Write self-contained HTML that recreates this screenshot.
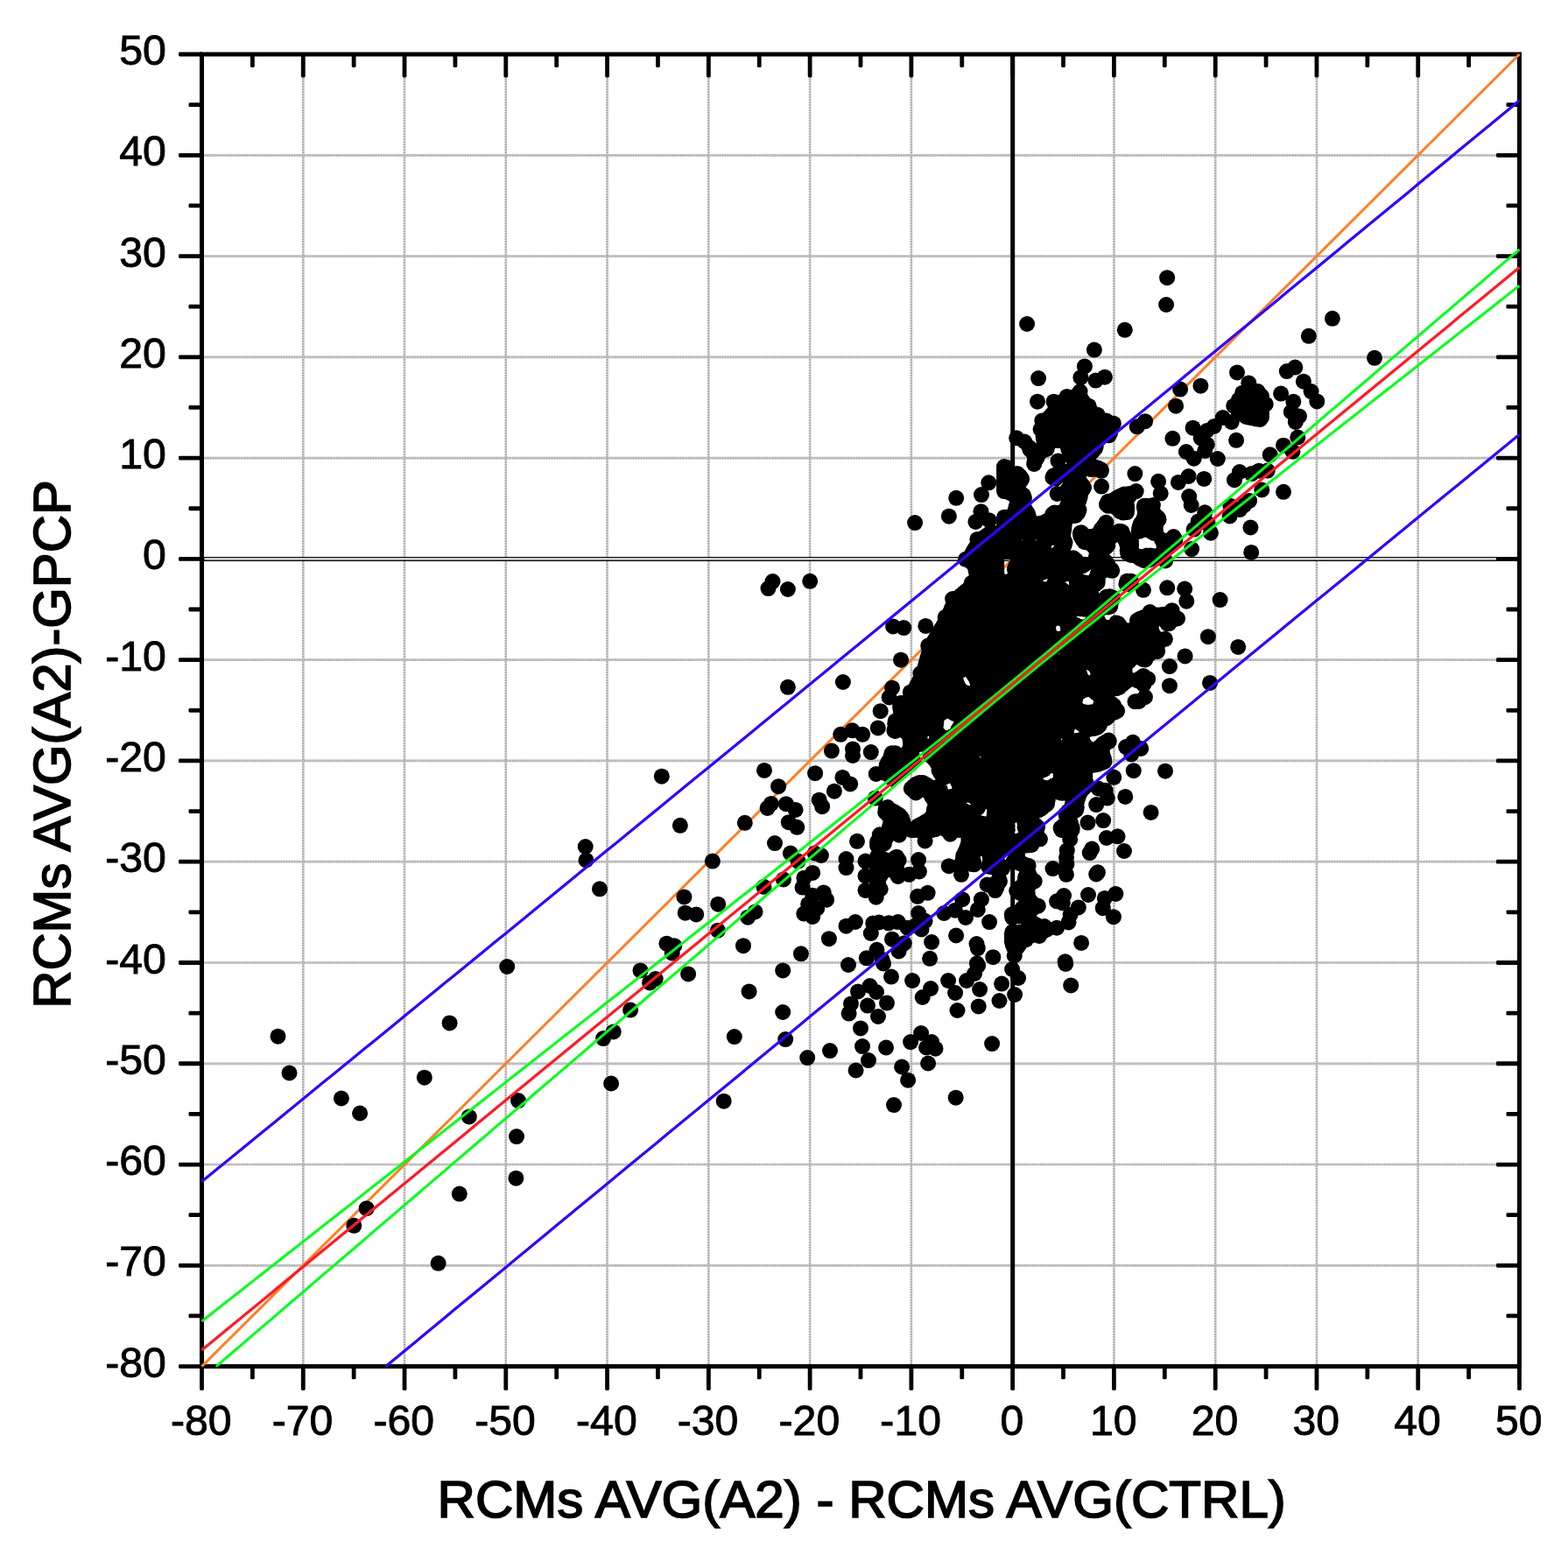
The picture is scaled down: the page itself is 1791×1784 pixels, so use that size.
<!DOCTYPE html>
<html lang="en"><head><meta charset="utf-8"><title>RCMs AVG(A2)-GPCP vs RCMs AVG(A2) - RCMs AVG(CTRL)</title>
<style>
html,body{margin:0;padding:0;background:#fff}
body{width:1791px;height:1784px;overflow:hidden}
svg{display:block}
text{font-family:"Liberation Sans",Arial,Helvetica,sans-serif;fill:#000}
.tk{font-size:48.2px;stroke:#000;stroke-width:0.9px}
.tt{font-size:60.1px;stroke:#000;stroke-width:1.7px}
.g{fill:none}
.ax{stroke:#000;stroke-width:5.0;fill:none}
.t{fill:#000}
.p{fill:#000}
</style></head><body>
<svg xmlns="http://www.w3.org/2000/svg" width="1791" height="1784" viewBox="0 0 1791 1784">
<rect width="1791" height="1784" fill="#fff"/>
<g class="g" stroke="#d6d6d6">
<line x1="346.3" y1="62" x2="346.3" y2="1560.6" stroke-width="2.5"/>
<line x1="462" y1="62" x2="462" y2="1560.6" stroke-width="2.5"/>
<line x1="577.8" y1="62" x2="577.8" y2="1560.6" stroke-width="2.5"/>
<line x1="693.6" y1="62" x2="693.6" y2="1560.6" stroke-width="2.5"/>
<line x1="809.3" y1="62" x2="809.3" y2="1560.6" stroke-width="2.5"/>
<line x1="925.1" y1="62" x2="925.1" y2="1560.6" stroke-width="2.5"/>
<line x1="1040.9" y1="62" x2="1040.9" y2="1560.6" stroke-width="2.5"/>
<line x1="1272.4" y1="62" x2="1272.4" y2="1560.6" stroke-width="2.5"/>
<line x1="1388.2" y1="62" x2="1388.2" y2="1560.6" stroke-width="2.5"/>
<line x1="1504" y1="62" x2="1504" y2="1560.6" stroke-width="2.5"/>
<line x1="1619.7" y1="62" x2="1619.7" y2="1560.6" stroke-width="2.5"/>
<line x1="230.5" y1="1445.3" x2="1735.5" y2="1445.3" stroke-width="2.7"/>
<line x1="230.5" y1="1330" x2="1735.5" y2="1330" stroke-width="2.7"/>
<line x1="230.5" y1="1214.8" x2="1735.5" y2="1214.8" stroke-width="2.7"/>
<line x1="230.5" y1="1099.5" x2="1735.5" y2="1099.5" stroke-width="2.7"/>
<line x1="230.5" y1="984.2" x2="1735.5" y2="984.2" stroke-width="2.7"/>
<line x1="230.5" y1="868.9" x2="1735.5" y2="868.9" stroke-width="2.7"/>
<line x1="230.5" y1="753.7" x2="1735.5" y2="753.7" stroke-width="2.7"/>
<line x1="230.5" y1="523.1" x2="1735.5" y2="523.1" stroke-width="2.7"/>
<line x1="230.5" y1="407.8" x2="1735.5" y2="407.8" stroke-width="2.7"/>
<line x1="230.5" y1="292.6" x2="1735.5" y2="292.6" stroke-width="2.7"/>
<line x1="230.5" y1="177.3" x2="1735.5" y2="177.3" stroke-width="2.7"/>
</g>
<g class="g" stroke="#b3b3b3" stroke-dasharray="2 1">
<line x1="346.3" y1="62" x2="346.3" y2="1560.6" stroke-width="2.5"/>
<line x1="462" y1="62" x2="462" y2="1560.6" stroke-width="2.5"/>
<line x1="577.8" y1="62" x2="577.8" y2="1560.6" stroke-width="2.5"/>
<line x1="693.6" y1="62" x2="693.6" y2="1560.6" stroke-width="2.5"/>
<line x1="809.3" y1="62" x2="809.3" y2="1560.6" stroke-width="2.5"/>
<line x1="925.1" y1="62" x2="925.1" y2="1560.6" stroke-width="2.5"/>
<line x1="1040.9" y1="62" x2="1040.9" y2="1560.6" stroke-width="2.5"/>
<line x1="1272.4" y1="62" x2="1272.4" y2="1560.6" stroke-width="2.5"/>
<line x1="1388.2" y1="62" x2="1388.2" y2="1560.6" stroke-width="2.5"/>
<line x1="1504" y1="62" x2="1504" y2="1560.6" stroke-width="2.5"/>
<line x1="1619.7" y1="62" x2="1619.7" y2="1560.6" stroke-width="2.5"/>
<line x1="230.5" y1="1445.3" x2="1735.5" y2="1445.3" stroke-width="2.7"/>
<line x1="230.5" y1="1330" x2="1735.5" y2="1330" stroke-width="2.7"/>
<line x1="230.5" y1="1214.8" x2="1735.5" y2="1214.8" stroke-width="2.7"/>
<line x1="230.5" y1="1099.5" x2="1735.5" y2="1099.5" stroke-width="2.7"/>
<line x1="230.5" y1="984.2" x2="1735.5" y2="984.2" stroke-width="2.7"/>
<line x1="230.5" y1="868.9" x2="1735.5" y2="868.9" stroke-width="2.7"/>
<line x1="230.5" y1="753.7" x2="1735.5" y2="753.7" stroke-width="2.7"/>
<line x1="230.5" y1="523.1" x2="1735.5" y2="523.1" stroke-width="2.7"/>
<line x1="230.5" y1="407.8" x2="1735.5" y2="407.8" stroke-width="2.7"/>
<line x1="230.5" y1="292.6" x2="1735.5" y2="292.6" stroke-width="2.7"/>
<line x1="230.5" y1="177.3" x2="1735.5" y2="177.3" stroke-width="2.7"/>
</g>
<line class="ax" x1="230.5" y1="638.4" x2="1735.5" y2="638.4"/>
<line x1="233.5" y1="638.4" x2="1709.5" y2="638.4" stroke="#cdcdcd" stroke-width="2.9"/>
<line class="ax" x1="1156.7" y1="62" x2="1156.7" y2="1560.6"/>
<rect class="ax" x="230.5" y="62" width="1505" height="1498.6"/>
<g class="t">
<rect x="228.1" y="1559.6" width="4.8" height="28.3" rx="1.4"/>
<rect x="204" y="1558.2" width="27.5" height="4.8" rx="1.4"/>
<rect x="285.98" y="1559.6" width="4.8" height="15.7" rx="1.4"/>
<rect x="215.5" y="1500.56" width="16" height="4.8" rx="1.4"/>
<rect x="285.98" y="61" width="4.8" height="16" rx="1.4"/>
<rect x="1720.5" y="1500.56" width="16" height="4.8" rx="1.4"/>
<rect x="343.87" y="1559.6" width="4.8" height="28.3" rx="1.4"/>
<rect x="204" y="1442.92" width="27.5" height="4.8" rx="1.4"/>
<rect x="343.87" y="61" width="4.8" height="27.5" rx="1.4"/>
<rect x="1709" y="1442.92" width="27.5" height="4.8" rx="1.4"/>
<rect x="401.75" y="1559.6" width="4.8" height="15.7" rx="1.4"/>
<rect x="215.5" y="1385.28" width="16" height="4.8" rx="1.4"/>
<rect x="401.75" y="61" width="4.8" height="16" rx="1.4"/>
<rect x="1720.5" y="1385.28" width="16" height="4.8" rx="1.4"/>
<rect x="459.64" y="1559.6" width="4.8" height="28.3" rx="1.4"/>
<rect x="204" y="1327.65" width="27.5" height="4.8" rx="1.4"/>
<rect x="459.64" y="61" width="4.8" height="27.5" rx="1.4"/>
<rect x="1709" y="1327.65" width="27.5" height="4.8" rx="1.4"/>
<rect x="517.52" y="1559.6" width="4.8" height="15.7" rx="1.4"/>
<rect x="215.5" y="1270.01" width="16" height="4.8" rx="1.4"/>
<rect x="517.52" y="61" width="4.8" height="16" rx="1.4"/>
<rect x="1720.5" y="1270.01" width="16" height="4.8" rx="1.4"/>
<rect x="575.41" y="1559.6" width="4.8" height="28.3" rx="1.4"/>
<rect x="204" y="1212.37" width="27.5" height="4.8" rx="1.4"/>
<rect x="575.41" y="61" width="4.8" height="27.5" rx="1.4"/>
<rect x="1709" y="1212.37" width="27.5" height="4.8" rx="1.4"/>
<rect x="633.29" y="1559.6" width="4.8" height="15.7" rx="1.4"/>
<rect x="215.5" y="1154.73" width="16" height="4.8" rx="1.4"/>
<rect x="633.29" y="61" width="4.8" height="16" rx="1.4"/>
<rect x="1720.5" y="1154.73" width="16" height="4.8" rx="1.4"/>
<rect x="691.18" y="1559.6" width="4.8" height="28.3" rx="1.4"/>
<rect x="204" y="1097.09" width="27.5" height="4.8" rx="1.4"/>
<rect x="691.18" y="61" width="4.8" height="27.5" rx="1.4"/>
<rect x="1709" y="1097.09" width="27.5" height="4.8" rx="1.4"/>
<rect x="749.06" y="1559.6" width="4.8" height="15.7" rx="1.4"/>
<rect x="215.5" y="1039.45" width="16" height="4.8" rx="1.4"/>
<rect x="749.06" y="61" width="4.8" height="16" rx="1.4"/>
<rect x="1720.5" y="1039.45" width="16" height="4.8" rx="1.4"/>
<rect x="806.95" y="1559.6" width="4.8" height="28.3" rx="1.4"/>
<rect x="204" y="981.82" width="27.5" height="4.8" rx="1.4"/>
<rect x="806.95" y="61" width="4.8" height="27.5" rx="1.4"/>
<rect x="1709" y="981.82" width="27.5" height="4.8" rx="1.4"/>
<rect x="864.83" y="1559.6" width="4.8" height="15.7" rx="1.4"/>
<rect x="215.5" y="924.18" width="16" height="4.8" rx="1.4"/>
<rect x="864.83" y="61" width="4.8" height="16" rx="1.4"/>
<rect x="1720.5" y="924.18" width="16" height="4.8" rx="1.4"/>
<rect x="922.72" y="1559.6" width="4.8" height="28.3" rx="1.4"/>
<rect x="204" y="866.54" width="27.5" height="4.8" rx="1.4"/>
<rect x="922.72" y="61" width="4.8" height="27.5" rx="1.4"/>
<rect x="1709" y="866.54" width="27.5" height="4.8" rx="1.4"/>
<rect x="980.6" y="1559.6" width="4.8" height="15.7" rx="1.4"/>
<rect x="215.5" y="808.9" width="16" height="4.8" rx="1.4"/>
<rect x="980.6" y="61" width="4.8" height="16" rx="1.4"/>
<rect x="1720.5" y="808.9" width="16" height="4.8" rx="1.4"/>
<rect x="1038.48" y="1559.6" width="4.8" height="28.3" rx="1.4"/>
<rect x="204" y="751.26" width="27.5" height="4.8" rx="1.4"/>
<rect x="1038.48" y="61" width="4.8" height="27.5" rx="1.4"/>
<rect x="1709" y="751.26" width="27.5" height="4.8" rx="1.4"/>
<rect x="1096.37" y="1559.6" width="4.8" height="15.7" rx="1.4"/>
<rect x="215.5" y="693.62" width="16" height="4.8" rx="1.4"/>
<rect x="1096.37" y="61" width="4.8" height="16" rx="1.4"/>
<rect x="1720.5" y="693.62" width="16" height="4.8" rx="1.4"/>
<rect x="1154.25" y="1559.6" width="4.8" height="28.3" rx="1.4"/>
<rect x="204" y="635.98" width="27.5" height="4.8" rx="1.4"/>
<rect x="1154.25" y="61" width="4.8" height="27.5" rx="1.4"/>
<rect x="1709" y="635.98" width="27.5" height="4.8" rx="1.4"/>
<rect x="1212.14" y="1559.6" width="4.8" height="15.7" rx="1.4"/>
<rect x="215.5" y="578.35" width="16" height="4.8" rx="1.4"/>
<rect x="1212.14" y="61" width="4.8" height="16" rx="1.4"/>
<rect x="1720.5" y="578.35" width="16" height="4.8" rx="1.4"/>
<rect x="1270.02" y="1559.6" width="4.8" height="28.3" rx="1.4"/>
<rect x="204" y="520.71" width="27.5" height="4.8" rx="1.4"/>
<rect x="1270.02" y="61" width="4.8" height="27.5" rx="1.4"/>
<rect x="1709" y="520.71" width="27.5" height="4.8" rx="1.4"/>
<rect x="1327.91" y="1559.6" width="4.8" height="15.7" rx="1.4"/>
<rect x="215.5" y="463.07" width="16" height="4.8" rx="1.4"/>
<rect x="1327.91" y="61" width="4.8" height="16" rx="1.4"/>
<rect x="1720.5" y="463.07" width="16" height="4.8" rx="1.4"/>
<rect x="1385.79" y="1559.6" width="4.8" height="28.3" rx="1.4"/>
<rect x="204" y="405.43" width="27.5" height="4.8" rx="1.4"/>
<rect x="1385.79" y="61" width="4.8" height="27.5" rx="1.4"/>
<rect x="1709" y="405.43" width="27.5" height="4.8" rx="1.4"/>
<rect x="1443.68" y="1559.6" width="4.8" height="15.7" rx="1.4"/>
<rect x="215.5" y="347.79" width="16" height="4.8" rx="1.4"/>
<rect x="1443.68" y="61" width="4.8" height="16" rx="1.4"/>
<rect x="1720.5" y="347.79" width="16" height="4.8" rx="1.4"/>
<rect x="1501.56" y="1559.6" width="4.8" height="28.3" rx="1.4"/>
<rect x="204" y="290.15" width="27.5" height="4.8" rx="1.4"/>
<rect x="1501.56" y="61" width="4.8" height="27.5" rx="1.4"/>
<rect x="1709" y="290.15" width="27.5" height="4.8" rx="1.4"/>
<rect x="1559.45" y="1559.6" width="4.8" height="15.7" rx="1.4"/>
<rect x="215.5" y="232.52" width="16" height="4.8" rx="1.4"/>
<rect x="1559.45" y="61" width="4.8" height="16" rx="1.4"/>
<rect x="1720.5" y="232.52" width="16" height="4.8" rx="1.4"/>
<rect x="1617.33" y="1559.6" width="4.8" height="28.3" rx="1.4"/>
<rect x="204" y="174.88" width="27.5" height="4.8" rx="1.4"/>
<rect x="1617.33" y="61" width="4.8" height="27.5" rx="1.4"/>
<rect x="1709" y="174.88" width="27.5" height="4.8" rx="1.4"/>
<rect x="1675.22" y="1559.6" width="4.8" height="15.7" rx="1.4"/>
<rect x="215.5" y="117.24" width="16" height="4.8" rx="1.4"/>
<rect x="1675.22" y="61" width="4.8" height="16" rx="1.4"/>
<rect x="1720.5" y="117.24" width="16" height="4.8" rx="1.4"/>
<rect x="1733.1" y="1559.6" width="4.8" height="28.3" rx="1.4"/>
<rect x="204" y="59.6" width="27.5" height="4.8" rx="1.4"/>
</g>
<line x1="230.5" y1="1560.6" x2="1735.5" y2="62" stroke="#ff7f27" stroke-width="3"/>
<g class="p">
<circle cx="317.5" cy="1183.7" r="9.0"/>
<circle cx="330.5" cy="1225.5" r="9.0"/>
<circle cx="389.9" cy="1254.5" r="9.0"/>
<circle cx="411.1" cy="1271.5" r="9.0"/>
<circle cx="513.6" cy="1168.4" r="9.0"/>
<circle cx="484.8" cy="1230.7" r="9.0"/>
<circle cx="535.8" cy="1275.5" r="9.0"/>
<circle cx="524.8" cy="1363.6" r="9.0"/>
<circle cx="418.7" cy="1380.2" r="9.0"/>
<circle cx="404.3" cy="1399.8" r="9.0"/>
<circle cx="500.6" cy="1442.8" r="9.0"/>
<circle cx="579.2" cy="1104" r="9.0"/>
<circle cx="592" cy="1257.1" r="9.0"/>
<circle cx="590" cy="1298.1" r="9.0"/>
<circle cx="589.4" cy="1345.7" r="9.0"/>
<circle cx="689.1" cy="1186.1" r="9.0"/>
<circle cx="700.7" cy="1178.4" r="9.0"/>
<circle cx="720.1" cy="1153.6" r="9.0"/>
<circle cx="698.1" cy="1237.5" r="9.0"/>
<circle cx="731.5" cy="1108.4" r="9.0"/>
<circle cx="742.1" cy="1122.4" r="9.0"/>
<circle cx="748.7" cy="1118" r="9.0"/>
<circle cx="786.1" cy="1112.4" r="9.0"/>
<circle cx="855.6" cy="1132.4" r="9.0"/>
<circle cx="894.2" cy="1108.4" r="9.0"/>
<circle cx="894.2" cy="1156" r="9.0"/>
<circle cx="838.8" cy="1184.1" r="9.0"/>
<circle cx="897.2" cy="1187.1" r="9.0"/>
<circle cx="922.2" cy="1208.1" r="9.0"/>
<circle cx="826.7" cy="1257.7" r="9.0"/>
<circle cx="969" cy="1102" r="9.0"/>
<circle cx="1009" cy="1100.4" r="9.0"/>
<circle cx="1018" cy="1115.6" r="9.0"/>
<circle cx="1042.1" cy="1120" r="9.0"/>
<circle cx="993.6" cy="1126" r="9.0"/>
<circle cx="980" cy="1132.4" r="9.0"/>
<circle cx="1001" cy="1133" r="9.0"/>
<circle cx="972" cy="1146.4" r="9.0"/>
<circle cx="991" cy="1148.6" r="9.0"/>
<circle cx="1013" cy="1145.6" r="9.0"/>
<circle cx="969.6" cy="1157.6" r="9.0"/>
<circle cx="1003" cy="1161" r="9.0"/>
<circle cx="983" cy="1174.4" r="9.0"/>
<circle cx="1063.1" cy="1129" r="9.0"/>
<circle cx="1053.7" cy="1139" r="9.0"/>
<circle cx="1083.1" cy="1120" r="9.0"/>
<circle cx="1091.1" cy="1134" r="9.0"/>
<circle cx="1104.1" cy="1120" r="9.0"/>
<circle cx="1113.1" cy="1112" r="9.0"/>
<circle cx="1117.1" cy="1103" r="9.0"/>
<circle cx="1119.1" cy="1130" r="9.0"/>
<circle cx="1144.1" cy="1123.6" r="9.0"/>
<circle cx="1156.1" cy="1107" r="9.0"/>
<circle cx="1163.1" cy="1117" r="9.0"/>
<circle cx="1159.1" cy="1136" r="9.0"/>
<circle cx="1141.5" cy="1143" r="9.0"/>
<circle cx="1117.7" cy="1149.4" r="9.0"/>
<circle cx="1093.5" cy="1154" r="9.0"/>
<circle cx="1223.2" cy="1125.4" r="9.0"/>
<circle cx="1217.2" cy="1101" r="9.0"/>
<circle cx="1052.1" cy="1180" r="9.0"/>
<circle cx="1040.1" cy="1190.1" r="9.0"/>
<circle cx="1064.1" cy="1190.1" r="9.0"/>
<circle cx="1058.1" cy="1196.5" r="9.0"/>
<circle cx="1068.5" cy="1197.7" r="9.0"/>
<circle cx="1133.1" cy="1192.1" r="9.0"/>
<circle cx="948" cy="1200.1" r="9.0"/>
<circle cx="985" cy="1195.1" r="9.0"/>
<circle cx="1012" cy="1196.5" r="9.0"/>
<circle cx="992" cy="1211.1" r="9.0"/>
<circle cx="977.6" cy="1222.5" r="9.0"/>
<circle cx="1030.1" cy="1218.5" r="9.0"/>
<circle cx="1060.1" cy="1214.5" r="9.0"/>
<circle cx="1037.1" cy="1233.7" r="9.0"/>
<circle cx="1021" cy="1262.1" r="9.0"/>
<circle cx="1091.7" cy="1253.7" r="9.0"/>
<circle cx="755.8" cy="886.7" r="9.0"/>
<circle cx="776.9" cy="942.8" r="9.0"/>
<circle cx="668.7" cy="967" r="9.0"/>
<circle cx="669.5" cy="982.5" r="9.0"/>
<circle cx="685" cy="1015.3" r="9.0"/>
<circle cx="813.9" cy="983.6" r="9.0"/>
<circle cx="781.4" cy="1024.4" r="9.0"/>
<circle cx="782.7" cy="1042.7" r="9.0"/>
<circle cx="795.2" cy="1044.4" r="9.0"/>
<circle cx="820.2" cy="1032.7" r="9.0"/>
<circle cx="819.9" cy="1062.7" r="9.0"/>
<circle cx="761.4" cy="1077.7" r="9.0"/>
<circle cx="770.2" cy="1080.2" r="9.0"/>
<circle cx="767.7" cy="1088.5" r="9.0"/>
<circle cx="849" cy="1080.2" r="9.0"/>
<circle cx="1466" cy="561.8" r="9.0"/>
<circle cx="1466" cy="508.7" r="9.0"/>
<circle cx="1476.5" cy="515.7" r="9.0"/>
<circle cx="1450.7" cy="519.3" r="9.0"/>
<circle cx="1447.7" cy="537.6" r="9.0"/>
<circle cx="882.5" cy="664.1" r="9.0"/>
<circle cx="877.5" cy="672.1" r="9.0"/>
<circle cx="899.9" cy="673" r="9.0"/>
<circle cx="925.2" cy="663.8" r="9.0"/>
<circle cx="1045.1" cy="597.1" r="9.0"/>
<circle cx="1092.2" cy="568.8" r="9.0"/>
<circle cx="1083.9" cy="589.7" r="9.0"/>
<circle cx="899.9" cy="784.8" r="9.0"/>
<circle cx="962.9" cy="779" r="9.0"/>
<circle cx="1020.1" cy="715.4" r="9.0"/>
<circle cx="1032.3" cy="717.1" r="9.0"/>
<circle cx="1057.3" cy="714.9" r="9.0"/>
<circle cx="1029" cy="753.7" r="9.0"/>
<circle cx="1019" cy="785.7" r="9.0"/>
<circle cx="1015.6" cy="796.5" r="9.0"/>
<circle cx="1039.8" cy="790.7" r="9.0"/>
<circle cx="1051.4" cy="769" r="9.0"/>
<circle cx="1060.3" cy="737.4" r="9.0"/>
<circle cx="1079.7" cy="704.9" r="9.0"/>
<circle cx="1088.1" cy="684.1" r="9.0"/>
<circle cx="1109.7" cy="665.8" r="9.0"/>
<circle cx="1114.7" cy="652.5" r="9.0"/>
<circle cx="1103" cy="638.8" r="9.0"/>
<circle cx="1116.4" cy="615.9" r="9.0"/>
<circle cx="1114.4" cy="595.9" r="9.0"/>
<circle cx="1120.5" cy="584.2" r="9.0"/>
<circle cx="1129.7" cy="594.2" r="9.0"/>
<circle cx="1121" cy="565.1" r="9.0"/>
<circle cx="1129.3" cy="551.3" r="9.0"/>
<circle cx="1339.4" cy="500.8" r="9.0"/>
<circle cx="1412.1" cy="502.8" r="9.0"/>
<circle cx="1354.9" cy="516" r="9.0"/>
<circle cx="1363.7" cy="523.7" r="9.0"/>
<circle cx="1376.2" cy="514.8" r="9.0"/>
<circle cx="1378.7" cy="507.7" r="9.0"/>
<circle cx="1390.8" cy="524" r="9.0"/>
<circle cx="1323.1" cy="549.8" r="9.0"/>
<circle cx="1325.7" cy="563.6" r="9.0"/>
<circle cx="1345.9" cy="550.9" r="9.0"/>
<circle cx="1357.6" cy="544" r="9.0"/>
<circle cx="1375.3" cy="546.9" r="9.0"/>
<circle cx="1410" cy="548.2" r="9.0"/>
<circle cx="1415.9" cy="539" r="9.0"/>
<circle cx="1429.6" cy="541.1" r="9.0"/>
<circle cx="1438" cy="537.7" r="9.0"/>
<circle cx="1441.3" cy="559.5" r="9.0"/>
<circle cx="1296.4" cy="541.1" r="9.0"/>
<circle cx="1297.7" cy="561.1" r="9.0"/>
<circle cx="1358.2" cy="567" r="9.0"/>
<circle cx="1360.7" cy="577" r="9.0"/>
<circle cx="1376.2" cy="585.3" r="9.0"/>
<circle cx="1368.7" cy="595.4" r="9.0"/>
<circle cx="1363.7" cy="604.6" r="9.0"/>
<circle cx="1382.9" cy="608.7" r="9.0"/>
<circle cx="1379.5" cy="597.9" r="9.0"/>
<circle cx="1405.4" cy="577.8" r="9.0"/>
<circle cx="1404.6" cy="589.5" r="9.0"/>
<circle cx="1416.3" cy="582" r="9.0"/>
<circle cx="1427.1" cy="572" r="9.0"/>
<circle cx="1421.3" cy="577" r="9.0"/>
<circle cx="1428.4" cy="602.5" r="9.0"/>
<circle cx="1429.2" cy="630.9" r="9.0"/>
<circle cx="1361.1" cy="627.1" r="9.0"/>
<circle cx="1313.5" cy="638.8" r="9.0"/>
<circle cx="1323.6" cy="634.6" r="9.0"/>
<circle cx="1331.1" cy="640.5" r="9.0"/>
<circle cx="1306.9" cy="577.8" r="9.0"/>
<circle cx="1316.9" cy="577" r="9.0"/>
<circle cx="1306" cy="673.8" r="9.0"/>
<circle cx="1333.2" cy="671.3" r="9.0"/>
<circle cx="1353.2" cy="672.5" r="9.0"/>
<circle cx="1355.3" cy="686.7" r="9.0"/>
<circle cx="1393.6" cy="685.1" r="9.0"/>
<circle cx="1379.9" cy="727.2" r="9.0"/>
<circle cx="1414.2" cy="738.9" r="9.0"/>
<circle cx="1353.6" cy="749.4" r="9.0"/>
<circle cx="1335.9" cy="761.1" r="9.0"/>
<circle cx="1335.9" cy="783.2" r="9.0"/>
<circle cx="1382" cy="779.9" r="9.0"/>
<circle cx="1313.5" cy="699.1" r="9.0"/>
<circle cx="1338.6" cy="697.2" r="9.0"/>
<circle cx="1345" cy="706.4" r="9.0"/>
<circle cx="1330.9" cy="729.8" r="9.0"/>
<circle cx="1322.1" cy="744" r="9.0"/>
<circle cx="1311.2" cy="775.3" r="9.0"/>
<circle cx="1307.9" cy="796.2" r="9.0"/>
<circle cx="960.2" cy="838.8" r="9.0"/>
<circle cx="973.5" cy="834.3" r="9.0"/>
<circle cx="985.2" cy="838.8" r="9.0"/>
<circle cx="949.9" cy="857.6" r="9.0"/>
<circle cx="974" cy="855.4" r="9.0"/>
<circle cx="974" cy="862.9" r="9.0"/>
<circle cx="994.8" cy="859.1" r="9.0"/>
<circle cx="873" cy="879.9" r="9.0"/>
<circle cx="889.1" cy="898.2" r="9.0"/>
<circle cx="931.1" cy="883.2" r="9.0"/>
<circle cx="962.4" cy="887.9" r="9.0"/>
<circle cx="971.2" cy="895.4" r="9.0"/>
<circle cx="952.9" cy="903.7" r="9.0"/>
<circle cx="935.7" cy="913.7" r="9.0"/>
<circle cx="939.1" cy="921.2" r="9.0"/>
<circle cx="880.8" cy="917.9" r="9.0"/>
<circle cx="876.6" cy="922.9" r="9.0"/>
<circle cx="897.9" cy="918.2" r="9.0"/>
<circle cx="908.6" cy="924.9" r="9.0"/>
<circle cx="850.8" cy="939.8" r="9.0"/>
<circle cx="900.8" cy="939.2" r="9.0"/>
<circle cx="910.3" cy="944.8" r="9.0"/>
<circle cx="885" cy="963.1" r="9.0"/>
<circle cx="979" cy="960.8" r="9.0"/>
<circle cx="902.9" cy="974.5" r="9.0"/>
<circle cx="911.6" cy="983.6" r="9.0"/>
<circle cx="930.7" cy="974.5" r="9.0"/>
<circle cx="937.9" cy="977" r="9.0"/>
<circle cx="966.5" cy="981.1" r="9.0"/>
<circle cx="966.5" cy="991.1" r="9.0"/>
<circle cx="872.5" cy="1012.8" r="9.0"/>
<circle cx="894.9" cy="1004.4" r="9.0"/>
<circle cx="928.2" cy="996.9" r="9.0"/>
<circle cx="918.3" cy="1002.8" r="9.0"/>
<circle cx="916.6" cy="1013.6" r="9.0"/>
<circle cx="940.7" cy="1019.4" r="9.0"/>
<circle cx="928.2" cy="1022.7" r="9.0"/>
<circle cx="944.1" cy="1027.7" r="9.0"/>
<circle cx="923.2" cy="1032.7" r="9.0"/>
<circle cx="933.2" cy="1037.7" r="9.0"/>
<circle cx="918.3" cy="1043.6" r="9.0"/>
<circle cx="928.2" cy="1046.9" r="9.0"/>
<circle cx="862.5" cy="1041.4" r="9.0"/>
<circle cx="854.2" cy="1047.7" r="9.0"/>
<circle cx="914.9" cy="1089.3" r="9.0"/>
<circle cx="946.9" cy="1072.2" r="9.0"/>
<circle cx="966.5" cy="1057.7" r="9.0"/>
<circle cx="976.9" cy="1053" r="9.0"/>
<circle cx="997.3" cy="1054.4" r="9.0"/>
<circle cx="994.8" cy="1066" r="9.0"/>
<circle cx="988.5" cy="983.6" r="9.0"/>
<circle cx="988.5" cy="1000.3" r="9.0"/>
<circle cx="988.5" cy="1016.9" r="9.0"/>
<circle cx="989.8" cy="1094.3" r="9.0"/>
<circle cx="1005.7" cy="812.2" r="9.0"/>
<circle cx="1002.8" cy="831.4" r="9.0"/>
<circle cx="1000.7" cy="884" r="9.0"/>
<circle cx="999.8" cy="911.6" r="9.0"/>
<circle cx="1004.8" cy="953.3" r="9.0"/>
<circle cx="1009.9" cy="963.4" r="9.0"/>
<circle cx="1009.9" cy="961" r="9.0"/>
<circle cx="1027" cy="953.7" r="9.0"/>
<circle cx="1056.6" cy="960.5" r="9.0"/>
<circle cx="1085.4" cy="952.7" r="9.0"/>
<circle cx="1007.8" cy="980.4" r="9.0"/>
<circle cx="1024.1" cy="978.7" r="9.0"/>
<circle cx="1049.1" cy="982.1" r="9.0"/>
<circle cx="1049.9" cy="995.4" r="9.0"/>
<circle cx="1025.7" cy="1000.9" r="9.0"/>
<circle cx="1038.3" cy="998.8" r="9.0"/>
<circle cx="1015.7" cy="991.3" r="9.0"/>
<circle cx="1006.5" cy="998.8" r="9.0"/>
<circle cx="1083.8" cy="989.2" r="9.0"/>
<circle cx="1098" cy="998.8" r="9.0"/>
<circle cx="1097.6" cy="987.1" r="9.0"/>
<circle cx="1005.7" cy="1015.5" r="9.0"/>
<circle cx="1000.7" cy="1024.7" r="9.0"/>
<circle cx="1059.6" cy="1019.8" r="9.0"/>
<circle cx="1048.1" cy="1023.8" r="9.0"/>
<circle cx="1049.1" cy="1043" r="9.0"/>
<circle cx="1099.2" cy="1027.2" r="9.0"/>
<circle cx="1120.9" cy="1027.2" r="9.0"/>
<circle cx="1116.8" cy="1038.9" r="9.0"/>
<circle cx="1078.3" cy="1043" r="9.0"/>
<circle cx="1090.9" cy="1039.7" r="9.0"/>
<circle cx="1103" cy="1048" r="9.0"/>
<circle cx="1130.1" cy="1053.1" r="9.0"/>
<circle cx="1004" cy="1053.5" r="9.0"/>
<circle cx="1014.9" cy="1054.3" r="9.0"/>
<circle cx="1025.7" cy="1053.1" r="9.0"/>
<circle cx="1036.6" cy="1059.7" r="9.0"/>
<circle cx="1056.6" cy="1051.8" r="9.0"/>
<circle cx="1052.5" cy="1061.4" r="9.0"/>
<circle cx="1045.8" cy="1057.2" r="9.0"/>
<circle cx="1092.1" cy="1068.5" r="9.0"/>
<circle cx="1064.1" cy="1076" r="9.0"/>
<circle cx="1019" cy="1072.7" r="9.0"/>
<circle cx="1032.8" cy="1077.3" r="9.0"/>
<circle cx="1026.6" cy="1086.5" r="9.0"/>
<circle cx="1001.5" cy="1084.8" r="9.0"/>
<circle cx="1007.4" cy="1095.7" r="9.0"/>
<circle cx="1115.5" cy="1078.1" r="9.0"/>
<circle cx="1116.8" cy="1083.1" r="9.0"/>
<circle cx="1134.3" cy="1093.2" r="9.0"/>
<circle cx="1062.1" cy="1094.8" r="9.0"/>
<circle cx="1115.9" cy="1100.3" r="9.0"/>
<circle cx="1127.6" cy="1010.5" r="9.0"/>
<circle cx="1136.8" cy="1017.1" r="9.0"/>
<circle cx="1141" cy="1003.8" r="9.0"/>
<circle cx="1286.1" cy="853.1" r="9.0"/>
<circle cx="1294" cy="847.8" r="9.0"/>
<circle cx="1292.3" cy="861.5" r="9.0"/>
<circle cx="1294.8" cy="880.2" r="9.0"/>
<circle cx="1272.3" cy="887.8" r="9.0"/>
<circle cx="1285.3" cy="909.9" r="9.0"/>
<circle cx="1254.7" cy="900.7" r="9.0"/>
<circle cx="1262.7" cy="902.8" r="9.0"/>
<circle cx="1264.8" cy="911.6" r="9.0"/>
<circle cx="1252.2" cy="919.1" r="9.0"/>
<circle cx="1242.5" cy="939.6" r="9.0"/>
<circle cx="1260.2" cy="937.1" r="9.0"/>
<circle cx="1296.5" cy="801.3" r="9.0"/>
<circle cx="1187.9" cy="958.3" r="9.0"/>
<circle cx="1178.3" cy="964.9" r="9.0"/>
<circle cx="1222.2" cy="958.7" r="9.0"/>
<circle cx="1218.8" cy="971.2" r="9.0"/>
<circle cx="1218" cy="979.6" r="9.0"/>
<circle cx="1263.9" cy="957" r="9.0"/>
<circle cx="1276.5" cy="955.3" r="9.0"/>
<circle cx="1247.2" cy="969.5" r="9.0"/>
<circle cx="1244.7" cy="974.1" r="9.0"/>
<circle cx="1284" cy="972" r="9.0"/>
<circle cx="1202.5" cy="992.1" r="9.0"/>
<circle cx="1218" cy="998.8" r="9.0"/>
<circle cx="1218.4" cy="987.1" r="9.0"/>
<circle cx="1253.9" cy="996.3" r="9.0"/>
<circle cx="1252.2" cy="998.4" r="9.0"/>
<circle cx="1174.6" cy="988.7" r="9.0"/>
<circle cx="1181.7" cy="1006.3" r="9.0"/>
<circle cx="1173.7" cy="1020.5" r="9.0"/>
<circle cx="1215.1" cy="1023" r="9.0"/>
<circle cx="1207.1" cy="1029.3" r="9.0"/>
<circle cx="1213.8" cy="1031.3" r="9.0"/>
<circle cx="1243" cy="1022" r="9.0"/>
<circle cx="1231.8" cy="1036.4" r="9.0"/>
<circle cx="1222.6" cy="1044.7" r="9.0"/>
<circle cx="1220.5" cy="1053.5" r="9.0"/>
<circle cx="1274.4" cy="1020.9" r="9.0"/>
<circle cx="1261.8" cy="1025.9" r="9.0"/>
<circle cx="1259.8" cy="1037.2" r="9.0"/>
<circle cx="1271.9" cy="1047.2" r="9.0"/>
<circle cx="1185.8" cy="1034.7" r="9.0"/>
<circle cx="1174.6" cy="1048" r="9.0"/>
<circle cx="1192.9" cy="1058.1" r="9.0"/>
<circle cx="1207.1" cy="1059.7" r="9.0"/>
<circle cx="1187.1" cy="1068.9" r="9.0"/>
<circle cx="1172.1" cy="1073.1" r="9.0"/>
<circle cx="1158.7" cy="1091.5" r="9.0"/>
<circle cx="1235.1" cy="1076.9" r="9.0"/>
<circle cx="1216.7" cy="1098.2" r="9.0"/>
<circle cx="1301" cy="801" r="9.0"/>
<circle cx="1303.2" cy="854.9" r="9.0"/>
<circle cx="1331" cy="880.7" r="9.0"/>
<circle cx="1314.6" cy="927.9" r="9.0"/>
<circle cx="1333.1" cy="317.2" r="9.0"/>
<circle cx="1332.1" cy="348" r="9.0"/>
<circle cx="1173.1" cy="370" r="9.0"/>
<circle cx="1284.8" cy="376.8" r="9.0"/>
<circle cx="1249.9" cy="399.6" r="9.0"/>
<circle cx="1186.1" cy="432.1" r="9.0"/>
<circle cx="1238.9" cy="418.4" r="9.0"/>
<circle cx="1234.4" cy="431.2" r="9.0"/>
<circle cx="1251.5" cy="434.6" r="9.0"/>
<circle cx="1261.9" cy="430.7" r="9.0"/>
<circle cx="1185" cy="458.7" r="9.0"/>
<circle cx="1413" cy="425.4" r="9.0"/>
<circle cx="1371.4" cy="440.7" r="9.0"/>
<circle cx="1348.1" cy="444.6" r="9.0"/>
<circle cx="1343.1" cy="463.7" r="9.0"/>
<circle cx="1426.3" cy="437.4" r="9.0"/>
<circle cx="1419.2" cy="448.7" r="9.0"/>
<circle cx="1436.7" cy="447.1" r="9.0"/>
<circle cx="1409.2" cy="463.7" r="9.0"/>
<circle cx="1421.7" cy="468.7" r="9.0"/>
<circle cx="1438.3" cy="475.4" r="9.0"/>
<circle cx="1396.7" cy="477" r="9.0"/>
<circle cx="1406.7" cy="482" r="9.0"/>
<circle cx="1386.7" cy="487" r="9.0"/>
<circle cx="1378.4" cy="492" r="9.0"/>
<circle cx="1371.7" cy="500.3" r="9.0"/>
<circle cx="1308.1" cy="481.2" r="9.0"/>
<circle cx="1298.8" cy="487.3" r="9.0"/>
<circle cx="1362.6" cy="488.7" r="9.0"/>
<circle cx="1203.6" cy="458.7" r="9.0"/>
<circle cx="1218.6" cy="452.9" r="9.0"/>
<circle cx="1233.6" cy="447.1" r="9.0"/>
<circle cx="1243.6" cy="463.7" r="9.0"/>
<circle cx="1253.5" cy="473.7" r="9.0"/>
<circle cx="1263.5" cy="480.4" r="9.0"/>
<circle cx="1271.9" cy="483.7" r="9.0"/>
<circle cx="1190.3" cy="480.4" r="9.0"/>
<circle cx="1188.6" cy="490.3" r="9.0"/>
<circle cx="1161.2" cy="500.3" r="9.0"/>
<circle cx="1170.3" cy="504.5" r="9.0"/>
<circle cx="1521.9" cy="363.8" r="9.0"/>
<circle cx="1494.8" cy="383.8" r="9.0"/>
<circle cx="1570" cy="408.8" r="9.0"/>
<circle cx="1479.3" cy="419.6" r="9.0"/>
<circle cx="1469.8" cy="424.1" r="9.0"/>
<circle cx="1488.9" cy="435.7" r="9.0"/>
<circle cx="1497.6" cy="447.1" r="9.0"/>
<circle cx="1504.3" cy="458.4" r="9.0"/>
<circle cx="1463.1" cy="449.6" r="9.0"/>
<circle cx="1477.3" cy="458.7" r="9.0"/>
<circle cx="1474.8" cy="470.4" r="9.0"/>
<circle cx="1484" cy="475.4" r="9.0"/>
<circle cx="1479.8" cy="482" r="9.0"/>
<circle cx="1445.7" cy="461.7" r="9.0"/>
<circle cx="1482.3" cy="499.5" r="9.0"/>
<circle cx="1432.2" cy="458.1" r="9.0"/>
<circle cx="1440.6" cy="461.5" r="9.0"/>
<circle cx="1292" cy="618.3" r="9.0"/>
<circle cx="1288.1" cy="617.4" r="9.0"/>
<circle cx="1285" cy="614.9" r="9.0"/>
<circle cx="1283.2" cy="611.4" r="9.0"/>
<circle cx="1281.6" cy="607.7" r="9.0"/>
<circle cx="1278.2" cy="606.7" r="9.0"/>
<circle cx="1275.3" cy="609.4" r="9.0"/>
<circle cx="1271.5" cy="610.7" r="9.0"/>
<circle cx="1267.6" cy="610.2" r="9.0"/>
<circle cx="1264.3" cy="608" r="9.0"/>
<circle cx="1262.3" cy="604.6" r="9.0"/>
<circle cx="1262" cy="600.6" r="9.0"/>
<circle cx="1263.3" cy="596.8" r="9.0"/>
<circle cx="1262.5" cy="598.3" r="9.0"/>
<circle cx="1260.1" cy="601.5" r="9.0"/>
<circle cx="1257.6" cy="604.6" r="9.0"/>
<circle cx="1255.6" cy="608.1" r="9.0"/>
<circle cx="1252.9" cy="611" r="9.0"/>
<circle cx="1249.2" cy="612.4" r="9.0"/>
<circle cx="1245.2" cy="613" r="9.0"/>
<circle cx="1241.2" cy="613.1" r="9.0"/>
<circle cx="1237.7" cy="611.4" r="9.0"/>
<circle cx="1235.2" cy="608.3" r="9.0"/>
<circle cx="1233.8" cy="608.8" r="9.0"/>
<circle cx="1234.4" cy="612.4" r="9.0"/>
<circle cx="1236.3" cy="615.9" r="9.0"/>
<circle cx="1238.6" cy="619" r="9.0"/>
<circle cx="1242.6" cy="619.7" r="9.0"/>
<circle cx="1246.3" cy="621.2" r="9.0"/>
<circle cx="1249.1" cy="623.9" r="9.0"/>
<circle cx="1251.6" cy="627" r="9.0"/>
<circle cx="1252.7" cy="630.9" r="9.0"/>
<circle cx="1252.2" cy="634.8" r="9.0"/>
<circle cx="1251.4" cy="638.7" r="9.0"/>
<circle cx="1250.4" cy="641.9" r="9.0"/>
<circle cx="1253.4" cy="644.5" r="9.0"/>
<circle cx="1254.9" cy="648.1" r="9.0"/>
<circle cx="1254.7" cy="652.1" r="9.0"/>
<circle cx="1253.7" cy="656" r="9.0"/>
<circle cx="1252.3" cy="659.6" r="9.0"/>
<circle cx="1250.5" cy="663.2" r="9.0"/>
<circle cx="1247.3" cy="665.5" r="9.0"/>
<circle cx="1243.4" cy="666.2" r="9.0"/>
<circle cx="1239.4" cy="665.6" r="9.0"/>
<circle cx="1235.5" cy="664.7" r="9.0"/>
<circle cx="1231.7" cy="663.4" r="9.0"/>
<circle cx="1228.9" cy="661.1" r="9.0"/>
<circle cx="1229.8" cy="665" r="9.0"/>
<circle cx="1230.3" cy="668.9" r="9.0"/>
<circle cx="1229.1" cy="672.7" r="9.0"/>
<circle cx="1226.4" cy="675.6" r="9.0"/>
<circle cx="1222.7" cy="677" r="9.0"/>
<circle cx="1218.7" cy="676.6" r="9.0"/>
<circle cx="1215.1" cy="674.9" r="9.0"/>
<circle cx="1211.8" cy="672.6" r="9.0"/>
<circle cx="1208.9" cy="669.9" r="9.0"/>
<circle cx="1207.5" cy="666.1" r="9.0"/>
<circle cx="1207.9" cy="662.2" r="9.0"/>
<circle cx="1210" cy="658.8" r="9.0"/>
<circle cx="1213.4" cy="656.7" r="9.0"/>
<circle cx="1217.1" cy="655.2" r="9.0"/>
<circle cx="1221" cy="654.5" r="9.0"/>
<circle cx="1224.8" cy="655.6" r="9.0"/>
<circle cx="1227.5" cy="657.9" r="9.0"/>
<circle cx="1227.5" cy="653.9" r="9.0"/>
<circle cx="1229.2" cy="650.3" r="9.0"/>
<circle cx="1232.4" cy="647.9" r="9.0"/>
<circle cx="1236.1" cy="646.5" r="9.0"/>
<circle cx="1238.9" cy="644.7" r="9.0"/>
<circle cx="1234.9" cy="644.4" r="9.0"/>
<circle cx="1231.3" cy="642.8" r="9.0"/>
<circle cx="1228.7" cy="639.7" r="9.0"/>
<circle cx="1225.9" cy="637.2" r="9.0"/>
<circle cx="1221.9" cy="637.6" r="9.0"/>
<circle cx="1218.1" cy="636.6" r="9.0"/>
<circle cx="1215.1" cy="634" r="9.0"/>
<circle cx="1213.6" cy="630.3" r="9.0"/>
<circle cx="1213.9" cy="626.4" r="9.0"/>
<circle cx="1215.7" cy="622.8" r="9.0"/>
<circle cx="1216.5" cy="619.3" r="9.0"/>
<circle cx="1214.8" cy="615.6" r="9.0"/>
<circle cx="1214.1" cy="611.7" r="9.0"/>
<circle cx="1214.7" cy="607.8" r="9.0"/>
<circle cx="1215.4" cy="603.9" r="9.0"/>
<circle cx="1215.7" cy="599.9" r="9.0"/>
<circle cx="1215.8" cy="596" r="9.0"/>
<circle cx="1217.6" cy="592.4" r="9.0"/>
<circle cx="1220.8" cy="590.1" r="9.0"/>
<circle cx="1224.7" cy="589.3" r="9.0"/>
<circle cx="1228.5" cy="588.8" r="9.0"/>
<circle cx="1231.2" cy="585.9" r="9.0"/>
<circle cx="1232.5" cy="582.4" r="9.0"/>
<circle cx="1230.9" cy="578.8" r="9.0"/>
<circle cx="1230.8" cy="574.8" r="9.0"/>
<circle cx="1232.5" cy="571.2" r="9.0"/>
<circle cx="1233.7" cy="567.7" r="9.0"/>
<circle cx="1233.9" cy="563.7" r="9.0"/>
<circle cx="1235.8" cy="560.3" r="9.0"/>
<circle cx="1238" cy="557" r="9.0"/>
<circle cx="1236.3" cy="554" r="9.0"/>
<circle cx="1233.7" cy="550.9" r="9.0"/>
<circle cx="1232.2" cy="547.2" r="9.0"/>
<circle cx="1231.4" cy="543.3" r="9.0"/>
<circle cx="1232.5" cy="539.5" r="9.0"/>
<circle cx="1235.1" cy="536.5" r="9.0"/>
<circle cx="1238.7" cy="535" r="9.0"/>
<circle cx="1242.7" cy="535.3" r="9.0"/>
<circle cx="1246.6" cy="536.1" r="9.0"/>
<circle cx="1250.5" cy="535.4" r="9.0"/>
<circle cx="1254.5" cy="535.7" r="9.0"/>
<circle cx="1257.9" cy="537.8" r="9.0"/>
<circle cx="1257.7" cy="536.3" r="9.0"/>
<circle cx="1254.2" cy="534.5" r="9.0"/>
<circle cx="1250.3" cy="533.5" r="9.0"/>
<circle cx="1246.6" cy="532.1" r="9.0"/>
<circle cx="1243.9" cy="529.2" r="9.0"/>
<circle cx="1242.7" cy="525.4" r="9.0"/>
<circle cx="1243.4" cy="521.5" r="9.0"/>
<circle cx="1245.6" cy="518.2" r="9.0"/>
<circle cx="1248.3" cy="515.2" r="9.0"/>
<circle cx="1250.9" cy="512.2" r="9.0"/>
<circle cx="1251.7" cy="510" r="9.0"/>
<circle cx="1247.7" cy="510" r="9.0"/>
<circle cx="1243.7" cy="510" r="9.0"/>
<circle cx="1239.7" cy="510" r="9.0"/>
<circle cx="1235.7" cy="510" r="9.0"/>
<circle cx="1231.7" cy="510" r="9.0"/>
<circle cx="1227.7" cy="510" r="9.0"/>
<circle cx="1223.7" cy="510" r="9.0"/>
<circle cx="1219.7" cy="510" r="9.0"/>
<circle cx="1220.2" cy="512.4" r="9.0"/>
<circle cx="1221.6" cy="516.1" r="9.0"/>
<circle cx="1221.4" cy="520" r="9.0"/>
<circle cx="1224.7" cy="522.2" r="9.0"/>
<circle cx="1226.6" cy="525.7" r="9.0"/>
<circle cx="1227" cy="529.7" r="9.0"/>
<circle cx="1226.3" cy="533.6" r="9.0"/>
<circle cx="1223.9" cy="536.8" r="9.0"/>
<circle cx="1220.4" cy="538.6" r="9.0"/>
<circle cx="1216.4" cy="538.8" r="9.0"/>
<circle cx="1212.6" cy="537.7" r="9.0"/>
<circle cx="1210.2" cy="539" r="9.0"/>
<circle cx="1207.3" cy="541.6" r="9.0"/>
<circle cx="1203.6" cy="543.2" r="9.0"/>
<circle cx="1202.4" cy="545.5" r="9.0"/>
<circle cx="1205.8" cy="546.6" r="9.0"/>
<circle cx="1208.2" cy="543.5" r="9.0"/>
<circle cx="1211.8" cy="541.7" r="9.0"/>
<circle cx="1215.8" cy="541.7" r="9.0"/>
<circle cx="1219.3" cy="543.4" r="9.0"/>
<circle cx="1221.8" cy="546.5" r="9.0"/>
<circle cx="1222.6" cy="550.4" r="9.0"/>
<circle cx="1222.5" cy="554.4" r="9.0"/>
<circle cx="1220.6" cy="557.9" r="9.0"/>
<circle cx="1218" cy="561" r="9.0"/>
<circle cx="1216.8" cy="563.1" r="9.0"/>
<circle cx="1219.9" cy="565.6" r="9.0"/>
<circle cx="1221.5" cy="569.2" r="9.0"/>
<circle cx="1221.4" cy="573.2" r="9.0"/>
<circle cx="1219.5" cy="576.7" r="9.0"/>
<circle cx="1217.9" cy="580.2" r="9.0"/>
<circle cx="1215.9" cy="583.5" r="9.0"/>
<circle cx="1212.5" cy="585.7" r="9.0"/>
<circle cx="1208.6" cy="586.1" r="9.0"/>
<circle cx="1204.6" cy="585.4" r="9.0"/>
<circle cx="1202.4" cy="587.1" r="9.0"/>
<circle cx="1201.1" cy="590.9" r="9.0"/>
<circle cx="1198.2" cy="593.6" r="9.0"/>
<circle cx="1194.7" cy="595.5" r="9.0"/>
<circle cx="1191.1" cy="597.2" r="9.0"/>
<circle cx="1187.2" cy="597.9" r="9.0"/>
<circle cx="1183.2" cy="598.4" r="9.0"/>
<circle cx="1179.4" cy="597.2" r="9.0"/>
<circle cx="1176.5" cy="594.5" r="9.0"/>
<circle cx="1175.1" cy="590.8" r="9.0"/>
<circle cx="1174.1" cy="586.9" r="9.0"/>
<circle cx="1171.9" cy="583.7" r="9.0"/>
<circle cx="1169.7" cy="580.4" r="9.0"/>
<circle cx="1169.2" cy="576.5" r="9.0"/>
<circle cx="1169.2" cy="572.5" r="9.0"/>
<circle cx="1169.9" cy="568.5" r="9.0"/>
<circle cx="1168.9" cy="565.5" r="9.0"/>
<circle cx="1165.7" cy="563.2" r="9.0"/>
<circle cx="1163.2" cy="560.1" r="9.0"/>
<circle cx="1162.3" cy="556.2" r="9.0"/>
<circle cx="1163.2" cy="552.4" r="9.0"/>
<circle cx="1165.7" cy="549.3" r="9.0"/>
<circle cx="1167.2" cy="546.9" r="9.0"/>
<circle cx="1164.8" cy="543.7" r="9.0"/>
<circle cx="1162.2" cy="541" r="9.0"/>
<circle cx="1158.3" cy="541.6" r="9.0"/>
<circle cx="1154.5" cy="540.3" r="9.0"/>
<circle cx="1151.6" cy="537.6" r="9.0"/>
<circle cx="1150.3" cy="533.9" r="9.0"/>
<circle cx="1147" cy="533.1" r="9.0"/>
<circle cx="1147" cy="537.1" r="9.0"/>
<circle cx="1147" cy="541.1" r="9.0"/>
<circle cx="1147" cy="545.1" r="9.0"/>
<circle cx="1147" cy="549.1" r="9.0"/>
<circle cx="1147" cy="553.1" r="9.0"/>
<circle cx="1147" cy="557.1" r="9.0"/>
<circle cx="1147" cy="561.1" r="9.0"/>
<circle cx="1150.7" cy="561.7" r="9.0"/>
<circle cx="1154.4" cy="563.1" r="9.0"/>
<circle cx="1157.9" cy="565.1" r="9.0"/>
<circle cx="1160.6" cy="568" r="9.0"/>
<circle cx="1161.8" cy="571.8" r="9.0"/>
<circle cx="1161.6" cy="575.8" r="9.0"/>
<circle cx="1160.5" cy="579.6" r="9.0"/>
<circle cx="1159.6" cy="583.4" r="9.0"/>
<circle cx="1157.9" cy="587" r="9.0"/>
<circle cx="1154.9" cy="589.7" r="9.0"/>
<circle cx="1151.1" cy="590.7" r="9.0"/>
<circle cx="1147.1" cy="590.7" r="9.0"/>
<circle cx="1147" cy="594.7" r="9.0"/>
<circle cx="1147" cy="598.7" r="9.0"/>
<circle cx="1147" cy="602.7" r="9.0"/>
<circle cx="1147" cy="606.7" r="9.0"/>
<circle cx="1147" cy="610.7" r="9.0"/>
<circle cx="1147" cy="614.7" r="9.0"/>
<circle cx="1147" cy="618.7" r="9.0"/>
<circle cx="1147" cy="622.7" r="9.0"/>
<circle cx="1147" cy="626.7" r="9.0"/>
<circle cx="1147.6" cy="630.1" r="9.0"/>
<circle cx="1151.6" cy="630.1" r="9.0"/>
<circle cx="1155.6" cy="630.2" r="9.0"/>
<circle cx="1159.2" cy="631.8" r="9.0"/>
<circle cx="1161.8" cy="634.8" r="9.0"/>
<circle cx="1162.8" cy="638.7" r="9.0"/>
<circle cx="1162" cy="642.5" r="9.0"/>
<circle cx="1160.4" cy="646.2" r="9.0"/>
<circle cx="1158.9" cy="650" r="9.0"/>
<circle cx="1159.8" cy="653.7" r="9.0"/>
<circle cx="1159.5" cy="657.7" r="9.0"/>
<circle cx="1157.4" cy="661.1" r="9.0"/>
<circle cx="1154.2" cy="663.4" r="9.0"/>
<circle cx="1150.4" cy="664.6" r="9.0"/>
<circle cx="1147" cy="665.1" r="9.0"/>
<circle cx="1147" cy="669.2" r="9.0"/>
<circle cx="1147" cy="673.2" r="9.0"/>
<circle cx="1147" cy="677.2" r="9.0"/>
<circle cx="1147" cy="681.2" r="9.0"/>
<circle cx="1147" cy="685.2" r="9.0"/>
<circle cx="1147" cy="689.2" r="9.0"/>
<circle cx="1147" cy="693.2" r="9.0"/>
<circle cx="1147" cy="697.2" r="9.0"/>
<circle cx="1147" cy="701.2" r="9.0"/>
<circle cx="1147" cy="705.2" r="9.0"/>
<circle cx="1147" cy="709.2" r="9.0"/>
<circle cx="1147" cy="713.2" r="9.0"/>
<circle cx="1147" cy="717.2" r="9.0"/>
<circle cx="1147" cy="721.2" r="9.0"/>
<circle cx="1147" cy="725.2" r="9.0"/>
<circle cx="1147" cy="729.2" r="9.0"/>
<circle cx="1147" cy="733.2" r="9.0"/>
<circle cx="1147" cy="737.2" r="9.0"/>
<circle cx="1147" cy="741.2" r="9.0"/>
<circle cx="1147" cy="745.2" r="9.0"/>
<circle cx="1147" cy="749.2" r="9.0"/>
<circle cx="1147" cy="753.2" r="9.0"/>
<circle cx="1147" cy="757.2" r="9.0"/>
<circle cx="1147" cy="761.3" r="9.0"/>
<circle cx="1147" cy="765.3" r="9.0"/>
<circle cx="1147" cy="769.3" r="9.0"/>
<circle cx="1147" cy="773.3" r="9.0"/>
<circle cx="1147" cy="777.3" r="9.0"/>
<circle cx="1147" cy="781.3" r="9.0"/>
<circle cx="1147" cy="785.3" r="9.0"/>
<circle cx="1147" cy="789.3" r="9.0"/>
<circle cx="1147" cy="793.3" r="9.0"/>
<circle cx="1147" cy="797.3" r="9.0"/>
<circle cx="1147" cy="801.3" r="9.0"/>
<circle cx="1144.7" cy="803" r="9.0"/>
<circle cx="1140.7" cy="803" r="9.0"/>
<circle cx="1136.7" cy="803" r="9.0"/>
<circle cx="1132.7" cy="803" r="9.0"/>
<circle cx="1128.7" cy="803" r="9.0"/>
<circle cx="1124.7" cy="803" r="9.0"/>
<circle cx="1120.7" cy="803" r="9.0"/>
<circle cx="1116.7" cy="803" r="9.0"/>
<circle cx="1112.7" cy="803" r="9.0"/>
<circle cx="1108.7" cy="803" r="9.0"/>
<circle cx="1104.7" cy="803" r="9.0"/>
<circle cx="1100.6" cy="803" r="9.0"/>
<circle cx="1096.6" cy="803" r="9.0"/>
<circle cx="1092.6" cy="803" r="9.0"/>
<circle cx="1088.6" cy="803" r="9.0"/>
<circle cx="1084.6" cy="803" r="9.0"/>
<circle cx="1080.6" cy="803" r="9.0"/>
<circle cx="1076.6" cy="803" r="9.0"/>
<circle cx="1072.6" cy="803" r="9.0"/>
<circle cx="1068.6" cy="803" r="9.0"/>
<circle cx="1064.6" cy="803" r="9.0"/>
<circle cx="1060.6" cy="803" r="9.0"/>
<circle cx="1056.6" cy="803" r="9.0"/>
<circle cx="1052.6" cy="803" r="9.0"/>
<circle cx="1048.6" cy="803" r="9.0"/>
<circle cx="1044.6" cy="803" r="9.0"/>
<circle cx="1040.6" cy="803" r="9.0"/>
<circle cx="1036.6" cy="803" r="9.0"/>
<circle cx="1032.6" cy="803" r="9.0"/>
<circle cx="1028.6" cy="803" r="9.0"/>
<circle cx="1028" cy="806.9" r="9.0"/>
<circle cx="1028.6" cy="810.6" r="9.0"/>
<circle cx="1029.6" cy="814.5" r="9.0"/>
<circle cx="1028.8" cy="818.3" r="9.0"/>
<circle cx="1026.3" cy="821.5" r="9.0"/>
<circle cx="1022.8" cy="823.4" r="9.0"/>
<circle cx="1022.2" cy="826.7" r="9.0"/>
<circle cx="1022.7" cy="830.6" r="9.0"/>
<circle cx="1021.4" cy="834.4" r="9.0"/>
<circle cx="1022.5" cy="835" r="9.0"/>
<circle cx="1026.1" cy="833.4" r="9.0"/>
<circle cx="1030.1" cy="833.4" r="9.0"/>
<circle cx="1033.7" cy="835.1" r="9.0"/>
<circle cx="1036.8" cy="837.6" r="9.0"/>
<circle cx="1039" cy="840.9" r="9.0"/>
<circle cx="1039.6" cy="844.8" r="9.0"/>
<circle cx="1039.8" cy="848.8" r="9.0"/>
<circle cx="1039.7" cy="852.8" r="9.0"/>
<circle cx="1038.6" cy="856.6" r="9.0"/>
<circle cx="1036.9" cy="860.2" r="9.0"/>
<circle cx="1033.8" cy="862.7" r="9.0"/>
<circle cx="1029.9" cy="863.5" r="9.0"/>
<circle cx="1026" cy="862.5" r="9.0"/>
<circle cx="1022.7" cy="860.3" r="9.0"/>
<circle cx="1018.8" cy="860.2" r="9.0"/>
<circle cx="1017.7" cy="863.6" r="9.0"/>
<circle cx="1016.6" cy="867.4" r="9.0"/>
<circle cx="1014.3" cy="870.6" r="9.0"/>
<circle cx="1012.7" cy="874.1" r="9.0"/>
<circle cx="1012.4" cy="878.1" r="9.0"/>
<circle cx="1010.4" cy="881.5" r="9.0"/>
<circle cx="1010.7" cy="882.9" r="9.0"/>
<circle cx="1014.5" cy="884.2" r="9.0"/>
<circle cx="1017.3" cy="887" r="9.0"/>
<circle cx="1019.1" cy="889.4" r="9.0"/>
<circle cx="1022.2" cy="886.9" r="9.0"/>
<circle cx="1025.3" cy="884.4" r="9.0"/>
<circle cx="1028.4" cy="881.9" r="9.0"/>
<circle cx="1031.6" cy="879.4" r="9.0"/>
<circle cx="1034.7" cy="876.9" r="9.0"/>
<circle cx="1037.8" cy="874.4" r="9.0"/>
<circle cx="1041" cy="871.9" r="9.0"/>
<circle cx="1043.4" cy="869.3" r="9.0"/>
<circle cx="1042.1" cy="865.6" r="9.0"/>
<circle cx="1041.5" cy="861.6" r="9.0"/>
<circle cx="1041.4" cy="857.6" r="9.0"/>
<circle cx="1042.8" cy="854" r="9.0"/>
<circle cx="1045.8" cy="851.3" r="9.0"/>
<circle cx="1049.6" cy="850.1" r="9.0"/>
<circle cx="1052.3" cy="848.9" r="9.0"/>
<circle cx="1050.7" cy="845.2" r="9.0"/>
<circle cx="1050.4" cy="841.2" r="9.0"/>
<circle cx="1051.3" cy="837.3" r="9.0"/>
<circle cx="1053.7" cy="834.2" r="9.0"/>
<circle cx="1057.2" cy="832.3" r="9.0"/>
<circle cx="1061.1" cy="831.2" r="9.0"/>
<circle cx="1065" cy="831.9" r="9.0"/>
<circle cx="1068.2" cy="834.2" r="9.0"/>
<circle cx="1070" cy="837.7" r="9.0"/>
<circle cx="1070.2" cy="841.7" r="9.0"/>
<circle cx="1069.7" cy="845.7" r="9.0"/>
<circle cx="1068.1" cy="849.3" r="9.0"/>
<circle cx="1065" cy="851.8" r="9.0"/>
<circle cx="1061.1" cy="852.6" r="9.0"/>
<circle cx="1062" cy="855.5" r="9.0"/>
<circle cx="1062.5" cy="859.4" r="9.0"/>
<circle cx="1063.2" cy="863.2" r="9.0"/>
<circle cx="1066.1" cy="865.9" r="9.0"/>
<circle cx="1068.8" cy="868.9" r="9.0"/>
<circle cx="1071" cy="872.2" r="9.0"/>
<circle cx="1072.4" cy="875.9" r="9.0"/>
<circle cx="1072.5" cy="879.9" r="9.0"/>
<circle cx="1074.6" cy="883.2" r="9.0"/>
<circle cx="1076.8" cy="886.6" r="9.0"/>
<circle cx="1079.2" cy="887.5" r="9.0"/>
<circle cx="1082.7" cy="885.7" r="9.0"/>
<circle cx="1086.6" cy="885.5" r="9.0"/>
<circle cx="1090.3" cy="887.1" r="9.0"/>
<circle cx="1092.8" cy="890.2" r="9.0"/>
<circle cx="1094.6" cy="893.7" r="9.0"/>
<circle cx="1096" cy="897.5" r="9.0"/>
<circle cx="1096.6" cy="901.4" r="9.0"/>
<circle cx="1095.4" cy="905.2" r="9.0"/>
<circle cx="1092.6" cy="908" r="9.0"/>
<circle cx="1088.9" cy="909.4" r="9.0"/>
<circle cx="1085" cy="910.3" r="9.0"/>
<circle cx="1081" cy="910.5" r="9.0"/>
<circle cx="1077.4" cy="909" r="9.0"/>
<circle cx="1074.8" cy="906" r="9.0"/>
<circle cx="1073.8" cy="902.1" r="9.0"/>
<circle cx="1072.5" cy="898.7" r="9.0"/>
<circle cx="1068.6" cy="899.4" r="9.0"/>
<circle cx="1064.6" cy="899.4" r="9.0"/>
<circle cx="1060.8" cy="898.3" r="9.0"/>
<circle cx="1057.6" cy="895.9" r="9.0"/>
<circle cx="1054.1" cy="894" r="9.0"/>
<circle cx="1050.1" cy="894" r="9.0"/>
<circle cx="1046.6" cy="895.5" r="9.0"/>
<circle cx="1043.4" cy="898" r="9.0"/>
<circle cx="1040.8" cy="900.7" r="9.0"/>
<circle cx="1043.6" cy="903" r="9.0"/>
<circle cx="1046.1" cy="905.5" r="9.0"/>
<circle cx="1049.2" cy="903" r="9.0"/>
<circle cx="1052.9" cy="901.4" r="9.0"/>
<circle cx="1056.8" cy="901.5" r="9.0"/>
<circle cx="1060.3" cy="903.4" r="9.0"/>
<circle cx="1062.6" cy="906.6" r="9.0"/>
<circle cx="1064.5" cy="910.2" r="9.0"/>
<circle cx="1066.7" cy="913.5" r="9.0"/>
<circle cx="1068.4" cy="917.1" r="9.0"/>
<circle cx="1068.4" cy="921.1" r="9.0"/>
<circle cx="1066.9" cy="924.7" r="9.0"/>
<circle cx="1066.2" cy="928.6" r="9.0"/>
<circle cx="1065.1" cy="932.4" r="9.0"/>
<circle cx="1062.5" cy="935.4" r="9.0"/>
<circle cx="1059" cy="937.5" r="9.0"/>
<circle cx="1055.6" cy="939.5" r="9.0"/>
<circle cx="1052.1" cy="941.5" r="9.0"/>
<circle cx="1048.5" cy="943.3" r="9.0"/>
<circle cx="1045.8" cy="946.2" r="9.0"/>
<circle cx="1042.2" cy="947.7" r="9.0"/>
<circle cx="1040.8" cy="948" r="9.0"/>
<circle cx="1044.8" cy="948" r="9.0"/>
<circle cx="1048.8" cy="948" r="9.0"/>
<circle cx="1052.9" cy="948" r="9.0"/>
<circle cx="1056.9" cy="948" r="9.0"/>
<circle cx="1060.9" cy="948" r="9.0"/>
<circle cx="1064.9" cy="948" r="9.0"/>
<circle cx="1068.5" cy="947.1" r="9.0"/>
<circle cx="1072" cy="945.2" r="9.0"/>
<circle cx="1076" cy="945.2" r="9.0"/>
<circle cx="1079.6" cy="946.9" r="9.0"/>
<circle cx="1083.2" cy="948" r="9.0"/>
<circle cx="1087.2" cy="948" r="9.0"/>
<circle cx="1091.2" cy="948" r="9.0"/>
<circle cx="1095.2" cy="947.9" r="9.0"/>
<circle cx="1099.2" cy="948" r="9.0"/>
<circle cx="1103.2" cy="948" r="9.0"/>
<circle cx="1107.2" cy="948" r="9.0"/>
<circle cx="1111.2" cy="948" r="9.0"/>
<circle cx="1115.2" cy="948" r="9.0"/>
<circle cx="1119.2" cy="948" r="9.0"/>
<circle cx="1123.2" cy="948" r="9.0"/>
<circle cx="1127.2" cy="948" r="9.0"/>
<circle cx="1131.2" cy="948" r="9.0"/>
<circle cx="1135.2" cy="948" r="9.0"/>
<circle cx="1139.2" cy="948" r="9.0"/>
<circle cx="1143.2" cy="948" r="9.0"/>
<circle cx="1147.2" cy="948" r="9.0"/>
<circle cx="1150.7" cy="947.5" r="9.0"/>
<circle cx="1150.5" cy="943.4" r="9.0"/>
<circle cx="1150.4" cy="939.4" r="9.0"/>
<circle cx="1151.3" cy="935.6" r="9.0"/>
<circle cx="1153.7" cy="932.5" r="9.0"/>
<circle cx="1157.3" cy="930.8" r="9.0"/>
<circle cx="1161.3" cy="930.5" r="9.0"/>
<circle cx="1165.2" cy="931.1" r="9.0"/>
<circle cx="1168.5" cy="933.3" r="9.0"/>
<circle cx="1170.4" cy="936.8" r="9.0"/>
<circle cx="1170.6" cy="940.8" r="9.0"/>
<circle cx="1170.5" cy="944.8" r="9.0"/>
<circle cx="1172" cy="948" r="9.0"/>
<circle cx="1176" cy="948" r="9.0"/>
<circle cx="1180" cy="948" r="9.0"/>
<circle cx="1184" cy="948" r="9.0"/>
<circle cx="1185.1" cy="944.6" r="9.0"/>
<circle cx="1182.6" cy="942" r="9.0"/>
<circle cx="1179.5" cy="939.6" r="9.0"/>
<circle cx="1177.8" cy="936" r="9.0"/>
<circle cx="1177.8" cy="932" r="9.0"/>
<circle cx="1179.6" cy="928.5" r="9.0"/>
<circle cx="1182.8" cy="926.1" r="9.0"/>
<circle cx="1186.7" cy="925.1" r="9.0"/>
<circle cx="1189.9" cy="923.1" r="9.0"/>
<circle cx="1193" cy="920.5" r="9.0"/>
<circle cx="1196.1" cy="918.1" r="9.0"/>
<circle cx="1196.6" cy="914.3" r="9.0"/>
<circle cx="1196.6" cy="910.3" r="9.0"/>
<circle cx="1198.4" cy="906.8" r="9.0"/>
<circle cx="1201.6" cy="904.4" r="9.0"/>
<circle cx="1205.5" cy="903.7" r="9.0"/>
<circle cx="1209.3" cy="904.8" r="9.0"/>
<circle cx="1213.1" cy="905.8" r="9.0"/>
<circle cx="1217" cy="905.4" r="9.0"/>
<circle cx="1220.9" cy="906.3" r="9.0"/>
<circle cx="1223.9" cy="908.9" r="9.0"/>
<circle cx="1225.5" cy="912.5" r="9.0"/>
<circle cx="1225.4" cy="916.5" r="9.0"/>
<circle cx="1224.5" cy="920.4" r="9.0"/>
<circle cx="1223" cy="924.1" r="9.0"/>
<circle cx="1220.1" cy="926.7" r="9.0"/>
<circle cx="1217.5" cy="929.4" r="9.0"/>
<circle cx="1218.3" cy="933" r="9.0"/>
<circle cx="1218.7" cy="937" r="9.0"/>
<circle cx="1217.2" cy="940.7" r="9.0"/>
<circle cx="1214.3" cy="943.4" r="9.0"/>
<circle cx="1211.6" cy="945.6" r="9.0"/>
<circle cx="1212.6" cy="948" r="9.0"/>
<circle cx="1216.6" cy="948" r="9.0"/>
<circle cx="1220.6" cy="948" r="9.0"/>
<circle cx="1224.6" cy="948" r="9.0"/>
<circle cx="1224.6" cy="945.1" r="9.0"/>
<circle cx="1223.2" cy="941.4" r="9.0"/>
<circle cx="1222.1" cy="937.6" r="9.0"/>
<circle cx="1221.4" cy="933.7" r="9.0"/>
<circle cx="1222.5" cy="929.9" r="9.0"/>
<circle cx="1225.2" cy="927" r="9.0"/>
<circle cx="1228.9" cy="925.5" r="9.0"/>
<circle cx="1229.8" cy="922.3" r="9.0"/>
<circle cx="1229.3" cy="918.3" r="9.0"/>
<circle cx="1230.2" cy="914.4" r="9.0"/>
<circle cx="1231.5" cy="910.7" r="9.0"/>
<circle cx="1232.9" cy="906.9" r="9.0"/>
<circle cx="1234.8" cy="903.4" r="9.0"/>
<circle cx="1237.5" cy="900.5" r="9.0"/>
<circle cx="1240.3" cy="897.6" r="9.0"/>
<circle cx="1240.6" cy="894.3" r="9.0"/>
<circle cx="1239.4" cy="890.5" r="9.0"/>
<circle cx="1239.4" cy="886.5" r="9.0"/>
<circle cx="1239.4" cy="882.5" r="9.0"/>
<circle cx="1240.2" cy="878.6" r="9.0"/>
<circle cx="1242.7" cy="875.5" r="9.0"/>
<circle cx="1246.3" cy="873.8" r="9.0"/>
<circle cx="1250.3" cy="873.6" r="9.0"/>
<circle cx="1254.1" cy="872.8" r="9.0"/>
<circle cx="1257.9" cy="871.5" r="9.0"/>
<circle cx="1261.5" cy="869.9" r="9.0"/>
<circle cx="1261" cy="866.5" r="9.0"/>
<circle cx="1259.7" cy="862.8" r="9.0"/>
<circle cx="1258.9" cy="858.8" r="9.0"/>
<circle cx="1258.7" cy="854.9" r="9.0"/>
<circle cx="1260.3" cy="851.2" r="9.0"/>
<circle cx="1263.4" cy="848.7" r="9.0"/>
<circle cx="1266.8" cy="846.6" r="9.0"/>
<circle cx="1266.2" cy="845.6" r="9.0"/>
<circle cx="1262.8" cy="847.7" r="9.0"/>
<circle cx="1259.5" cy="849.8" r="9.0"/>
<circle cx="1256.7" cy="852.7" r="9.0"/>
<circle cx="1253.9" cy="855.5" r="9.0"/>
<circle cx="1250.1" cy="856.8" r="9.0"/>
<circle cx="1246.2" cy="856.2" r="9.0"/>
<circle cx="1242.7" cy="854.2" r="9.0"/>
<circle cx="1239.5" cy="851.8" r="9.0"/>
<circle cx="1237.4" cy="848.5" r="9.0"/>
<circle cx="1236.2" cy="844.7" r="9.0"/>
<circle cx="1233.1" cy="845.2" r="9.0"/>
<circle cx="1229.2" cy="846.1" r="9.0"/>
<circle cx="1225.3" cy="846.3" r="9.0"/>
<circle cx="1222.3" cy="846.5" r="9.0"/>
<circle cx="1220.4" cy="850" r="9.0"/>
<circle cx="1217.8" cy="853" r="9.0"/>
<circle cx="1214.1" cy="854.6" r="9.0"/>
<circle cx="1210.2" cy="854.4" r="9.0"/>
<circle cx="1206.7" cy="852.4" r="9.0"/>
<circle cx="1204.4" cy="849.2" r="9.0"/>
<circle cx="1202.6" cy="845.7" r="9.0"/>
<circle cx="1202.3" cy="841.7" r="9.0"/>
<circle cx="1203.8" cy="838" r="9.0"/>
<circle cx="1206.8" cy="835.4" r="9.0"/>
<circle cx="1210.6" cy="834.4" r="9.0"/>
<circle cx="1214.5" cy="835.2" r="9.0"/>
<circle cx="1217.8" cy="836" r="9.0"/>
<circle cx="1218.7" cy="832.1" r="9.0"/>
<circle cx="1219.8" cy="828.3" r="9.0"/>
<circle cx="1222.3" cy="825.2" r="9.0"/>
<circle cx="1225.9" cy="823.5" r="9.0"/>
<circle cx="1229.8" cy="823.7" r="9.0"/>
<circle cx="1233.4" cy="825.4" r="9.0"/>
<circle cx="1236.7" cy="827.6" r="9.0"/>
<circle cx="1239.8" cy="830.2" r="9.0"/>
<circle cx="1241.9" cy="833.1" r="9.0"/>
<circle cx="1245.8" cy="832.5" r="9.0"/>
<circle cx="1249.8" cy="831.9" r="9.0"/>
<circle cx="1253.6" cy="830.7" r="9.0"/>
<circle cx="1256" cy="828.1" r="9.0"/>
<circle cx="1257.3" cy="824.4" r="9.0"/>
<circle cx="1260.1" cy="821.5" r="9.0"/>
<circle cx="1263.9" cy="820.2" r="9.0"/>
<circle cx="1266.2" cy="817.6" r="9.0"/>
<circle cx="1269.2" cy="815" r="9.0"/>
<circle cx="1272.9" cy="813.6" r="9.0"/>
<circle cx="1276.2" cy="811.8" r="9.0"/>
<circle cx="1273.5" cy="809" r="9.0"/>
<circle cx="1271.9" cy="805.4" r="9.0"/>
<circle cx="1268.7" cy="803.1" r="9.0"/>
<circle cx="1265.4" cy="800.9" r="9.0"/>
<circle cx="1263.2" cy="797.5" r="9.0"/>
<circle cx="1262.8" cy="793.6" r="9.0"/>
<circle cx="1264.2" cy="789.9" r="9.0"/>
<circle cx="1267.1" cy="787.1" r="9.0"/>
<circle cx="1270.9" cy="786" r="9.0"/>
<circle cx="1274.9" cy="786.3" r="9.0"/>
<circle cx="1278.5" cy="785" r="9.0"/>
<circle cx="1281.4" cy="782.2" r="9.0"/>
<circle cx="1284.4" cy="779.6" r="9.0"/>
<circle cx="1287.7" cy="777.3" r="9.0"/>
<circle cx="1289" cy="775.4" r="9.0"/>
<circle cx="1286.1" cy="772.8" r="9.0"/>
<circle cx="1284.6" cy="769.1" r="9.0"/>
<circle cx="1284.5" cy="765.1" r="9.0"/>
<circle cx="1284.7" cy="761.1" r="9.0"/>
<circle cx="1286.5" cy="757.6" r="9.0"/>
<circle cx="1289.7" cy="755.2" r="9.0"/>
<circle cx="1292" cy="752.6" r="9.0"/>
<circle cx="1292" cy="748.6" r="9.0"/>
<circle cx="1292" cy="744.6" r="9.0"/>
<circle cx="1292" cy="740.6" r="9.0"/>
<circle cx="1292" cy="736.6" r="9.0"/>
<circle cx="1292" cy="732.6" r="9.0"/>
<circle cx="1292" cy="728.6" r="9.0"/>
<circle cx="1292" cy="724.6" r="9.0"/>
<circle cx="1292" cy="720.6" r="9.0"/>
<circle cx="1289.7" cy="720.2" r="9.0"/>
<circle cx="1285.7" cy="720.3" r="9.0"/>
<circle cx="1282.1" cy="718.7" r="9.0"/>
<circle cx="1279.5" cy="715.7" r="9.0"/>
<circle cx="1277.4" cy="712.3" r="9.0"/>
<circle cx="1275" cy="711.4" r="9.0"/>
<circle cx="1272.9" cy="714.7" r="9.0"/>
<circle cx="1269.4" cy="716.8" r="9.0"/>
<circle cx="1265.5" cy="717" r="9.0"/>
<circle cx="1261.6" cy="716.2" r="9.0"/>
<circle cx="1257.9" cy="714.6" r="9.0"/>
<circle cx="1255.4" cy="711.6" r="9.0"/>
<circle cx="1253.5" cy="708" r="9.0"/>
<circle cx="1252.2" cy="704.3" r="9.0"/>
<circle cx="1252.5" cy="700.3" r="9.0"/>
<circle cx="1254.6" cy="696.9" r="9.0"/>
<circle cx="1257.9" cy="694.8" r="9.0"/>
<circle cx="1261.7" cy="693.5" r="9.0"/>
<circle cx="1265.7" cy="693.4" r="9.0"/>
<circle cx="1268.3" cy="692.3" r="9.0"/>
<circle cx="1268.8" cy="688.4" r="9.0"/>
<circle cx="1270.4" cy="684.8" r="9.0"/>
<circle cx="1270.9" cy="682.4" r="9.0"/>
<circle cx="1267.1" cy="681.2" r="9.0"/>
<circle cx="1263.7" cy="681.8" r="9.0"/>
<circle cx="1261.3" cy="685" r="9.0"/>
<circle cx="1257.8" cy="686.8" r="9.0"/>
<circle cx="1253.8" cy="686.9" r="9.0"/>
<circle cx="1250.2" cy="685.2" r="9.0"/>
<circle cx="1247.7" cy="682.1" r="9.0"/>
<circle cx="1246.5" cy="678.3" r="9.0"/>
<circle cx="1246.1" cy="674.3" r="9.0"/>
<circle cx="1247.5" cy="670.6" r="9.0"/>
<circle cx="1250.4" cy="667.9" r="9.0"/>
<circle cx="1253.6" cy="665.5" r="9.0"/>
<circle cx="1253.8" cy="662.2" r="9.0"/>
<circle cx="1253.8" cy="658.2" r="9.0"/>
<circle cx="1255.5" cy="654.6" r="9.0"/>
<circle cx="1258.7" cy="652.2" r="9.0"/>
<circle cx="1262.5" cy="651" r="9.0"/>
<circle cx="1266.5" cy="650.5" r="9.0"/>
<circle cx="1270.2" cy="651.8" r="9.0"/>
<circle cx="1269.7" cy="650.8" r="9.0"/>
<circle cx="1266.8" cy="648" r="9.0"/>
<circle cx="1265.1" cy="644.3" r="9.0"/>
<circle cx="1262.9" cy="641.3" r="9.0"/>
<circle cx="1259.8" cy="638.9" r="9.0"/>
<circle cx="1258" cy="635.4" r="9.0"/>
<circle cx="1258" cy="631.4" r="9.0"/>
<circle cx="1259.7" cy="627.9" r="9.0"/>
<circle cx="1262.9" cy="625.4" r="9.0"/>
<circle cx="1265.3" cy="623" r="9.0"/>
<circle cx="1265.4" cy="619" r="9.0"/>
<circle cx="1266.9" cy="615.4" r="9.0"/>
<circle cx="1269.9" cy="612.7" r="9.0"/>
<circle cx="1273.4" cy="610.8" r="9.0"/>
<circle cx="1277.3" cy="610.1" r="9.0"/>
<circle cx="1281.1" cy="611.1" r="9.0"/>
<circle cx="1284" cy="613.8" r="9.0"/>
<circle cx="1285.7" cy="617.4" r="9.0"/>
<circle cx="1287.1" cy="621.2" r="9.0"/>
<circle cx="1288.1" cy="625" r="9.0"/>
<circle cx="1287.7" cy="629" r="9.0"/>
<circle cx="1288.3" cy="632.5" r="9.0"/>
<circle cx="1291.8" cy="634" r="9.0"/>
<circle cx="1292" cy="630.3" r="9.0"/>
<circle cx="1292" cy="626.3" r="9.0"/>
<circle cx="1292" cy="622.3" r="9.0"/>
<circle cx="1228.1" cy="798.7" r="9.0"/>
<circle cx="1229" cy="794.8" r="9.0"/>
<circle cx="1231.5" cy="791.7" r="9.0"/>
<circle cx="1235" cy="789.7" r="9.0"/>
<circle cx="1238.5" cy="787.9" r="9.0"/>
<circle cx="1242.3" cy="786.7" r="9.0"/>
<circle cx="1246.3" cy="787.2" r="9.0"/>
<circle cx="1249.5" cy="789.5" r="9.0"/>
<circle cx="1252.5" cy="792" r="9.0"/>
<circle cx="1255.9" cy="794.1" r="9.0"/>
<circle cx="1258.1" cy="797.4" r="9.0"/>
<circle cx="1258.5" cy="801.3" r="9.0"/>
<circle cx="1257.4" cy="805.2" r="9.0"/>
<circle cx="1255.7" cy="808.8" r="9.0"/>
<circle cx="1252.8" cy="811.5" r="9.0"/>
<circle cx="1249.3" cy="813.3" r="9.0"/>
<circle cx="1245.3" cy="813.6" r="9.0"/>
<circle cx="1241.3" cy="813.8" r="9.0"/>
<circle cx="1237.3" cy="813" r="9.0"/>
<circle cx="1233.5" cy="812" r="9.0"/>
<circle cx="1230.2" cy="809.7" r="9.0"/>
<circle cx="1228" cy="806.5" r="9.0"/>
<circle cx="1227.3" cy="802.5" r="9.0"/>
<circle cx="1245.4" cy="756.8" r="9.0"/>
<circle cx="1248.8" cy="759.2" r="9.0"/>
<circle cx="1251.7" cy="762.1" r="9.0"/>
<circle cx="1254.1" cy="765.5" r="9.0"/>
<circle cx="1254.6" cy="769.7" r="9.0"/>
<circle cx="1253.7" cy="773.7" r="9.0"/>
<circle cx="1251.8" cy="777.5" r="9.0"/>
<circle cx="1248.5" cy="780" r="9.0"/>
<circle cx="1244.4" cy="780.6" r="9.0"/>
<circle cx="1240.4" cy="779.3" r="9.0"/>
<circle cx="1236.8" cy="777.1" r="9.0"/>
<circle cx="1234.5" cy="773.7" r="9.0"/>
<circle cx="1233.1" cy="769.7" r="9.0"/>
<circle cx="1231.6" cy="765.8" r="9.0"/>
<circle cx="1231.8" cy="761.6" r="9.0"/>
<circle cx="1233.8" cy="758" r="9.0"/>
<circle cx="1237.3" cy="755.8" r="9.0"/>
<circle cx="1241.5" cy="755.4" r="9.0"/>
<circle cx="1223.3" cy="698.4" r="9.0"/>
<circle cx="1226.3" cy="695.7" r="9.0"/>
<circle cx="1230.2" cy="694.6" r="9.0"/>
<circle cx="1234.2" cy="695.3" r="9.0"/>
<circle cx="1238.1" cy="695.7" r="9.0"/>
<circle cx="1242.2" cy="695.7" r="9.0"/>
<circle cx="1246" cy="697.2" r="9.0"/>
<circle cx="1248.6" cy="700.2" r="9.0"/>
<circle cx="1249.6" cy="704.1" r="9.0"/>
<circle cx="1248.8" cy="708" r="9.0"/>
<circle cx="1246.4" cy="711.3" r="9.0"/>
<circle cx="1243.5" cy="714.1" r="9.0"/>
<circle cx="1240" cy="716.1" r="9.0"/>
<circle cx="1236" cy="716.7" r="9.0"/>
<circle cx="1232.2" cy="715.4" r="9.0"/>
<circle cx="1228.5" cy="713.8" r="9.0"/>
<circle cx="1224.7" cy="712.5" r="9.0"/>
<circle cx="1221.9" cy="709.7" r="9.0"/>
<circle cx="1220.6" cy="705.8" r="9.0"/>
<circle cx="1221.2" cy="701.8" r="9.0"/>
<circle cx="1197.4" cy="715.1" r="9.0"/>
<circle cx="1198.4" cy="711.2" r="9.0"/>
<circle cx="1200.9" cy="708.2" r="9.0"/>
<circle cx="1204.5" cy="706.3" r="9.0"/>
<circle cx="1208.4" cy="705.2" r="9.0"/>
<circle cx="1212.3" cy="705.9" r="9.0"/>
<circle cx="1215.6" cy="708.2" r="9.0"/>
<circle cx="1218.4" cy="711.1" r="9.0"/>
<circle cx="1219.6" cy="715" r="9.0"/>
<circle cx="1220.2" cy="719" r="9.0"/>
<circle cx="1220.1" cy="723" r="9.0"/>
<circle cx="1218.3" cy="726.5" r="9.0"/>
<circle cx="1215" cy="728.9" r="9.0"/>
<circle cx="1211.1" cy="729.5" r="9.0"/>
<circle cx="1207" cy="729.5" r="9.0"/>
<circle cx="1203" cy="728.9" r="9.0"/>
<circle cx="1199.7" cy="726.7" r="9.0"/>
<circle cx="1197.8" cy="723.2" r="9.0"/>
<circle cx="1197.4" cy="719.2" r="9.0"/>
<circle cx="1204.5" cy="739.1" r="9.0"/>
<circle cx="1208.1" cy="736.9" r="9.0"/>
<circle cx="1212.2" cy="736.7" r="9.0"/>
<circle cx="1216" cy="738.4" r="9.0"/>
<circle cx="1218.6" cy="741.6" r="9.0"/>
<circle cx="1219.5" cy="745.7" r="9.0"/>
<circle cx="1219" cy="749.9" r="9.0"/>
<circle cx="1216.6" cy="753.3" r="9.0"/>
<circle cx="1212.9" cy="755.3" r="9.0"/>
<circle cx="1208.9" cy="756.5" r="9.0"/>
<circle cx="1204.8" cy="756" r="9.0"/>
<circle cx="1201.4" cy="753.6" r="9.0"/>
<circle cx="1199.5" cy="749.9" r="9.0"/>
<circle cx="1199.6" cy="745.7" r="9.0"/>
<circle cx="1201.5" cy="742" r="9.0"/>
<circle cx="1159.3" cy="620.8" r="9.0"/>
<circle cx="1157.4" cy="617.2" r="9.0"/>
<circle cx="1157.3" cy="613.3" r="9.0"/>
<circle cx="1158.9" cy="609.7" r="9.0"/>
<circle cx="1162" cy="607.2" r="9.0"/>
<circle cx="1165.9" cy="606.3" r="9.0"/>
<circle cx="1169.8" cy="607.3" r="9.0"/>
<circle cx="1173.1" cy="609.5" r="9.0"/>
<circle cx="1176.2" cy="609.9" r="9.0"/>
<circle cx="1179.6" cy="607.9" r="9.0"/>
<circle cx="1183.6" cy="607.5" r="9.0"/>
<circle cx="1187.6" cy="607.9" r="9.0"/>
<circle cx="1191" cy="610" r="9.0"/>
<circle cx="1193.2" cy="613.3" r="9.0"/>
<circle cx="1193.6" cy="617.3" r="9.0"/>
<circle cx="1195" cy="616.1" r="9.0"/>
<circle cx="1198.3" cy="613.9" r="9.0"/>
<circle cx="1202.3" cy="613.5" r="9.0"/>
<circle cx="1206.2" cy="614.3" r="9.0"/>
<circle cx="1209.9" cy="615.7" r="9.0"/>
<circle cx="1212.6" cy="618.7" r="9.0"/>
<circle cx="1213.7" cy="622.5" r="9.0"/>
<circle cx="1213" cy="626.4" r="9.0"/>
<circle cx="1210.7" cy="629.6" r="9.0"/>
<circle cx="1207.8" cy="632.4" r="9.0"/>
<circle cx="1204.3" cy="634.5" r="9.0"/>
<circle cx="1200.5" cy="635.4" r="9.0"/>
<circle cx="1196.6" cy="634.5" r="9.0"/>
<circle cx="1193.5" cy="631.9" r="9.0"/>
<circle cx="1191.9" cy="628.3" r="9.0"/>
<circle cx="1192" cy="624.3" r="9.0"/>
<circle cx="1192.8" cy="620.4" r="9.0"/>
<circle cx="1190.8" cy="622.8" r="9.0"/>
<circle cx="1187.6" cy="625.2" r="9.0"/>
<circle cx="1183.8" cy="626.6" r="9.0"/>
<circle cx="1179.9" cy="626.1" r="9.0"/>
<circle cx="1176.6" cy="623.9" r="9.0"/>
<circle cx="1173.4" cy="625.9" r="9.0"/>
<circle cx="1169.5" cy="626.6" r="9.0"/>
<circle cx="1165.6" cy="625.5" r="9.0"/>
<circle cx="1162.1" cy="623.6" r="9.0"/>
<circle cx="1203" cy="874.5" r="9.0"/>
<circle cx="1206.9" cy="875.4" r="9.0"/>
<circle cx="1209.9" cy="878" r="9.0"/>
<circle cx="1211.5" cy="881.7" r="9.0"/>
<circle cx="1211.7" cy="885.7" r="9.0"/>
<circle cx="1211.5" cy="889.8" r="9.0"/>
<circle cx="1209.9" cy="893.5" r="9.0"/>
<circle cx="1206.8" cy="896" r="9.0"/>
<circle cx="1203.1" cy="897.6" r="9.0"/>
<circle cx="1199.7" cy="899.9" r="9.0"/>
<circle cx="1195.8" cy="900.6" r="9.0"/>
<circle cx="1191.9" cy="899.6" r="9.0"/>
<circle cx="1188.2" cy="898" r="9.0"/>
<circle cx="1184.7" cy="895.9" r="9.0"/>
<circle cx="1182.2" cy="892.8" r="9.0"/>
<circle cx="1181.3" cy="888.9" r="9.0"/>
<circle cx="1182.3" cy="885" r="9.0"/>
<circle cx="1185" cy="881.9" r="9.0"/>
<circle cx="1188.7" cy="880.4" r="9.0"/>
<circle cx="1192.3" cy="879" r="9.0"/>
<circle cx="1195.2" cy="876.2" r="9.0"/>
<circle cx="1198.9" cy="874.6" r="9.0"/>
<circle cx="1200.4" cy="671.3" r="9.0"/>
<circle cx="1196.9" cy="673.2" r="9.0"/>
<circle cx="1192.9" cy="673.4" r="9.0"/>
<circle cx="1189.1" cy="672.2" r="9.0"/>
<circle cx="1185.3" cy="670.7" r="9.0"/>
<circle cx="1182.6" cy="667.8" r="9.0"/>
<circle cx="1181.3" cy="664" r="9.0"/>
<circle cx="1182" cy="660.1" r="9.0"/>
<circle cx="1184.3" cy="656.8" r="9.0"/>
<circle cx="1187.8" cy="654.9" r="9.0"/>
<circle cx="1191.5" cy="653.3" r="9.0"/>
<circle cx="1195.2" cy="651.7" r="9.0"/>
<circle cx="1199.1" cy="651.8" r="9.0"/>
<circle cx="1202.7" cy="653.6" r="9.0"/>
<circle cx="1205" cy="656.9" r="9.0"/>
<circle cx="1205.6" cy="660.9" r="9.0"/>
<circle cx="1204.9" cy="664.8" r="9.0"/>
<circle cx="1203.3" cy="668.5" r="9.0"/>
<circle cx="1098.7" cy="924.6" r="9.0"/>
<circle cx="1095.7" cy="921.8" r="9.0"/>
<circle cx="1094.4" cy="918.1" r="9.0"/>
<circle cx="1094.8" cy="914.1" r="9.0"/>
<circle cx="1097" cy="910.7" r="9.0"/>
<circle cx="1100.4" cy="908.7" r="9.0"/>
<circle cx="1104.2" cy="907.5" r="9.0"/>
<circle cx="1108.2" cy="908.1" r="9.0"/>
<circle cx="1111.9" cy="909.6" r="9.0"/>
<circle cx="1115.3" cy="911.8" r="9.0"/>
<circle cx="1117.4" cy="915.2" r="9.0"/>
<circle cx="1117.7" cy="919.2" r="9.0"/>
<circle cx="1116.8" cy="922.7" r="9.0"/>
<circle cx="1118.7" cy="919.2" r="9.0"/>
<circle cx="1121.4" cy="916.2" r="9.0"/>
<circle cx="1125.1" cy="914.7" r="9.0"/>
<circle cx="1129.1" cy="915" r="9.0"/>
<circle cx="1132.5" cy="917.1" r="9.0"/>
<circle cx="1135.1" cy="920.1" r="9.0"/>
<circle cx="1136.3" cy="923.9" r="9.0"/>
<circle cx="1136" cy="927.9" r="9.0"/>
<circle cx="1135.6" cy="932" r="9.0"/>
<circle cx="1134.9" cy="935.9" r="9.0"/>
<circle cx="1132.7" cy="939.2" r="9.0"/>
<circle cx="1129.2" cy="941.2" r="9.0"/>
<circle cx="1125.2" cy="941.4" r="9.0"/>
<circle cx="1121.3" cy="940.5" r="9.0"/>
<circle cx="1117.4" cy="939.7" r="9.0"/>
<circle cx="1113.8" cy="937.9" r="9.0"/>
<circle cx="1111.3" cy="934.8" r="9.0"/>
<circle cx="1110.6" cy="930.8" r="9.0"/>
<circle cx="1109.8" cy="928.5" r="9.0"/>
<circle cx="1105.8" cy="928.2" r="9.0"/>
<circle cx="1102.2" cy="926.5" r="9.0"/>
<circle cx="1126" cy="857.6" r="9.0"/>
<circle cx="1128.9" cy="860.3" r="9.0"/>
<circle cx="1130.4" cy="864" r="9.0"/>
<circle cx="1130" cy="868" r="9.0"/>
<circle cx="1127.9" cy="871.4" r="9.0"/>
<circle cx="1124.6" cy="873.5" r="9.0"/>
<circle cx="1120.7" cy="874.4" r="9.0"/>
<circle cx="1116.7" cy="874" r="9.0"/>
<circle cx="1113.4" cy="871.8" r="9.0"/>
<circle cx="1111.1" cy="868.5" r="9.0"/>
<circle cx="1109.5" cy="864.9" r="9.0"/>
<circle cx="1109.6" cy="860.9" r="9.0"/>
<circle cx="1111.5" cy="857.4" r="9.0"/>
<circle cx="1114.8" cy="855.1" r="9.0"/>
<circle cx="1118.7" cy="854.5" r="9.0"/>
<circle cx="1122.5" cy="855.7" r="9.0"/>
<circle cx="1093.3" cy="816.2" r="9.0"/>
<circle cx="1096.5" cy="818.5" r="9.0"/>
<circle cx="1098.4" cy="822.1" r="9.0"/>
<circle cx="1098.5" cy="826.1" r="9.0"/>
<circle cx="1096.9" cy="829.7" r="9.0"/>
<circle cx="1094.6" cy="833.1" r="9.0"/>
<circle cx="1093.2" cy="836.8" r="9.0"/>
<circle cx="1090.4" cy="839.7" r="9.0"/>
<circle cx="1086.8" cy="841.5" r="9.0"/>
<circle cx="1083.1" cy="843.1" r="9.0"/>
<circle cx="1079.1" cy="843.2" r="9.0"/>
<circle cx="1075.4" cy="841.5" r="9.0"/>
<circle cx="1072.4" cy="838.9" r="9.0"/>
<circle cx="1069.7" cy="835.9" r="9.0"/>
<circle cx="1068.4" cy="832.1" r="9.0"/>
<circle cx="1069" cy="828.1" r="9.0"/>
<circle cx="1069.3" cy="824.3" r="9.0"/>
<circle cx="1069.7" cy="820.4" r="9.0"/>
<circle cx="1071.7" cy="816.9" r="9.0"/>
<circle cx="1075" cy="814.6" r="9.0"/>
<circle cx="1078.5" cy="812.4" r="9.0"/>
<circle cx="1082.3" cy="811.4" r="9.0"/>
<circle cx="1086.3" cy="812.3" r="9.0"/>
<circle cx="1089.6" cy="814.6" r="9.0"/>
<circle cx="1228.8" cy="516.9" r="9.0"/>
<circle cx="1236.8" cy="516.9" r="9.0"/>
<circle cx="1244.8" cy="516.9" r="9.0"/>
<circle cx="1232.8" cy="523.9" r="9.0"/>
<circle cx="1240.8" cy="523.9" r="9.0"/>
<circle cx="1228.8" cy="530.8" r="9.0"/>
<circle cx="1236.8" cy="530.8" r="9.0"/>
<circle cx="1244.8" cy="530.8" r="9.0"/>
<circle cx="1224.8" cy="537.7" r="9.0"/>
<circle cx="1232.8" cy="537.7" r="9.0"/>
<circle cx="1148.8" cy="544.6" r="9.0"/>
<circle cx="1156.8" cy="544.6" r="9.0"/>
<circle cx="1164.8" cy="544.6" r="9.0"/>
<circle cx="1204.8" cy="544.6" r="9.0"/>
<circle cx="1220.8" cy="544.6" r="9.0"/>
<circle cx="1228.8" cy="544.6" r="9.0"/>
<circle cx="1152.8" cy="551.6" r="9.0"/>
<circle cx="1160.8" cy="551.6" r="9.0"/>
<circle cx="1224.8" cy="551.6" r="9.0"/>
<circle cx="1232.8" cy="551.6" r="9.0"/>
<circle cx="1148.8" cy="558.5" r="9.0"/>
<circle cx="1156.8" cy="558.5" r="9.0"/>
<circle cx="1220.8" cy="558.5" r="9.0"/>
<circle cx="1228.8" cy="558.5" r="9.0"/>
<circle cx="1236.8" cy="558.5" r="9.0"/>
<circle cx="1160.8" cy="565.4" r="9.0"/>
<circle cx="1224.8" cy="565.4" r="9.0"/>
<circle cx="1232.8" cy="565.4" r="9.0"/>
<circle cx="1164.8" cy="572.4" r="9.0"/>
<circle cx="1228.8" cy="572.4" r="9.0"/>
<circle cx="1160.8" cy="579.3" r="9.0"/>
<circle cx="1168.8" cy="579.3" r="9.0"/>
<circle cx="1224.8" cy="579.3" r="9.0"/>
<circle cx="1164.8" cy="586.2" r="9.0"/>
<circle cx="1172.8" cy="586.2" r="9.0"/>
<circle cx="1204.8" cy="586.2" r="9.0"/>
<circle cx="1212.8" cy="586.2" r="9.0"/>
<circle cx="1220.8" cy="586.2" r="9.0"/>
<circle cx="1228.8" cy="586.2" r="9.0"/>
<circle cx="1152.8" cy="593.1" r="9.0"/>
<circle cx="1160.8" cy="593.1" r="9.0"/>
<circle cx="1168.8" cy="593.1" r="9.0"/>
<circle cx="1200.8" cy="593.1" r="9.0"/>
<circle cx="1208.8" cy="593.1" r="9.0"/>
<circle cx="1216.8" cy="593.1" r="9.0"/>
<circle cx="1148.8" cy="600.1" r="9.0"/>
<circle cx="1156.8" cy="600.1" r="9.0"/>
<circle cx="1164.8" cy="600.1" r="9.0"/>
<circle cx="1172.8" cy="600.1" r="9.0"/>
<circle cx="1180.8" cy="600.1" r="9.0"/>
<circle cx="1188.8" cy="600.1" r="9.0"/>
<circle cx="1196.8" cy="600.1" r="9.0"/>
<circle cx="1204.8" cy="600.1" r="9.0"/>
<circle cx="1212.8" cy="600.1" r="9.0"/>
<circle cx="1152.8" cy="607" r="9.0"/>
<circle cx="1160.8" cy="607" r="9.0"/>
<circle cx="1176.8" cy="607" r="9.0"/>
<circle cx="1184.8" cy="607" r="9.0"/>
<circle cx="1192.8" cy="607" r="9.0"/>
<circle cx="1200.8" cy="607" r="9.0"/>
<circle cx="1208.8" cy="607" r="9.0"/>
<circle cx="1256.8" cy="607" r="9.0"/>
<circle cx="1280.8" cy="607" r="9.0"/>
<circle cx="1148.8" cy="613.9" r="9.0"/>
<circle cx="1156.8" cy="613.9" r="9.0"/>
<circle cx="1196.8" cy="613.9" r="9.0"/>
<circle cx="1204.8" cy="613.9" r="9.0"/>
<circle cx="1212.8" cy="613.9" r="9.0"/>
<circle cx="1236.8" cy="613.9" r="9.0"/>
<circle cx="1244.8" cy="613.9" r="9.0"/>
<circle cx="1252.8" cy="613.9" r="9.0"/>
<circle cx="1260.8" cy="613.9" r="9.0"/>
<circle cx="1152.8" cy="620.9" r="9.0"/>
<circle cx="1248.8" cy="620.9" r="9.0"/>
<circle cx="1256.8" cy="620.9" r="9.0"/>
<circle cx="1264.8" cy="620.9" r="9.0"/>
<circle cx="1288.8" cy="620.9" r="9.0"/>
<circle cx="1148.8" cy="627.8" r="9.0"/>
<circle cx="1156.8" cy="627.8" r="9.0"/>
<circle cx="1164.8" cy="627.8" r="9.0"/>
<circle cx="1172.8" cy="627.8" r="9.0"/>
<circle cx="1180.8" cy="627.8" r="9.0"/>
<circle cx="1188.8" cy="627.8" r="9.0"/>
<circle cx="1212.8" cy="627.8" r="9.0"/>
<circle cx="1252.8" cy="627.8" r="9.0"/>
<circle cx="1168.8" cy="634.7" r="9.0"/>
<circle cx="1176.8" cy="634.7" r="9.0"/>
<circle cx="1184.8" cy="634.7" r="9.0"/>
<circle cx="1192.8" cy="634.7" r="9.0"/>
<circle cx="1208.8" cy="634.7" r="9.0"/>
<circle cx="1256.8" cy="634.7" r="9.0"/>
<circle cx="1164.8" cy="641.6" r="9.0"/>
<circle cx="1172.8" cy="641.6" r="9.0"/>
<circle cx="1180.8" cy="641.6" r="9.0"/>
<circle cx="1188.8" cy="641.6" r="9.0"/>
<circle cx="1196.8" cy="641.6" r="9.0"/>
<circle cx="1204.8" cy="641.6" r="9.0"/>
<circle cx="1212.8" cy="641.6" r="9.0"/>
<circle cx="1220.8" cy="641.6" r="9.0"/>
<circle cx="1228.8" cy="641.6" r="9.0"/>
<circle cx="1252.8" cy="641.6" r="9.0"/>
<circle cx="1260.8" cy="641.6" r="9.0"/>
<circle cx="1160.8" cy="648.6" r="9.0"/>
<circle cx="1168.8" cy="648.6" r="9.0"/>
<circle cx="1176.8" cy="648.6" r="9.0"/>
<circle cx="1184.8" cy="648.6" r="9.0"/>
<circle cx="1192.8" cy="648.6" r="9.0"/>
<circle cx="1200.8" cy="648.6" r="9.0"/>
<circle cx="1208.8" cy="648.6" r="9.0"/>
<circle cx="1216.8" cy="648.6" r="9.0"/>
<circle cx="1224.8" cy="648.6" r="9.0"/>
<circle cx="1256.8" cy="648.6" r="9.0"/>
<circle cx="1264.8" cy="648.6" r="9.0"/>
<circle cx="1164.8" cy="655.5" r="9.0"/>
<circle cx="1172.8" cy="655.5" r="9.0"/>
<circle cx="1180.8" cy="655.5" r="9.0"/>
<circle cx="1204.8" cy="655.5" r="9.0"/>
<circle cx="1212.8" cy="655.5" r="9.0"/>
<circle cx="1160.8" cy="662.4" r="9.0"/>
<circle cx="1168.8" cy="662.4" r="9.0"/>
<circle cx="1176.8" cy="662.4" r="9.0"/>
<circle cx="1148.8" cy="669.4" r="9.0"/>
<circle cx="1156.8" cy="669.4" r="9.0"/>
<circle cx="1164.8" cy="669.4" r="9.0"/>
<circle cx="1172.8" cy="669.4" r="9.0"/>
<circle cx="1180.8" cy="669.4" r="9.0"/>
<circle cx="1204.8" cy="669.4" r="9.0"/>
<circle cx="1236.8" cy="669.4" r="9.0"/>
<circle cx="1244.8" cy="669.4" r="9.0"/>
<circle cx="1152.8" cy="676.3" r="9.0"/>
<circle cx="1160.8" cy="676.3" r="9.0"/>
<circle cx="1168.8" cy="676.3" r="9.0"/>
<circle cx="1176.8" cy="676.3" r="9.0"/>
<circle cx="1184.8" cy="676.3" r="9.0"/>
<circle cx="1192.8" cy="676.3" r="9.0"/>
<circle cx="1200.8" cy="676.3" r="9.0"/>
<circle cx="1208.8" cy="676.3" r="9.0"/>
<circle cx="1216.8" cy="676.3" r="9.0"/>
<circle cx="1232.8" cy="676.3" r="9.0"/>
<circle cx="1240.8" cy="676.3" r="9.0"/>
<circle cx="1148.8" cy="683.2" r="9.0"/>
<circle cx="1156.8" cy="683.2" r="9.0"/>
<circle cx="1164.8" cy="683.2" r="9.0"/>
<circle cx="1172.8" cy="683.2" r="9.0"/>
<circle cx="1180.8" cy="683.2" r="9.0"/>
<circle cx="1188.8" cy="683.2" r="9.0"/>
<circle cx="1196.8" cy="683.2" r="9.0"/>
<circle cx="1204.8" cy="683.2" r="9.0"/>
<circle cx="1212.8" cy="683.2" r="9.0"/>
<circle cx="1220.8" cy="683.2" r="9.0"/>
<circle cx="1228.8" cy="683.2" r="9.0"/>
<circle cx="1236.8" cy="683.2" r="9.0"/>
<circle cx="1244.8" cy="683.2" r="9.0"/>
<circle cx="1268.8" cy="683.2" r="9.0"/>
<circle cx="1152.8" cy="690.1" r="9.0"/>
<circle cx="1160.8" cy="690.1" r="9.0"/>
<circle cx="1168.8" cy="690.1" r="9.0"/>
<circle cx="1176.8" cy="690.1" r="9.0"/>
<circle cx="1184.8" cy="690.1" r="9.0"/>
<circle cx="1192.8" cy="690.1" r="9.0"/>
<circle cx="1200.8" cy="690.1" r="9.0"/>
<circle cx="1208.8" cy="690.1" r="9.0"/>
<circle cx="1216.8" cy="690.1" r="9.0"/>
<circle cx="1224.8" cy="690.1" r="9.0"/>
<circle cx="1232.8" cy="690.1" r="9.0"/>
<circle cx="1240.8" cy="690.1" r="9.0"/>
<circle cx="1248.8" cy="690.1" r="9.0"/>
<circle cx="1256.8" cy="690.1" r="9.0"/>
<circle cx="1264.8" cy="690.1" r="9.0"/>
<circle cx="1148.8" cy="697.1" r="9.0"/>
<circle cx="1156.8" cy="697.1" r="9.0"/>
<circle cx="1164.8" cy="697.1" r="9.0"/>
<circle cx="1172.8" cy="697.1" r="9.0"/>
<circle cx="1180.8" cy="697.1" r="9.0"/>
<circle cx="1188.8" cy="697.1" r="9.0"/>
<circle cx="1196.8" cy="697.1" r="9.0"/>
<circle cx="1204.8" cy="697.1" r="9.0"/>
<circle cx="1212.8" cy="697.1" r="9.0"/>
<circle cx="1220.8" cy="697.1" r="9.0"/>
<circle cx="1252.8" cy="697.1" r="9.0"/>
<circle cx="1152.8" cy="704" r="9.0"/>
<circle cx="1160.8" cy="704" r="9.0"/>
<circle cx="1168.8" cy="704" r="9.0"/>
<circle cx="1176.8" cy="704" r="9.0"/>
<circle cx="1184.8" cy="704" r="9.0"/>
<circle cx="1192.8" cy="704" r="9.0"/>
<circle cx="1200.8" cy="704" r="9.0"/>
<circle cx="1208.8" cy="704" r="9.0"/>
<circle cx="1216.8" cy="704" r="9.0"/>
<circle cx="1148.8" cy="710.9" r="9.0"/>
<circle cx="1156.8" cy="710.9" r="9.0"/>
<circle cx="1164.8" cy="710.9" r="9.0"/>
<circle cx="1172.8" cy="710.9" r="9.0"/>
<circle cx="1180.8" cy="710.9" r="9.0"/>
<circle cx="1188.8" cy="710.9" r="9.0"/>
<circle cx="1196.8" cy="710.9" r="9.0"/>
<circle cx="1220.8" cy="710.9" r="9.0"/>
<circle cx="1252.8" cy="710.9" r="9.0"/>
<circle cx="1152.8" cy="717.8" r="9.0"/>
<circle cx="1160.8" cy="717.8" r="9.0"/>
<circle cx="1168.8" cy="717.8" r="9.0"/>
<circle cx="1176.8" cy="717.8" r="9.0"/>
<circle cx="1184.8" cy="717.8" r="9.0"/>
<circle cx="1192.8" cy="717.8" r="9.0"/>
<circle cx="1224.8" cy="717.8" r="9.0"/>
<circle cx="1232.8" cy="717.8" r="9.0"/>
<circle cx="1240.8" cy="717.8" r="9.0"/>
<circle cx="1248.8" cy="717.8" r="9.0"/>
<circle cx="1256.8" cy="717.8" r="9.0"/>
<circle cx="1264.8" cy="717.8" r="9.0"/>
<circle cx="1272.8" cy="717.8" r="9.0"/>
<circle cx="1280.8" cy="717.8" r="9.0"/>
<circle cx="1148.8" cy="724.8" r="9.0"/>
<circle cx="1156.8" cy="724.8" r="9.0"/>
<circle cx="1164.8" cy="724.8" r="9.0"/>
<circle cx="1172.8" cy="724.8" r="9.0"/>
<circle cx="1180.8" cy="724.8" r="9.0"/>
<circle cx="1188.8" cy="724.8" r="9.0"/>
<circle cx="1196.8" cy="724.8" r="9.0"/>
<circle cx="1220.8" cy="724.8" r="9.0"/>
<circle cx="1228.8" cy="724.8" r="9.0"/>
<circle cx="1236.8" cy="724.8" r="9.0"/>
<circle cx="1244.8" cy="724.8" r="9.0"/>
<circle cx="1252.8" cy="724.8" r="9.0"/>
<circle cx="1260.8" cy="724.8" r="9.0"/>
<circle cx="1268.8" cy="724.8" r="9.0"/>
<circle cx="1276.8" cy="724.8" r="9.0"/>
<circle cx="1284.8" cy="724.8" r="9.0"/>
<circle cx="1152.8" cy="731.7" r="9.0"/>
<circle cx="1160.8" cy="731.7" r="9.0"/>
<circle cx="1168.8" cy="731.7" r="9.0"/>
<circle cx="1176.8" cy="731.7" r="9.0"/>
<circle cx="1184.8" cy="731.7" r="9.0"/>
<circle cx="1192.8" cy="731.7" r="9.0"/>
<circle cx="1200.8" cy="731.7" r="9.0"/>
<circle cx="1208.8" cy="731.7" r="9.0"/>
<circle cx="1216.8" cy="731.7" r="9.0"/>
<circle cx="1224.8" cy="731.7" r="9.0"/>
<circle cx="1232.8" cy="731.7" r="9.0"/>
<circle cx="1240.8" cy="731.7" r="9.0"/>
<circle cx="1248.8" cy="731.7" r="9.0"/>
<circle cx="1256.8" cy="731.7" r="9.0"/>
<circle cx="1264.8" cy="731.7" r="9.0"/>
<circle cx="1272.8" cy="731.7" r="9.0"/>
<circle cx="1280.8" cy="731.7" r="9.0"/>
<circle cx="1288.8" cy="731.7" r="9.0"/>
<circle cx="1148.8" cy="738.6" r="9.0"/>
<circle cx="1156.8" cy="738.6" r="9.0"/>
<circle cx="1164.8" cy="738.6" r="9.0"/>
<circle cx="1172.8" cy="738.6" r="9.0"/>
<circle cx="1180.8" cy="738.6" r="9.0"/>
<circle cx="1188.8" cy="738.6" r="9.0"/>
<circle cx="1196.8" cy="738.6" r="9.0"/>
<circle cx="1204.8" cy="738.6" r="9.0"/>
<circle cx="1220.8" cy="738.6" r="9.0"/>
<circle cx="1228.8" cy="738.6" r="9.0"/>
<circle cx="1236.8" cy="738.6" r="9.0"/>
<circle cx="1244.8" cy="738.6" r="9.0"/>
<circle cx="1252.8" cy="738.6" r="9.0"/>
<circle cx="1260.8" cy="738.6" r="9.0"/>
<circle cx="1268.8" cy="738.6" r="9.0"/>
<circle cx="1276.8" cy="738.6" r="9.0"/>
<circle cx="1284.8" cy="738.6" r="9.0"/>
<circle cx="1152.8" cy="745.6" r="9.0"/>
<circle cx="1160.8" cy="745.6" r="9.0"/>
<circle cx="1168.8" cy="745.6" r="9.0"/>
<circle cx="1176.8" cy="745.6" r="9.0"/>
<circle cx="1184.8" cy="745.6" r="9.0"/>
<circle cx="1192.8" cy="745.6" r="9.0"/>
<circle cx="1224.8" cy="745.6" r="9.0"/>
<circle cx="1232.8" cy="745.6" r="9.0"/>
<circle cx="1240.8" cy="745.6" r="9.0"/>
<circle cx="1248.8" cy="745.6" r="9.0"/>
<circle cx="1256.8" cy="745.6" r="9.0"/>
<circle cx="1264.8" cy="745.6" r="9.0"/>
<circle cx="1272.8" cy="745.6" r="9.0"/>
<circle cx="1280.8" cy="745.6" r="9.0"/>
<circle cx="1288.8" cy="745.6" r="9.0"/>
<circle cx="1148.8" cy="752.5" r="9.0"/>
<circle cx="1156.8" cy="752.5" r="9.0"/>
<circle cx="1164.8" cy="752.5" r="9.0"/>
<circle cx="1172.8" cy="752.5" r="9.0"/>
<circle cx="1180.8" cy="752.5" r="9.0"/>
<circle cx="1188.8" cy="752.5" r="9.0"/>
<circle cx="1196.8" cy="752.5" r="9.0"/>
<circle cx="1220.8" cy="752.5" r="9.0"/>
<circle cx="1228.8" cy="752.5" r="9.0"/>
<circle cx="1236.8" cy="752.5" r="9.0"/>
<circle cx="1244.8" cy="752.5" r="9.0"/>
<circle cx="1252.8" cy="752.5" r="9.0"/>
<circle cx="1260.8" cy="752.5" r="9.0"/>
<circle cx="1268.8" cy="752.5" r="9.0"/>
<circle cx="1276.8" cy="752.5" r="9.0"/>
<circle cx="1284.8" cy="752.5" r="9.0"/>
<circle cx="1152.8" cy="759.4" r="9.0"/>
<circle cx="1160.8" cy="759.4" r="9.0"/>
<circle cx="1168.8" cy="759.4" r="9.0"/>
<circle cx="1176.8" cy="759.4" r="9.0"/>
<circle cx="1184.8" cy="759.4" r="9.0"/>
<circle cx="1192.8" cy="759.4" r="9.0"/>
<circle cx="1200.8" cy="759.4" r="9.0"/>
<circle cx="1208.8" cy="759.4" r="9.0"/>
<circle cx="1216.8" cy="759.4" r="9.0"/>
<circle cx="1224.8" cy="759.4" r="9.0"/>
<circle cx="1256.8" cy="759.4" r="9.0"/>
<circle cx="1264.8" cy="759.4" r="9.0"/>
<circle cx="1272.8" cy="759.4" r="9.0"/>
<circle cx="1280.8" cy="759.4" r="9.0"/>
<circle cx="1148.8" cy="766.3" r="9.0"/>
<circle cx="1156.8" cy="766.3" r="9.0"/>
<circle cx="1164.8" cy="766.3" r="9.0"/>
<circle cx="1172.8" cy="766.3" r="9.0"/>
<circle cx="1180.8" cy="766.3" r="9.0"/>
<circle cx="1188.8" cy="766.3" r="9.0"/>
<circle cx="1196.8" cy="766.3" r="9.0"/>
<circle cx="1204.8" cy="766.3" r="9.0"/>
<circle cx="1212.8" cy="766.3" r="9.0"/>
<circle cx="1220.8" cy="766.3" r="9.0"/>
<circle cx="1228.8" cy="766.3" r="9.0"/>
<circle cx="1260.8" cy="766.3" r="9.0"/>
<circle cx="1268.8" cy="766.3" r="9.0"/>
<circle cx="1276.8" cy="766.3" r="9.0"/>
<circle cx="1152.8" cy="773.3" r="9.0"/>
<circle cx="1160.8" cy="773.3" r="9.0"/>
<circle cx="1168.8" cy="773.3" r="9.0"/>
<circle cx="1176.8" cy="773.3" r="9.0"/>
<circle cx="1184.8" cy="773.3" r="9.0"/>
<circle cx="1192.8" cy="773.3" r="9.0"/>
<circle cx="1200.8" cy="773.3" r="9.0"/>
<circle cx="1208.8" cy="773.3" r="9.0"/>
<circle cx="1216.8" cy="773.3" r="9.0"/>
<circle cx="1224.8" cy="773.3" r="9.0"/>
<circle cx="1232.8" cy="773.3" r="9.0"/>
<circle cx="1256.8" cy="773.3" r="9.0"/>
<circle cx="1264.8" cy="773.3" r="9.0"/>
<circle cx="1272.8" cy="773.3" r="9.0"/>
<circle cx="1280.8" cy="773.3" r="9.0"/>
<circle cx="1148.8" cy="780.2" r="9.0"/>
<circle cx="1156.8" cy="780.2" r="9.0"/>
<circle cx="1164.8" cy="780.2" r="9.0"/>
<circle cx="1172.8" cy="780.2" r="9.0"/>
<circle cx="1180.8" cy="780.2" r="9.0"/>
<circle cx="1188.8" cy="780.2" r="9.0"/>
<circle cx="1196.8" cy="780.2" r="9.0"/>
<circle cx="1204.8" cy="780.2" r="9.0"/>
<circle cx="1212.8" cy="780.2" r="9.0"/>
<circle cx="1220.8" cy="780.2" r="9.0"/>
<circle cx="1228.8" cy="780.2" r="9.0"/>
<circle cx="1236.8" cy="780.2" r="9.0"/>
<circle cx="1252.8" cy="780.2" r="9.0"/>
<circle cx="1260.8" cy="780.2" r="9.0"/>
<circle cx="1268.8" cy="780.2" r="9.0"/>
<circle cx="1276.8" cy="780.2" r="9.0"/>
<circle cx="1152.8" cy="787.1" r="9.0"/>
<circle cx="1160.8" cy="787.1" r="9.0"/>
<circle cx="1168.8" cy="787.1" r="9.0"/>
<circle cx="1176.8" cy="787.1" r="9.0"/>
<circle cx="1184.8" cy="787.1" r="9.0"/>
<circle cx="1192.8" cy="787.1" r="9.0"/>
<circle cx="1200.8" cy="787.1" r="9.0"/>
<circle cx="1208.8" cy="787.1" r="9.0"/>
<circle cx="1216.8" cy="787.1" r="9.0"/>
<circle cx="1224.8" cy="787.1" r="9.0"/>
<circle cx="1232.8" cy="787.1" r="9.0"/>
<circle cx="1248.8" cy="787.1" r="9.0"/>
<circle cx="1256.8" cy="787.1" r="9.0"/>
<circle cx="1264.8" cy="787.1" r="9.0"/>
<circle cx="1148.8" cy="794.1" r="9.0"/>
<circle cx="1156.8" cy="794.1" r="9.0"/>
<circle cx="1164.8" cy="794.1" r="9.0"/>
<circle cx="1172.8" cy="794.1" r="9.0"/>
<circle cx="1180.8" cy="794.1" r="9.0"/>
<circle cx="1188.8" cy="794.1" r="9.0"/>
<circle cx="1196.8" cy="794.1" r="9.0"/>
<circle cx="1204.8" cy="794.1" r="9.0"/>
<circle cx="1212.8" cy="794.1" r="9.0"/>
<circle cx="1220.8" cy="794.1" r="9.0"/>
<circle cx="1228.8" cy="794.1" r="9.0"/>
<circle cx="1260.8" cy="794.1" r="9.0"/>
<circle cx="1152.8" cy="801" r="9.0"/>
<circle cx="1160.8" cy="801" r="9.0"/>
<circle cx="1168.8" cy="801" r="9.0"/>
<circle cx="1176.8" cy="801" r="9.0"/>
<circle cx="1184.8" cy="801" r="9.0"/>
<circle cx="1192.8" cy="801" r="9.0"/>
<circle cx="1200.8" cy="801" r="9.0"/>
<circle cx="1208.8" cy="801" r="9.0"/>
<circle cx="1216.8" cy="801" r="9.0"/>
<circle cx="1224.8" cy="801" r="9.0"/>
<circle cx="1264.8" cy="801" r="9.0"/>
<circle cx="1028.8" cy="807.9" r="9.0"/>
<circle cx="1036.8" cy="807.9" r="9.0"/>
<circle cx="1044.8" cy="807.9" r="9.0"/>
<circle cx="1052.8" cy="807.9" r="9.0"/>
<circle cx="1060.8" cy="807.9" r="9.0"/>
<circle cx="1068.8" cy="807.9" r="9.0"/>
<circle cx="1076.8" cy="807.9" r="9.0"/>
<circle cx="1084.8" cy="807.9" r="9.0"/>
<circle cx="1092.8" cy="807.9" r="9.0"/>
<circle cx="1100.8" cy="807.9" r="9.0"/>
<circle cx="1108.8" cy="807.9" r="9.0"/>
<circle cx="1116.8" cy="807.9" r="9.0"/>
<circle cx="1124.8" cy="807.9" r="9.0"/>
<circle cx="1132.8" cy="807.9" r="9.0"/>
<circle cx="1140.8" cy="807.9" r="9.0"/>
<circle cx="1148.8" cy="807.9" r="9.0"/>
<circle cx="1156.8" cy="807.9" r="9.0"/>
<circle cx="1164.8" cy="807.9" r="9.0"/>
<circle cx="1172.8" cy="807.9" r="9.0"/>
<circle cx="1180.8" cy="807.9" r="9.0"/>
<circle cx="1188.8" cy="807.9" r="9.0"/>
<circle cx="1196.8" cy="807.9" r="9.0"/>
<circle cx="1204.8" cy="807.9" r="9.0"/>
<circle cx="1212.8" cy="807.9" r="9.0"/>
<circle cx="1220.8" cy="807.9" r="9.0"/>
<circle cx="1260.8" cy="807.9" r="9.0"/>
<circle cx="1268.8" cy="807.9" r="9.0"/>
<circle cx="1032.8" cy="814.8" r="9.0"/>
<circle cx="1040.8" cy="814.8" r="9.0"/>
<circle cx="1048.8" cy="814.8" r="9.0"/>
<circle cx="1056.8" cy="814.8" r="9.0"/>
<circle cx="1064.8" cy="814.8" r="9.0"/>
<circle cx="1072.8" cy="814.8" r="9.0"/>
<circle cx="1096.8" cy="814.8" r="9.0"/>
<circle cx="1104.8" cy="814.8" r="9.0"/>
<circle cx="1112.8" cy="814.8" r="9.0"/>
<circle cx="1120.8" cy="814.8" r="9.0"/>
<circle cx="1128.8" cy="814.8" r="9.0"/>
<circle cx="1136.8" cy="814.8" r="9.0"/>
<circle cx="1144.8" cy="814.8" r="9.0"/>
<circle cx="1152.8" cy="814.8" r="9.0"/>
<circle cx="1160.8" cy="814.8" r="9.0"/>
<circle cx="1168.8" cy="814.8" r="9.0"/>
<circle cx="1176.8" cy="814.8" r="9.0"/>
<circle cx="1184.8" cy="814.8" r="9.0"/>
<circle cx="1192.8" cy="814.8" r="9.0"/>
<circle cx="1200.8" cy="814.8" r="9.0"/>
<circle cx="1208.8" cy="814.8" r="9.0"/>
<circle cx="1216.8" cy="814.8" r="9.0"/>
<circle cx="1224.8" cy="814.8" r="9.0"/>
<circle cx="1232.8" cy="814.8" r="9.0"/>
<circle cx="1240.8" cy="814.8" r="9.0"/>
<circle cx="1248.8" cy="814.8" r="9.0"/>
<circle cx="1256.8" cy="814.8" r="9.0"/>
<circle cx="1264.8" cy="814.8" r="9.0"/>
<circle cx="1028.8" cy="821.8" r="9.0"/>
<circle cx="1036.8" cy="821.8" r="9.0"/>
<circle cx="1044.8" cy="821.8" r="9.0"/>
<circle cx="1052.8" cy="821.8" r="9.0"/>
<circle cx="1060.8" cy="821.8" r="9.0"/>
<circle cx="1068.8" cy="821.8" r="9.0"/>
<circle cx="1100.8" cy="821.8" r="9.0"/>
<circle cx="1108.8" cy="821.8" r="9.0"/>
<circle cx="1116.8" cy="821.8" r="9.0"/>
<circle cx="1124.8" cy="821.8" r="9.0"/>
<circle cx="1132.8" cy="821.8" r="9.0"/>
<circle cx="1140.8" cy="821.8" r="9.0"/>
<circle cx="1148.8" cy="821.8" r="9.0"/>
<circle cx="1156.8" cy="821.8" r="9.0"/>
<circle cx="1164.8" cy="821.8" r="9.0"/>
<circle cx="1172.8" cy="821.8" r="9.0"/>
<circle cx="1180.8" cy="821.8" r="9.0"/>
<circle cx="1188.8" cy="821.8" r="9.0"/>
<circle cx="1196.8" cy="821.8" r="9.0"/>
<circle cx="1204.8" cy="821.8" r="9.0"/>
<circle cx="1212.8" cy="821.8" r="9.0"/>
<circle cx="1220.8" cy="821.8" r="9.0"/>
<circle cx="1228.8" cy="821.8" r="9.0"/>
<circle cx="1236.8" cy="821.8" r="9.0"/>
<circle cx="1244.8" cy="821.8" r="9.0"/>
<circle cx="1252.8" cy="821.8" r="9.0"/>
<circle cx="1024.8" cy="828.7" r="9.0"/>
<circle cx="1032.8" cy="828.7" r="9.0"/>
<circle cx="1040.8" cy="828.7" r="9.0"/>
<circle cx="1048.8" cy="828.7" r="9.0"/>
<circle cx="1056.8" cy="828.7" r="9.0"/>
<circle cx="1064.8" cy="828.7" r="9.0"/>
<circle cx="1104.8" cy="828.7" r="9.0"/>
<circle cx="1112.8" cy="828.7" r="9.0"/>
<circle cx="1120.8" cy="828.7" r="9.0"/>
<circle cx="1128.8" cy="828.7" r="9.0"/>
<circle cx="1136.8" cy="828.7" r="9.0"/>
<circle cx="1144.8" cy="828.7" r="9.0"/>
<circle cx="1152.8" cy="828.7" r="9.0"/>
<circle cx="1160.8" cy="828.7" r="9.0"/>
<circle cx="1168.8" cy="828.7" r="9.0"/>
<circle cx="1176.8" cy="828.7" r="9.0"/>
<circle cx="1184.8" cy="828.7" r="9.0"/>
<circle cx="1192.8" cy="828.7" r="9.0"/>
<circle cx="1200.8" cy="828.7" r="9.0"/>
<circle cx="1208.8" cy="828.7" r="9.0"/>
<circle cx="1216.8" cy="828.7" r="9.0"/>
<circle cx="1240.8" cy="828.7" r="9.0"/>
<circle cx="1248.8" cy="828.7" r="9.0"/>
<circle cx="1036.8" cy="835.6" r="9.0"/>
<circle cx="1044.8" cy="835.6" r="9.0"/>
<circle cx="1100.8" cy="835.6" r="9.0"/>
<circle cx="1108.8" cy="835.6" r="9.0"/>
<circle cx="1116.8" cy="835.6" r="9.0"/>
<circle cx="1124.8" cy="835.6" r="9.0"/>
<circle cx="1132.8" cy="835.6" r="9.0"/>
<circle cx="1140.8" cy="835.6" r="9.0"/>
<circle cx="1148.8" cy="835.6" r="9.0"/>
<circle cx="1156.8" cy="835.6" r="9.0"/>
<circle cx="1164.8" cy="835.6" r="9.0"/>
<circle cx="1172.8" cy="835.6" r="9.0"/>
<circle cx="1180.8" cy="835.6" r="9.0"/>
<circle cx="1188.8" cy="835.6" r="9.0"/>
<circle cx="1196.8" cy="835.6" r="9.0"/>
<circle cx="1204.8" cy="835.6" r="9.0"/>
<circle cx="1040.8" cy="842.6" r="9.0"/>
<circle cx="1048.8" cy="842.6" r="9.0"/>
<circle cx="1072.8" cy="842.6" r="9.0"/>
<circle cx="1088.8" cy="842.6" r="9.0"/>
<circle cx="1096.8" cy="842.6" r="9.0"/>
<circle cx="1104.8" cy="842.6" r="9.0"/>
<circle cx="1112.8" cy="842.6" r="9.0"/>
<circle cx="1120.8" cy="842.6" r="9.0"/>
<circle cx="1128.8" cy="842.6" r="9.0"/>
<circle cx="1136.8" cy="842.6" r="9.0"/>
<circle cx="1144.8" cy="842.6" r="9.0"/>
<circle cx="1152.8" cy="842.6" r="9.0"/>
<circle cx="1160.8" cy="842.6" r="9.0"/>
<circle cx="1168.8" cy="842.6" r="9.0"/>
<circle cx="1176.8" cy="842.6" r="9.0"/>
<circle cx="1184.8" cy="842.6" r="9.0"/>
<circle cx="1192.8" cy="842.6" r="9.0"/>
<circle cx="1200.8" cy="842.6" r="9.0"/>
<circle cx="1044.8" cy="849.5" r="9.0"/>
<circle cx="1068.8" cy="849.5" r="9.0"/>
<circle cx="1076.8" cy="849.5" r="9.0"/>
<circle cx="1084.8" cy="849.5" r="9.0"/>
<circle cx="1092.8" cy="849.5" r="9.0"/>
<circle cx="1100.8" cy="849.5" r="9.0"/>
<circle cx="1108.8" cy="849.5" r="9.0"/>
<circle cx="1116.8" cy="849.5" r="9.0"/>
<circle cx="1124.8" cy="849.5" r="9.0"/>
<circle cx="1132.8" cy="849.5" r="9.0"/>
<circle cx="1140.8" cy="849.5" r="9.0"/>
<circle cx="1148.8" cy="849.5" r="9.0"/>
<circle cx="1156.8" cy="849.5" r="9.0"/>
<circle cx="1164.8" cy="849.5" r="9.0"/>
<circle cx="1172.8" cy="849.5" r="9.0"/>
<circle cx="1180.8" cy="849.5" r="9.0"/>
<circle cx="1188.8" cy="849.5" r="9.0"/>
<circle cx="1196.8" cy="849.5" r="9.0"/>
<circle cx="1220.8" cy="849.5" r="9.0"/>
<circle cx="1228.8" cy="849.5" r="9.0"/>
<circle cx="1236.8" cy="849.5" r="9.0"/>
<circle cx="1260.8" cy="849.5" r="9.0"/>
<circle cx="1040.8" cy="856.4" r="9.0"/>
<circle cx="1064.8" cy="856.4" r="9.0"/>
<circle cx="1072.8" cy="856.4" r="9.0"/>
<circle cx="1080.8" cy="856.4" r="9.0"/>
<circle cx="1088.8" cy="856.4" r="9.0"/>
<circle cx="1096.8" cy="856.4" r="9.0"/>
<circle cx="1104.8" cy="856.4" r="9.0"/>
<circle cx="1128.8" cy="856.4" r="9.0"/>
<circle cx="1136.8" cy="856.4" r="9.0"/>
<circle cx="1144.8" cy="856.4" r="9.0"/>
<circle cx="1152.8" cy="856.4" r="9.0"/>
<circle cx="1160.8" cy="856.4" r="9.0"/>
<circle cx="1168.8" cy="856.4" r="9.0"/>
<circle cx="1176.8" cy="856.4" r="9.0"/>
<circle cx="1184.8" cy="856.4" r="9.0"/>
<circle cx="1192.8" cy="856.4" r="9.0"/>
<circle cx="1200.8" cy="856.4" r="9.0"/>
<circle cx="1208.8" cy="856.4" r="9.0"/>
<circle cx="1216.8" cy="856.4" r="9.0"/>
<circle cx="1224.8" cy="856.4" r="9.0"/>
<circle cx="1232.8" cy="856.4" r="9.0"/>
<circle cx="1240.8" cy="856.4" r="9.0"/>
<circle cx="1256.8" cy="856.4" r="9.0"/>
<circle cx="1020.8" cy="863.3" r="9.0"/>
<circle cx="1036.8" cy="863.3" r="9.0"/>
<circle cx="1068.8" cy="863.3" r="9.0"/>
<circle cx="1076.8" cy="863.3" r="9.0"/>
<circle cx="1084.8" cy="863.3" r="9.0"/>
<circle cx="1092.8" cy="863.3" r="9.0"/>
<circle cx="1100.8" cy="863.3" r="9.0"/>
<circle cx="1108.8" cy="863.3" r="9.0"/>
<circle cx="1132.8" cy="863.3" r="9.0"/>
<circle cx="1140.8" cy="863.3" r="9.0"/>
<circle cx="1148.8" cy="863.3" r="9.0"/>
<circle cx="1156.8" cy="863.3" r="9.0"/>
<circle cx="1164.8" cy="863.3" r="9.0"/>
<circle cx="1172.8" cy="863.3" r="9.0"/>
<circle cx="1180.8" cy="863.3" r="9.0"/>
<circle cx="1188.8" cy="863.3" r="9.0"/>
<circle cx="1196.8" cy="863.3" r="9.0"/>
<circle cx="1204.8" cy="863.3" r="9.0"/>
<circle cx="1212.8" cy="863.3" r="9.0"/>
<circle cx="1220.8" cy="863.3" r="9.0"/>
<circle cx="1228.8" cy="863.3" r="9.0"/>
<circle cx="1236.8" cy="863.3" r="9.0"/>
<circle cx="1244.8" cy="863.3" r="9.0"/>
<circle cx="1252.8" cy="863.3" r="9.0"/>
<circle cx="1016.8" cy="870.3" r="9.0"/>
<circle cx="1024.8" cy="870.3" r="9.0"/>
<circle cx="1032.8" cy="870.3" r="9.0"/>
<circle cx="1040.8" cy="870.3" r="9.0"/>
<circle cx="1072.8" cy="870.3" r="9.0"/>
<circle cx="1080.8" cy="870.3" r="9.0"/>
<circle cx="1088.8" cy="870.3" r="9.0"/>
<circle cx="1096.8" cy="870.3" r="9.0"/>
<circle cx="1104.8" cy="870.3" r="9.0"/>
<circle cx="1136.8" cy="870.3" r="9.0"/>
<circle cx="1144.8" cy="870.3" r="9.0"/>
<circle cx="1152.8" cy="870.3" r="9.0"/>
<circle cx="1160.8" cy="870.3" r="9.0"/>
<circle cx="1168.8" cy="870.3" r="9.0"/>
<circle cx="1176.8" cy="870.3" r="9.0"/>
<circle cx="1184.8" cy="870.3" r="9.0"/>
<circle cx="1192.8" cy="870.3" r="9.0"/>
<circle cx="1200.8" cy="870.3" r="9.0"/>
<circle cx="1208.8" cy="870.3" r="9.0"/>
<circle cx="1216.8" cy="870.3" r="9.0"/>
<circle cx="1224.8" cy="870.3" r="9.0"/>
<circle cx="1232.8" cy="870.3" r="9.0"/>
<circle cx="1240.8" cy="870.3" r="9.0"/>
<circle cx="1248.8" cy="870.3" r="9.0"/>
<circle cx="1256.8" cy="870.3" r="9.0"/>
<circle cx="1012.8" cy="877.2" r="9.0"/>
<circle cx="1020.8" cy="877.2" r="9.0"/>
<circle cx="1028.8" cy="877.2" r="9.0"/>
<circle cx="1076.8" cy="877.2" r="9.0"/>
<circle cx="1084.8" cy="877.2" r="9.0"/>
<circle cx="1092.8" cy="877.2" r="9.0"/>
<circle cx="1100.8" cy="877.2" r="9.0"/>
<circle cx="1108.8" cy="877.2" r="9.0"/>
<circle cx="1116.8" cy="877.2" r="9.0"/>
<circle cx="1124.8" cy="877.2" r="9.0"/>
<circle cx="1132.8" cy="877.2" r="9.0"/>
<circle cx="1140.8" cy="877.2" r="9.0"/>
<circle cx="1148.8" cy="877.2" r="9.0"/>
<circle cx="1156.8" cy="877.2" r="9.0"/>
<circle cx="1164.8" cy="877.2" r="9.0"/>
<circle cx="1172.8" cy="877.2" r="9.0"/>
<circle cx="1180.8" cy="877.2" r="9.0"/>
<circle cx="1188.8" cy="877.2" r="9.0"/>
<circle cx="1212.8" cy="877.2" r="9.0"/>
<circle cx="1220.8" cy="877.2" r="9.0"/>
<circle cx="1228.8" cy="877.2" r="9.0"/>
<circle cx="1236.8" cy="877.2" r="9.0"/>
<circle cx="1016.8" cy="884.1" r="9.0"/>
<circle cx="1024.8" cy="884.1" r="9.0"/>
<circle cx="1080.8" cy="884.1" r="9.0"/>
<circle cx="1088.8" cy="884.1" r="9.0"/>
<circle cx="1096.8" cy="884.1" r="9.0"/>
<circle cx="1104.8" cy="884.1" r="9.0"/>
<circle cx="1112.8" cy="884.1" r="9.0"/>
<circle cx="1120.8" cy="884.1" r="9.0"/>
<circle cx="1128.8" cy="884.1" r="9.0"/>
<circle cx="1136.8" cy="884.1" r="9.0"/>
<circle cx="1144.8" cy="884.1" r="9.0"/>
<circle cx="1152.8" cy="884.1" r="9.0"/>
<circle cx="1160.8" cy="884.1" r="9.0"/>
<circle cx="1168.8" cy="884.1" r="9.0"/>
<circle cx="1176.8" cy="884.1" r="9.0"/>
<circle cx="1216.8" cy="884.1" r="9.0"/>
<circle cx="1224.8" cy="884.1" r="9.0"/>
<circle cx="1232.8" cy="884.1" r="9.0"/>
<circle cx="1100.8" cy="891" r="9.0"/>
<circle cx="1108.8" cy="891" r="9.0"/>
<circle cx="1116.8" cy="891" r="9.0"/>
<circle cx="1124.8" cy="891" r="9.0"/>
<circle cx="1132.8" cy="891" r="9.0"/>
<circle cx="1140.8" cy="891" r="9.0"/>
<circle cx="1148.8" cy="891" r="9.0"/>
<circle cx="1156.8" cy="891" r="9.0"/>
<circle cx="1164.8" cy="891" r="9.0"/>
<circle cx="1172.8" cy="891" r="9.0"/>
<circle cx="1180.8" cy="891" r="9.0"/>
<circle cx="1212.8" cy="891" r="9.0"/>
<circle cx="1220.8" cy="891" r="9.0"/>
<circle cx="1228.8" cy="891" r="9.0"/>
<circle cx="1236.8" cy="891" r="9.0"/>
<circle cx="1048.8" cy="898" r="9.0"/>
<circle cx="1056.8" cy="898" r="9.0"/>
<circle cx="1096.8" cy="898" r="9.0"/>
<circle cx="1104.8" cy="898" r="9.0"/>
<circle cx="1112.8" cy="898" r="9.0"/>
<circle cx="1120.8" cy="898" r="9.0"/>
<circle cx="1128.8" cy="898" r="9.0"/>
<circle cx="1136.8" cy="898" r="9.0"/>
<circle cx="1144.8" cy="898" r="9.0"/>
<circle cx="1152.8" cy="898" r="9.0"/>
<circle cx="1160.8" cy="898" r="9.0"/>
<circle cx="1168.8" cy="898" r="9.0"/>
<circle cx="1176.8" cy="898" r="9.0"/>
<circle cx="1184.8" cy="898" r="9.0"/>
<circle cx="1208.8" cy="898" r="9.0"/>
<circle cx="1216.8" cy="898" r="9.0"/>
<circle cx="1224.8" cy="898" r="9.0"/>
<circle cx="1232.8" cy="898" r="9.0"/>
<circle cx="1068.8" cy="904.9" r="9.0"/>
<circle cx="1100.8" cy="904.9" r="9.0"/>
<circle cx="1108.8" cy="904.9" r="9.0"/>
<circle cx="1116.8" cy="904.9" r="9.0"/>
<circle cx="1124.8" cy="904.9" r="9.0"/>
<circle cx="1132.8" cy="904.9" r="9.0"/>
<circle cx="1140.8" cy="904.9" r="9.0"/>
<circle cx="1148.8" cy="904.9" r="9.0"/>
<circle cx="1156.8" cy="904.9" r="9.0"/>
<circle cx="1164.8" cy="904.9" r="9.0"/>
<circle cx="1172.8" cy="904.9" r="9.0"/>
<circle cx="1180.8" cy="904.9" r="9.0"/>
<circle cx="1188.8" cy="904.9" r="9.0"/>
<circle cx="1196.8" cy="904.9" r="9.0"/>
<circle cx="1212.8" cy="904.9" r="9.0"/>
<circle cx="1220.8" cy="904.9" r="9.0"/>
<circle cx="1228.8" cy="904.9" r="9.0"/>
<circle cx="1072.8" cy="911.8" r="9.0"/>
<circle cx="1080.8" cy="911.8" r="9.0"/>
<circle cx="1088.8" cy="911.8" r="9.0"/>
<circle cx="1120.8" cy="911.8" r="9.0"/>
<circle cx="1128.8" cy="911.8" r="9.0"/>
<circle cx="1136.8" cy="911.8" r="9.0"/>
<circle cx="1144.8" cy="911.8" r="9.0"/>
<circle cx="1152.8" cy="911.8" r="9.0"/>
<circle cx="1160.8" cy="911.8" r="9.0"/>
<circle cx="1168.8" cy="911.8" r="9.0"/>
<circle cx="1176.8" cy="911.8" r="9.0"/>
<circle cx="1184.8" cy="911.8" r="9.0"/>
<circle cx="1192.8" cy="911.8" r="9.0"/>
<circle cx="1068.8" cy="918.8" r="9.0"/>
<circle cx="1076.8" cy="918.8" r="9.0"/>
<circle cx="1084.8" cy="918.8" r="9.0"/>
<circle cx="1092.8" cy="918.8" r="9.0"/>
<circle cx="1140.8" cy="918.8" r="9.0"/>
<circle cx="1148.8" cy="918.8" r="9.0"/>
<circle cx="1156.8" cy="918.8" r="9.0"/>
<circle cx="1164.8" cy="918.8" r="9.0"/>
<circle cx="1172.8" cy="918.8" r="9.0"/>
<circle cx="1180.8" cy="918.8" r="9.0"/>
<circle cx="1188.8" cy="918.8" r="9.0"/>
<circle cx="1228.8" cy="918.8" r="9.0"/>
<circle cx="1072.8" cy="925.7" r="9.0"/>
<circle cx="1080.8" cy="925.7" r="9.0"/>
<circle cx="1088.8" cy="925.7" r="9.0"/>
<circle cx="1096.8" cy="925.7" r="9.0"/>
<circle cx="1136.8" cy="925.7" r="9.0"/>
<circle cx="1144.8" cy="925.7" r="9.0"/>
<circle cx="1152.8" cy="925.7" r="9.0"/>
<circle cx="1160.8" cy="925.7" r="9.0"/>
<circle cx="1168.8" cy="925.7" r="9.0"/>
<circle cx="1176.8" cy="925.7" r="9.0"/>
<circle cx="1224.8" cy="925.7" r="9.0"/>
<circle cx="1068.8" cy="932.6" r="9.0"/>
<circle cx="1076.8" cy="932.6" r="9.0"/>
<circle cx="1084.8" cy="932.6" r="9.0"/>
<circle cx="1092.8" cy="932.6" r="9.0"/>
<circle cx="1100.8" cy="932.6" r="9.0"/>
<circle cx="1108.8" cy="932.6" r="9.0"/>
<circle cx="1140.8" cy="932.6" r="9.0"/>
<circle cx="1148.8" cy="932.6" r="9.0"/>
<circle cx="1172.8" cy="932.6" r="9.0"/>
<circle cx="1220.8" cy="932.6" r="9.0"/>
<circle cx="1056.8" cy="939.5" r="9.0"/>
<circle cx="1064.8" cy="939.5" r="9.0"/>
<circle cx="1072.8" cy="939.5" r="9.0"/>
<circle cx="1080.8" cy="939.5" r="9.0"/>
<circle cx="1088.8" cy="939.5" r="9.0"/>
<circle cx="1096.8" cy="939.5" r="9.0"/>
<circle cx="1104.8" cy="939.5" r="9.0"/>
<circle cx="1112.8" cy="939.5" r="9.0"/>
<circle cx="1136.8" cy="939.5" r="9.0"/>
<circle cx="1144.8" cy="939.5" r="9.0"/>
<circle cx="1176.8" cy="939.5" r="9.0"/>
<circle cx="1052.8" cy="946.5" r="9.0"/>
<circle cx="1060.8" cy="946.5" r="9.0"/>
<circle cx="1068.8" cy="946.5" r="9.0"/>
<circle cx="1084.8" cy="946.5" r="9.0"/>
<circle cx="1092.8" cy="946.5" r="9.0"/>
<circle cx="1100.8" cy="946.5" r="9.0"/>
<circle cx="1108.8" cy="946.5" r="9.0"/>
<circle cx="1116.8" cy="946.5" r="9.0"/>
<circle cx="1124.8" cy="946.5" r="9.0"/>
<circle cx="1132.8" cy="946.5" r="9.0"/>
<circle cx="1140.8" cy="946.5" r="9.0"/>
<circle cx="1148.8" cy="946.5" r="9.0"/>
<circle cx="1172.8" cy="946.5" r="9.0"/>
<circle cx="1180.8" cy="946.5" r="9.0"/>
<circle cx="1212.8" cy="946.5" r="9.0"/>
<circle cx="1220.8" cy="946.5" r="9.0"/>
<circle cx="1292" cy="563.7" r="9.0"/>
<circle cx="1288" cy="564.3" r="9.0"/>
<circle cx="1283.9" cy="564.6" r="9.0"/>
<circle cx="1280.2" cy="566.2" r="9.0"/>
<circle cx="1276.6" cy="568.1" r="9.0"/>
<circle cx="1273.3" cy="570.4" r="9.0"/>
<circle cx="1269.6" cy="572.1" r="9.0"/>
<circle cx="1265.6" cy="572.7" r="9.0"/>
<circle cx="1264" cy="576.2" r="9.0"/>
<circle cx="1266" cy="577.8" r="9.0"/>
<circle cx="1270" cy="577.4" r="9.0"/>
<circle cx="1273.8" cy="578.8" r="9.0"/>
<circle cx="1277" cy="581.3" r="9.0"/>
<circle cx="1279.8" cy="584.3" r="9.0"/>
<circle cx="1283" cy="585.6" r="9.0"/>
<circle cx="1287.1" cy="585.1" r="9.0"/>
<circle cx="1287.3" cy="581.3" r="9.0"/>
<circle cx="1287" cy="577.4" r="9.0"/>
<circle cx="1286.1" cy="573.5" r="9.0"/>
<circle cx="1287.2" cy="569.6" r="9.0"/>
<circle cx="1289.8" cy="566.6" r="9.0"/>
<circle cx="1276" cy="570.6" r="9.0"/>
<circle cx="1284" cy="570.6" r="9.0"/>
<circle cx="1272" cy="577.5" r="9.0"/>
<circle cx="1280" cy="577.5" r="9.0"/>
<circle cx="1284" cy="584.4" r="9.0"/>
<circle cx="1191.9" cy="510" r="9.0"/>
<circle cx="1189.6" cy="513.3" r="9.0"/>
<circle cx="1186.1" cy="515.3" r="9.0"/>
<circle cx="1182.1" cy="515.6" r="9.0"/>
<circle cx="1178.4" cy="514.1" r="9.0"/>
<circle cx="1175.7" cy="511.1" r="9.0"/>
<circle cx="1176.4" cy="513.3" r="9.0"/>
<circle cx="1179.2" cy="516.2" r="9.0"/>
<circle cx="1181.7" cy="519.4" r="9.0"/>
<circle cx="1182.6" cy="523.3" r="9.0"/>
<circle cx="1181.7" cy="527.2" r="9.0"/>
<circle cx="1181.2" cy="530" r="9.0"/>
<circle cx="1182.3" cy="526.1" r="9.0"/>
<circle cx="1184.6" cy="522.9" r="9.0"/>
<circle cx="1186.1" cy="519.1" r="9.0"/>
<circle cx="1188.5" cy="515.9" r="9.0"/>
<circle cx="1192.1" cy="514.1" r="9.0"/>
<circle cx="1195.7" cy="512.8" r="9.0"/>
<circle cx="1196" cy="510" r="9.0"/>
<circle cx="1187.2" cy="516.9" r="9.0"/>
<circle cx="1183.2" cy="523.9" r="9.0"/>
<circle cx="1028.3" cy="948" r="9.0"/>
<circle cx="1031.9" cy="946.1" r="9.0"/>
<circle cx="1034.8" cy="945.4" r="9.0"/>
<circle cx="1032.5" cy="942" r="9.0"/>
<circle cx="1031.2" cy="938.1" r="9.0"/>
<circle cx="1029.9" cy="934.2" r="9.0"/>
<circle cx="1027.4" cy="931.1" r="9.0"/>
<circle cx="1023.9" cy="928.9" r="9.0"/>
<circle cx="1020.5" cy="926.7" r="9.0"/>
<circle cx="1016.8" cy="924.9" r="9.0"/>
<circle cx="1013.8" cy="922.1" r="9.0"/>
<circle cx="1011.7" cy="923.6" r="9.0"/>
<circle cx="1011.2" cy="927.7" r="9.0"/>
<circle cx="1014.1" cy="930.4" r="9.0"/>
<circle cx="1016.7" cy="933.5" r="9.0"/>
<circle cx="1017.7" cy="937.4" r="9.0"/>
<circle cx="1016.9" cy="941.4" r="9.0"/>
<circle cx="1015.8" cy="945.4" r="9.0"/>
<circle cx="1016" cy="948" r="9.0"/>
<circle cx="1020.1" cy="948" r="9.0"/>
<circle cx="1024.2" cy="948" r="9.0"/>
<circle cx="1015.1" cy="928.2" r="9.0"/>
<circle cx="1019.1" cy="935.1" r="9.0"/>
<circle cx="1027.1" cy="935.1" r="9.0"/>
<circle cx="1023.1" cy="942" r="9.0"/>
<circle cx="1031.1" cy="942" r="9.0"/>
<circle cx="1292" cy="663.7" r="9.0"/>
<circle cx="1287.3" cy="663.7" r="9.0"/>
<circle cx="1286.3" cy="666.9" r="9.0"/>
<circle cx="1289.4" cy="667.1" r="9.0"/>
<circle cx="1117.3" cy="651" r="9.0"/>
<circle cx="1117" cy="654.9" r="9.0"/>
<circle cx="1115.6" cy="658.6" r="9.0"/>
<circle cx="1114.2" cy="662.4" r="9.0"/>
<circle cx="1112.8" cy="666.1" r="9.0"/>
<circle cx="1110.4" cy="669.2" r="9.0"/>
<circle cx="1107.3" cy="671.8" r="9.0"/>
<circle cx="1104.2" cy="674.4" r="9.0"/>
<circle cx="1101.2" cy="676.9" r="9.0"/>
<circle cx="1098.1" cy="679.5" r="9.0"/>
<circle cx="1095.1" cy="682.1" r="9.0"/>
<circle cx="1092" cy="684.7" r="9.0"/>
<circle cx="1089.8" cy="687.9" r="9.0"/>
<circle cx="1088.3" cy="691.6" r="9.0"/>
<circle cx="1086.8" cy="695.3" r="9.0"/>
<circle cx="1085.3" cy="699" r="9.0"/>
<circle cx="1083.8" cy="702.8" r="9.0"/>
<circle cx="1082.3" cy="706.5" r="9.0"/>
<circle cx="1080.2" cy="709.9" r="9.0"/>
<circle cx="1078.2" cy="713.3" r="9.0"/>
<circle cx="1076.1" cy="716.8" r="9.0"/>
<circle cx="1074.1" cy="720.2" r="9.0"/>
<circle cx="1072" cy="723.7" r="9.0"/>
<circle cx="1069.9" cy="727.1" r="9.0"/>
<circle cx="1067.9" cy="730.5" r="9.0"/>
<circle cx="1065.8" cy="734" r="9.0"/>
<circle cx="1063.8" cy="737.4" r="9.0"/>
<circle cx="1062.3" cy="741.1" r="9.0"/>
<circle cx="1061.3" cy="745" r="9.0"/>
<circle cx="1060.2" cy="748.8" r="9.0"/>
<circle cx="1059.1" cy="752.7" r="9.0"/>
<circle cx="1058" cy="756.5" r="9.0"/>
<circle cx="1057" cy="760.4" r="9.0"/>
<circle cx="1055.9" cy="764.3" r="9.0"/>
<circle cx="1054.8" cy="768.1" r="9.0"/>
<circle cx="1053.3" cy="771.8" r="9.0"/>
<circle cx="1051.4" cy="775.3" r="9.0"/>
<circle cx="1049.5" cy="778.9" r="9.0"/>
<circle cx="1047.6" cy="782.4" r="9.0"/>
<circle cx="1045.7" cy="785.9" r="9.0"/>
<circle cx="1043.8" cy="789.5" r="9.0"/>
<circle cx="1042.8" cy="793.2" r="9.0"/>
<circle cx="1042.8" cy="797.2" r="9.0"/>
<circle cx="1044" cy="800" r="9.0"/>
<circle cx="1048" cy="800" r="9.0"/>
<circle cx="1052" cy="800" r="9.0"/>
<circle cx="1056" cy="800" r="9.0"/>
<circle cx="1060" cy="800" r="9.0"/>
<circle cx="1064" cy="800" r="9.0"/>
<circle cx="1068" cy="800" r="9.0"/>
<circle cx="1072" cy="800" r="9.0"/>
<circle cx="1076.1" cy="800" r="9.0"/>
<circle cx="1080.1" cy="800" r="9.0"/>
<circle cx="1084.1" cy="800" r="9.0"/>
<circle cx="1088.1" cy="800" r="9.0"/>
<circle cx="1092.1" cy="800" r="9.0"/>
<circle cx="1096.1" cy="800" r="9.0"/>
<circle cx="1100.1" cy="800" r="9.0"/>
<circle cx="1104.1" cy="800" r="9.0"/>
<circle cx="1108.1" cy="800" r="9.0"/>
<circle cx="1112.1" cy="800" r="9.0"/>
<circle cx="1116.1" cy="800" r="9.0"/>
<circle cx="1120.1" cy="800" r="9.0"/>
<circle cx="1124.1" cy="800" r="9.0"/>
<circle cx="1128.1" cy="800" r="9.0"/>
<circle cx="1132.1" cy="800" r="9.0"/>
<circle cx="1136.1" cy="800" r="9.0"/>
<circle cx="1140.2" cy="800" r="9.0"/>
<circle cx="1144" cy="799.8" r="9.0"/>
<circle cx="1144" cy="795.8" r="9.0"/>
<circle cx="1144" cy="791.8" r="9.0"/>
<circle cx="1144" cy="787.8" r="9.0"/>
<circle cx="1144" cy="783.8" r="9.0"/>
<circle cx="1144" cy="779.8" r="9.0"/>
<circle cx="1144" cy="775.8" r="9.0"/>
<circle cx="1144" cy="771.8" r="9.0"/>
<circle cx="1144" cy="767.8" r="9.0"/>
<circle cx="1144" cy="763.8" r="9.0"/>
<circle cx="1144" cy="759.8" r="9.0"/>
<circle cx="1144" cy="755.7" r="9.0"/>
<circle cx="1144" cy="751.7" r="9.0"/>
<circle cx="1144" cy="747.7" r="9.0"/>
<circle cx="1144" cy="743.7" r="9.0"/>
<circle cx="1144" cy="739.7" r="9.0"/>
<circle cx="1144" cy="735.7" r="9.0"/>
<circle cx="1144" cy="731.7" r="9.0"/>
<circle cx="1144" cy="727.7" r="9.0"/>
<circle cx="1144" cy="723.7" r="9.0"/>
<circle cx="1144" cy="719.7" r="9.0"/>
<circle cx="1144" cy="715.7" r="9.0"/>
<circle cx="1144" cy="711.7" r="9.0"/>
<circle cx="1144" cy="707.7" r="9.0"/>
<circle cx="1144" cy="703.7" r="9.0"/>
<circle cx="1144" cy="699.7" r="9.0"/>
<circle cx="1144" cy="695.7" r="9.0"/>
<circle cx="1144" cy="691.6" r="9.0"/>
<circle cx="1144" cy="687.6" r="9.0"/>
<circle cx="1144" cy="683.6" r="9.0"/>
<circle cx="1144" cy="679.6" r="9.0"/>
<circle cx="1144" cy="675.6" r="9.0"/>
<circle cx="1144" cy="671.6" r="9.0"/>
<circle cx="1144" cy="667.6" r="9.0"/>
<circle cx="1143.6" cy="663.8" r="9.0"/>
<circle cx="1140.4" cy="661.5" r="9.0"/>
<circle cx="1138.6" cy="658" r="9.0"/>
<circle cx="1138.4" cy="654" r="9.0"/>
<circle cx="1138.3" cy="650.1" r="9.0"/>
<circle cx="1138.3" cy="646" r="9.0"/>
<circle cx="1138.3" cy="642" r="9.0"/>
<circle cx="1138.3" cy="638" r="9.0"/>
<circle cx="1139.6" cy="634.3" r="9.0"/>
<circle cx="1142.4" cy="631.4" r="9.0"/>
<circle cx="1144" cy="628.4" r="9.0"/>
<circle cx="1144" cy="624.4" r="9.0"/>
<circle cx="1144" cy="620.4" r="9.0"/>
<circle cx="1144" cy="616.4" r="9.0"/>
<circle cx="1144" cy="612.4" r="9.0"/>
<circle cx="1143.5" cy="608.9" r="9.0"/>
<circle cx="1139.5" cy="608.9" r="9.0"/>
<circle cx="1135.5" cy="608.9" r="9.0"/>
<circle cx="1131.5" cy="608.9" r="9.0"/>
<circle cx="1128.1" cy="610.8" r="9.0"/>
<circle cx="1124.9" cy="613.2" r="9.0"/>
<circle cx="1121.7" cy="615.6" r="9.0"/>
<circle cx="1118.6" cy="618" r="9.0"/>
<circle cx="1116.6" cy="621.5" r="9.0"/>
<circle cx="1114.5" cy="625" r="9.0"/>
<circle cx="1112.5" cy="628.4" r="9.0"/>
<circle cx="1110.5" cy="631.9" r="9.0"/>
<circle cx="1108.5" cy="635.4" r="9.0"/>
<circle cx="1106.9" cy="638.8" r="9.0"/>
<circle cx="1109.5" cy="641.8" r="9.0"/>
<circle cx="1112.1" cy="644.9" r="9.0"/>
<circle cx="1114.7" cy="647.9" r="9.0"/>
<circle cx="1101" cy="790.7" r="9.0"/>
<circle cx="1097.5" cy="788.7" r="9.0"/>
<circle cx="1095.2" cy="785.4" r="9.0"/>
<circle cx="1093.5" cy="781.8" r="9.0"/>
<circle cx="1091.9" cy="778.1" r="9.0"/>
<circle cx="1091" cy="774.2" r="9.0"/>
<circle cx="1092" cy="770.3" r="9.0"/>
<circle cx="1094.6" cy="767.3" r="9.0"/>
<circle cx="1098.1" cy="765.2" r="9.0"/>
<circle cx="1101.8" cy="763.7" r="9.0"/>
<circle cx="1105.8" cy="764.1" r="9.0"/>
<circle cx="1109.2" cy="766.2" r="9.0"/>
<circle cx="1111.5" cy="769.6" r="9.0"/>
<circle cx="1113.6" cy="773" r="9.0"/>
<circle cx="1115.7" cy="776.5" r="9.0"/>
<circle cx="1116.7" cy="780.4" r="9.0"/>
<circle cx="1116.7" cy="784.4" r="9.0"/>
<circle cx="1115.5" cy="788.2" r="9.0"/>
<circle cx="1112.6" cy="791" r="9.0"/>
<circle cx="1108.8" cy="792.3" r="9.0"/>
<circle cx="1104.9" cy="791.8" r="9.0"/>
<circle cx="1126.8" cy="615.8" r="9.0"/>
<circle cx="1134.8" cy="615.8" r="9.0"/>
<circle cx="1142.8" cy="615.8" r="9.0"/>
<circle cx="1122.8" cy="622.7" r="9.0"/>
<circle cx="1130.8" cy="622.7" r="9.0"/>
<circle cx="1138.8" cy="622.7" r="9.0"/>
<circle cx="1118.8" cy="629.7" r="9.0"/>
<circle cx="1126.8" cy="629.7" r="9.0"/>
<circle cx="1134.8" cy="629.7" r="9.0"/>
<circle cx="1142.8" cy="629.7" r="9.0"/>
<circle cx="1114.8" cy="636.6" r="9.0"/>
<circle cx="1122.8" cy="636.6" r="9.0"/>
<circle cx="1130.8" cy="636.6" r="9.0"/>
<circle cx="1118.8" cy="643.5" r="9.0"/>
<circle cx="1126.8" cy="643.5" r="9.0"/>
<circle cx="1134.8" cy="643.5" r="9.0"/>
<circle cx="1122.8" cy="650.5" r="9.0"/>
<circle cx="1130.8" cy="650.5" r="9.0"/>
<circle cx="1118.8" cy="657.4" r="9.0"/>
<circle cx="1126.8" cy="657.4" r="9.0"/>
<circle cx="1134.8" cy="657.4" r="9.0"/>
<circle cx="1114.8" cy="664.3" r="9.0"/>
<circle cx="1122.8" cy="664.3" r="9.0"/>
<circle cx="1130.8" cy="664.3" r="9.0"/>
<circle cx="1138.8" cy="664.3" r="9.0"/>
<circle cx="1110.8" cy="671.2" r="9.0"/>
<circle cx="1118.8" cy="671.2" r="9.0"/>
<circle cx="1126.8" cy="671.2" r="9.0"/>
<circle cx="1134.8" cy="671.2" r="9.0"/>
<circle cx="1142.8" cy="671.2" r="9.0"/>
<circle cx="1106.8" cy="678.2" r="9.0"/>
<circle cx="1114.8" cy="678.2" r="9.0"/>
<circle cx="1122.8" cy="678.2" r="9.0"/>
<circle cx="1130.8" cy="678.2" r="9.0"/>
<circle cx="1138.8" cy="678.2" r="9.0"/>
<circle cx="1094.8" cy="685.1" r="9.0"/>
<circle cx="1102.8" cy="685.1" r="9.0"/>
<circle cx="1110.8" cy="685.1" r="9.0"/>
<circle cx="1118.8" cy="685.1" r="9.0"/>
<circle cx="1126.8" cy="685.1" r="9.0"/>
<circle cx="1134.8" cy="685.1" r="9.0"/>
<circle cx="1142.8" cy="685.1" r="9.0"/>
<circle cx="1090.8" cy="692" r="9.0"/>
<circle cx="1098.8" cy="692" r="9.0"/>
<circle cx="1106.8" cy="692" r="9.0"/>
<circle cx="1114.8" cy="692" r="9.0"/>
<circle cx="1122.8" cy="692" r="9.0"/>
<circle cx="1130.8" cy="692" r="9.0"/>
<circle cx="1138.8" cy="692" r="9.0"/>
<circle cx="1086.8" cy="698.9" r="9.0"/>
<circle cx="1094.8" cy="698.9" r="9.0"/>
<circle cx="1102.8" cy="698.9" r="9.0"/>
<circle cx="1110.8" cy="698.9" r="9.0"/>
<circle cx="1118.8" cy="698.9" r="9.0"/>
<circle cx="1126.8" cy="698.9" r="9.0"/>
<circle cx="1134.8" cy="698.9" r="9.0"/>
<circle cx="1142.8" cy="698.9" r="9.0"/>
<circle cx="1082.8" cy="705.9" r="9.0"/>
<circle cx="1090.8" cy="705.9" r="9.0"/>
<circle cx="1098.8" cy="705.9" r="9.0"/>
<circle cx="1106.8" cy="705.9" r="9.0"/>
<circle cx="1114.8" cy="705.9" r="9.0"/>
<circle cx="1122.8" cy="705.9" r="9.0"/>
<circle cx="1130.8" cy="705.9" r="9.0"/>
<circle cx="1138.8" cy="705.9" r="9.0"/>
<circle cx="1078.8" cy="712.8" r="9.0"/>
<circle cx="1086.8" cy="712.8" r="9.0"/>
<circle cx="1094.8" cy="712.8" r="9.0"/>
<circle cx="1102.8" cy="712.8" r="9.0"/>
<circle cx="1110.8" cy="712.8" r="9.0"/>
<circle cx="1118.8" cy="712.8" r="9.0"/>
<circle cx="1126.8" cy="712.8" r="9.0"/>
<circle cx="1134.8" cy="712.8" r="9.0"/>
<circle cx="1142.8" cy="712.8" r="9.0"/>
<circle cx="1074.8" cy="719.7" r="9.0"/>
<circle cx="1082.8" cy="719.7" r="9.0"/>
<circle cx="1090.8" cy="719.7" r="9.0"/>
<circle cx="1098.8" cy="719.7" r="9.0"/>
<circle cx="1106.8" cy="719.7" r="9.0"/>
<circle cx="1114.8" cy="719.7" r="9.0"/>
<circle cx="1122.8" cy="719.7" r="9.0"/>
<circle cx="1130.8" cy="719.7" r="9.0"/>
<circle cx="1138.8" cy="719.7" r="9.0"/>
<circle cx="1070.8" cy="726.7" r="9.0"/>
<circle cx="1078.8" cy="726.7" r="9.0"/>
<circle cx="1086.8" cy="726.7" r="9.0"/>
<circle cx="1094.8" cy="726.7" r="9.0"/>
<circle cx="1102.8" cy="726.7" r="9.0"/>
<circle cx="1110.8" cy="726.7" r="9.0"/>
<circle cx="1118.8" cy="726.7" r="9.0"/>
<circle cx="1126.8" cy="726.7" r="9.0"/>
<circle cx="1134.8" cy="726.7" r="9.0"/>
<circle cx="1142.8" cy="726.7" r="9.0"/>
<circle cx="1066.8" cy="733.6" r="9.0"/>
<circle cx="1074.8" cy="733.6" r="9.0"/>
<circle cx="1082.8" cy="733.6" r="9.0"/>
<circle cx="1090.8" cy="733.6" r="9.0"/>
<circle cx="1098.8" cy="733.6" r="9.0"/>
<circle cx="1106.8" cy="733.6" r="9.0"/>
<circle cx="1114.8" cy="733.6" r="9.0"/>
<circle cx="1122.8" cy="733.6" r="9.0"/>
<circle cx="1130.8" cy="733.6" r="9.0"/>
<circle cx="1138.8" cy="733.6" r="9.0"/>
<circle cx="1062.8" cy="740.5" r="9.0"/>
<circle cx="1070.8" cy="740.5" r="9.0"/>
<circle cx="1078.8" cy="740.5" r="9.0"/>
<circle cx="1086.8" cy="740.5" r="9.0"/>
<circle cx="1094.8" cy="740.5" r="9.0"/>
<circle cx="1102.8" cy="740.5" r="9.0"/>
<circle cx="1110.8" cy="740.5" r="9.0"/>
<circle cx="1118.8" cy="740.5" r="9.0"/>
<circle cx="1126.8" cy="740.5" r="9.0"/>
<circle cx="1134.8" cy="740.5" r="9.0"/>
<circle cx="1142.8" cy="740.5" r="9.0"/>
<circle cx="1066.8" cy="747.4" r="9.0"/>
<circle cx="1074.8" cy="747.4" r="9.0"/>
<circle cx="1082.8" cy="747.4" r="9.0"/>
<circle cx="1090.8" cy="747.4" r="9.0"/>
<circle cx="1098.8" cy="747.4" r="9.0"/>
<circle cx="1106.8" cy="747.4" r="9.0"/>
<circle cx="1114.8" cy="747.4" r="9.0"/>
<circle cx="1122.8" cy="747.4" r="9.0"/>
<circle cx="1130.8" cy="747.4" r="9.0"/>
<circle cx="1138.8" cy="747.4" r="9.0"/>
<circle cx="1062.8" cy="754.4" r="9.0"/>
<circle cx="1070.8" cy="754.4" r="9.0"/>
<circle cx="1078.8" cy="754.4" r="9.0"/>
<circle cx="1086.8" cy="754.4" r="9.0"/>
<circle cx="1094.8" cy="754.4" r="9.0"/>
<circle cx="1102.8" cy="754.4" r="9.0"/>
<circle cx="1110.8" cy="754.4" r="9.0"/>
<circle cx="1118.8" cy="754.4" r="9.0"/>
<circle cx="1126.8" cy="754.4" r="9.0"/>
<circle cx="1134.8" cy="754.4" r="9.0"/>
<circle cx="1142.8" cy="754.4" r="9.0"/>
<circle cx="1058.8" cy="761.3" r="9.0"/>
<circle cx="1066.8" cy="761.3" r="9.0"/>
<circle cx="1074.8" cy="761.3" r="9.0"/>
<circle cx="1082.8" cy="761.3" r="9.0"/>
<circle cx="1090.8" cy="761.3" r="9.0"/>
<circle cx="1098.8" cy="761.3" r="9.0"/>
<circle cx="1106.8" cy="761.3" r="9.0"/>
<circle cx="1114.8" cy="761.3" r="9.0"/>
<circle cx="1122.8" cy="761.3" r="9.0"/>
<circle cx="1130.8" cy="761.3" r="9.0"/>
<circle cx="1138.8" cy="761.3" r="9.0"/>
<circle cx="1054.8" cy="768.2" r="9.0"/>
<circle cx="1062.8" cy="768.2" r="9.0"/>
<circle cx="1070.8" cy="768.2" r="9.0"/>
<circle cx="1078.8" cy="768.2" r="9.0"/>
<circle cx="1086.8" cy="768.2" r="9.0"/>
<circle cx="1110.8" cy="768.2" r="9.0"/>
<circle cx="1118.8" cy="768.2" r="9.0"/>
<circle cx="1126.8" cy="768.2" r="9.0"/>
<circle cx="1134.8" cy="768.2" r="9.0"/>
<circle cx="1142.8" cy="768.2" r="9.0"/>
<circle cx="1058.8" cy="775.2" r="9.0"/>
<circle cx="1066.8" cy="775.2" r="9.0"/>
<circle cx="1074.8" cy="775.2" r="9.0"/>
<circle cx="1082.8" cy="775.2" r="9.0"/>
<circle cx="1090.8" cy="775.2" r="9.0"/>
<circle cx="1122.8" cy="775.2" r="9.0"/>
<circle cx="1130.8" cy="775.2" r="9.0"/>
<circle cx="1138.8" cy="775.2" r="9.0"/>
<circle cx="1054.8" cy="782.1" r="9.0"/>
<circle cx="1062.8" cy="782.1" r="9.0"/>
<circle cx="1070.8" cy="782.1" r="9.0"/>
<circle cx="1078.8" cy="782.1" r="9.0"/>
<circle cx="1086.8" cy="782.1" r="9.0"/>
<circle cx="1118.8" cy="782.1" r="9.0"/>
<circle cx="1126.8" cy="782.1" r="9.0"/>
<circle cx="1134.8" cy="782.1" r="9.0"/>
<circle cx="1142.8" cy="782.1" r="9.0"/>
<circle cx="1050.8" cy="789" r="9.0"/>
<circle cx="1058.8" cy="789" r="9.0"/>
<circle cx="1066.8" cy="789" r="9.0"/>
<circle cx="1074.8" cy="789" r="9.0"/>
<circle cx="1082.8" cy="789" r="9.0"/>
<circle cx="1090.8" cy="789" r="9.0"/>
<circle cx="1122.8" cy="789" r="9.0"/>
<circle cx="1130.8" cy="789" r="9.0"/>
<circle cx="1138.8" cy="789" r="9.0"/>
<circle cx="1046.8" cy="795.9" r="9.0"/>
<circle cx="1054.8" cy="795.9" r="9.0"/>
<circle cx="1062.8" cy="795.9" r="9.0"/>
<circle cx="1070.8" cy="795.9" r="9.0"/>
<circle cx="1078.8" cy="795.9" r="9.0"/>
<circle cx="1086.8" cy="795.9" r="9.0"/>
<circle cx="1094.8" cy="795.9" r="9.0"/>
<circle cx="1102.8" cy="795.9" r="9.0"/>
<circle cx="1110.8" cy="795.9" r="9.0"/>
<circle cx="1118.8" cy="795.9" r="9.0"/>
<circle cx="1126.8" cy="795.9" r="9.0"/>
<circle cx="1134.8" cy="795.9" r="9.0"/>
<circle cx="1142.8" cy="795.9" r="9.0"/>
<circle cx="1145" cy="992" r="9.0"/>
<circle cx="1143.3" cy="989.1" r="9.0"/>
<circle cx="1140.1" cy="986.6" r="9.0"/>
<circle cx="1138.5" cy="982.9" r="9.0"/>
<circle cx="1138.3" cy="978.8" r="9.0"/>
<circle cx="1139.2" cy="974.9" r="9.0"/>
<circle cx="1141.8" cy="971.8" r="9.0"/>
<circle cx="1145" cy="969.8" r="9.0"/>
<circle cx="1145" cy="965.7" r="9.0"/>
<circle cx="1145" cy="961.6" r="9.0"/>
<circle cx="1145" cy="957.5" r="9.0"/>
<circle cx="1143.4" cy="955" r="9.0"/>
<circle cx="1139.3" cy="955.1" r="9.0"/>
<circle cx="1135.3" cy="955.1" r="9.0"/>
<circle cx="1131.2" cy="955.2" r="9.0"/>
<circle cx="1127.1" cy="955.2" r="9.0"/>
<circle cx="1123" cy="955.3" r="9.0"/>
<circle cx="1119" cy="955.3" r="9.0"/>
<circle cx="1114.9" cy="955.4" r="9.0"/>
<circle cx="1110.8" cy="955.4" r="9.0"/>
<circle cx="1106.7" cy="955.4" r="9.0"/>
<circle cx="1106.4" cy="958" r="9.0"/>
<circle cx="1106.4" cy="962" r="9.0"/>
<circle cx="1105.2" cy="965.9" r="9.0"/>
<circle cx="1103.8" cy="969.8" r="9.0"/>
<circle cx="1102.2" cy="973.5" r="9.0"/>
<circle cx="1100.4" cy="977.2" r="9.0"/>
<circle cx="1100" cy="981" r="9.0"/>
<circle cx="1100.7" cy="984.8" r="9.0"/>
<circle cx="1104.7" cy="985.8" r="9.0"/>
<circle cx="1108.6" cy="986.7" r="9.0"/>
<circle cx="1112.7" cy="987.3" r="9.0"/>
<circle cx="1111.8" cy="984" r="9.0"/>
<circle cx="1110.7" cy="980" r="9.0"/>
<circle cx="1111" cy="976" r="9.0"/>
<circle cx="1113.1" cy="972.6" r="9.0"/>
<circle cx="1116.4" cy="970.2" r="9.0"/>
<circle cx="1120.1" cy="968.5" r="9.0"/>
<circle cx="1124.1" cy="968.7" r="9.0"/>
<circle cx="1127.7" cy="970.7" r="9.0"/>
<circle cx="1129.9" cy="974" r="9.0"/>
<circle cx="1130.7" cy="978" r="9.0"/>
<circle cx="1131.2" cy="982" r="9.0"/>
<circle cx="1131" cy="986.1" r="9.0"/>
<circle cx="1129" cy="989.6" r="9.0"/>
<circle cx="1132.9" cy="990.2" r="9.0"/>
<circle cx="1136.9" cy="990.8" r="9.0"/>
<circle cx="1141" cy="991.3" r="9.0"/>
<circle cx="1111.7" cy="962" r="9.0"/>
<circle cx="1119.7" cy="962" r="9.0"/>
<circle cx="1127.7" cy="962" r="9.0"/>
<circle cx="1135.7" cy="962" r="9.0"/>
<circle cx="1143.7" cy="962" r="9.0"/>
<circle cx="1107.7" cy="968.9" r="9.0"/>
<circle cx="1115.7" cy="968.9" r="9.0"/>
<circle cx="1131.7" cy="968.9" r="9.0"/>
<circle cx="1139.7" cy="968.9" r="9.0"/>
<circle cx="1103.7" cy="975.8" r="9.0"/>
<circle cx="1135.7" cy="975.8" r="9.0"/>
<circle cx="1107.7" cy="982.7" r="9.0"/>
<circle cx="1131.7" cy="982.7" r="9.0"/>
<circle cx="1135.7" cy="989.7" r="9.0"/>
<circle cx="1143.7" cy="989.7" r="9.0"/>
<circle cx="1003.7" cy="997.8" r="9.0"/>
<circle cx="1006.8" cy="995.5" r="9.0"/>
<circle cx="1010.5" cy="994.1" r="9.0"/>
<circle cx="1014.3" cy="992.7" r="9.0"/>
<circle cx="1018.1" cy="993.3" r="9.0"/>
<circle cx="1021.6" cy="995.2" r="9.0"/>
<circle cx="1025.1" cy="997.1" r="9.0"/>
<circle cx="1024.4" cy="993.5" r="9.0"/>
<circle cx="1023.7" cy="989.5" r="9.0"/>
<circle cx="1024.3" cy="985.6" r="9.0"/>
<circle cx="1026.6" cy="982.3" r="9.0"/>
<circle cx="1023.1" cy="982.4" r="9.0"/>
<circle cx="1019.2" cy="982.2" r="9.0"/>
<circle cx="1015.2" cy="982.7" r="9.0"/>
<circle cx="1011.2" cy="983.1" r="9.0"/>
<circle cx="1007.2" cy="983.3" r="9.0"/>
<circle cx="1004.8" cy="980.5" r="9.0"/>
<circle cx="1002" cy="978.3" r="9.0"/>
<circle cx="1002" cy="982.3" r="9.0"/>
<circle cx="1002" cy="986.3" r="9.0"/>
<circle cx="1002" cy="990.3" r="9.0"/>
<circle cx="1002" cy="994.3" r="9.0"/>
<circle cx="1002" cy="998.3" r="9.0"/>
<circle cx="1002" cy="1002.3" r="9.0"/>
<circle cx="1002" cy="1006.3" r="9.0"/>
<circle cx="1002" cy="1010.3" r="9.0"/>
<circle cx="1002" cy="1014.3" r="9.0"/>
<circle cx="1002.8" cy="1013.8" r="9.0"/>
<circle cx="1003" cy="1009.8" r="9.0"/>
<circle cx="1003.2" cy="1005.7" r="9.0"/>
<circle cx="1003.4" cy="1001.7" r="9.0"/>
<circle cx="1006" cy="985.1" r="9.0"/>
<circle cx="1014" cy="985.1" r="9.0"/>
<circle cx="1022" cy="985.1" r="9.0"/>
<circle cx="1010" cy="992" r="9.0"/>
<circle cx="1018" cy="992" r="9.0"/>
<circle cx="1006.9" cy="960.7" r="9.0"/>
<circle cx="1009.5" cy="957.9" r="9.0"/>
<circle cx="1013" cy="955.9" r="9.0"/>
<circle cx="1010.8" cy="955" r="9.0"/>
<circle cx="1007.9" cy="956.9" r="9.0"/>
<circle cx="1004.9" cy="959.6" r="9.0"/>
<circle cx="1002" cy="961.7" r="9.0"/>
<circle cx="1002" cy="965.8" r="9.0"/>
<circle cx="1005.3" cy="963.8" r="9.0"/>
<circle cx="1006" cy="961.9" r="9.0"/>
<circle cx="1142" cy="1006.6" r="9.0"/>
<circle cx="1138.3" cy="1008.5" r="9.0"/>
<circle cx="1134.6" cy="1010.3" r="9.0"/>
<circle cx="1135.6" cy="1012.6" r="9.0"/>
<circle cx="1138.3" cy="1013.4" r="9.0"/>
<circle cx="1139.4" cy="1009.5" r="9.0"/>
<circle cx="1137.4" cy="1013.5" r="9.0"/>
<circle cx="1192" cy="1060.9" r="9.0"/>
<circle cx="1188.4" cy="1059" r="9.0"/>
<circle cx="1184.8" cy="1057.1" r="9.0"/>
<circle cx="1181.3" cy="1055.1" r="9.0"/>
<circle cx="1177.7" cy="1053.2" r="9.0"/>
<circle cx="1174.7" cy="1051.8" r="9.0"/>
<circle cx="1175.3" cy="1055.8" r="9.0"/>
<circle cx="1174.6" cy="1059.8" r="9.0"/>
<circle cx="1172.2" cy="1063" r="9.0"/>
<circle cx="1168.6" cy="1064.9" r="9.0"/>
<circle cx="1164.6" cy="1065.1" r="9.0"/>
<circle cx="1160.5" cy="1065.1" r="9.0"/>
<circle cx="1156.6" cy="1064" r="9.0"/>
<circle cx="1155.8" cy="1066.8" r="9.0"/>
<circle cx="1155.8" cy="1070.8" r="9.0"/>
<circle cx="1155.8" cy="1074.9" r="9.0"/>
<circle cx="1156.7" cy="1078.8" r="9.0"/>
<circle cx="1158.3" cy="1082.6" r="9.0"/>
<circle cx="1160.1" cy="1084.5" r="9.0"/>
<circle cx="1162.5" cy="1081.2" r="9.0"/>
<circle cx="1164.9" cy="1077.9" r="9.0"/>
<circle cx="1167.3" cy="1074.6" r="9.0"/>
<circle cx="1169.7" cy="1071.3" r="9.0"/>
<circle cx="1173.3" cy="1069.7" r="9.0"/>
<circle cx="1177.2" cy="1068.6" r="9.0"/>
<circle cx="1181.1" cy="1067.5" r="9.0"/>
<circle cx="1185.1" cy="1066.4" r="9.0"/>
<circle cx="1188.8" cy="1064.8" r="9.0"/>
<circle cx="1192.5" cy="1063.1" r="9.0"/>
<circle cx="1196.1" cy="1061.5" r="9.0"/>
<circle cx="1175.8" cy="1058.3" r="9.0"/>
<circle cx="1183.8" cy="1058.3" r="9.0"/>
<circle cx="1163.8" cy="1065.3" r="9.0"/>
<circle cx="1171.8" cy="1065.3" r="9.0"/>
<circle cx="1179.8" cy="1065.3" r="9.0"/>
<circle cx="1187.8" cy="1065.3" r="9.0"/>
<circle cx="1159.8" cy="1072.2" r="9.0"/>
<circle cx="1167.8" cy="1072.2" r="9.0"/>
<circle cx="1163.8" cy="1079.1" r="9.0"/>
<circle cx="1171.6" cy="1047.7" r="9.0"/>
<circle cx="1173.7" cy="1044.4" r="9.0"/>
<circle cx="1176.3" cy="1041.3" r="9.0"/>
<circle cx="1178.9" cy="1038.2" r="9.0"/>
<circle cx="1181.6" cy="1035.1" r="9.0"/>
<circle cx="1179.6" cy="1032" r="9.0"/>
<circle cx="1177" cy="1029" r="9.0"/>
<circle cx="1174.4" cy="1025.9" r="9.0"/>
<circle cx="1171.8" cy="1022.8" r="9.0"/>
<circle cx="1171.1" cy="1019.1" r="9.0"/>
<circle cx="1173" cy="1015.6" r="9.0"/>
<circle cx="1175" cy="1012" r="9.0"/>
<circle cx="1177" cy="1008.5" r="9.0"/>
<circle cx="1177.9" cy="1004.9" r="9.0"/>
<circle cx="1176.4" cy="1001.2" r="9.0"/>
<circle cx="1174.8" cy="997.4" r="9.0"/>
<circle cx="1173.3" cy="993.7" r="9.0"/>
<circle cx="1171.8" cy="989.9" r="9.0"/>
<circle cx="1169.7" cy="987.3" r="9.0"/>
<circle cx="1166.1" cy="985.4" r="9.0"/>
<circle cx="1163.2" cy="982.7" r="9.0"/>
<circle cx="1161.8" cy="979" r="9.0"/>
<circle cx="1162" cy="974.9" r="9.0"/>
<circle cx="1162.7" cy="971" r="9.0"/>
<circle cx="1165" cy="967.7" r="9.0"/>
<circle cx="1168.5" cy="965.8" r="9.0"/>
<circle cx="1172.5" cy="965.6" r="9.0"/>
<circle cx="1175.2" cy="965.2" r="9.0"/>
<circle cx="1177.3" cy="962" r="9.0"/>
<circle cx="1180.6" cy="959.7" r="9.0"/>
<circle cx="1184" cy="957.4" r="9.0"/>
<circle cx="1182.9" cy="955" r="9.0"/>
<circle cx="1178.9" cy="955" r="9.0"/>
<circle cx="1174.8" cy="955" r="9.0"/>
<circle cx="1170.8" cy="955" r="9.0"/>
<circle cx="1168.5" cy="958.2" r="9.0"/>
<circle cx="1165.1" cy="960.3" r="9.0"/>
<circle cx="1161.1" cy="960.7" r="9.0"/>
<circle cx="1157.1" cy="960.4" r="9.0"/>
<circle cx="1155.8" cy="962.6" r="9.0"/>
<circle cx="1155.8" cy="966.6" r="9.0"/>
<circle cx="1157" cy="970" r="9.0"/>
<circle cx="1159.7" cy="973" r="9.0"/>
<circle cx="1160.7" cy="976.9" r="9.0"/>
<circle cx="1159.9" cy="980.8" r="9.0"/>
<circle cx="1157.6" cy="984.1" r="9.0"/>
<circle cx="1161" cy="984.4" r="9.0"/>
<circle cx="1164.7" cy="985.9" r="9.0"/>
<circle cx="1168.4" cy="987.6" r="9.0"/>
<circle cx="1171.5" cy="990.2" r="9.0"/>
<circle cx="1173.1" cy="993.9" r="9.0"/>
<circle cx="1172.9" cy="997.9" r="9.0"/>
<circle cx="1171.2" cy="1001.5" r="9.0"/>
<circle cx="1170.8" cy="1005.5" r="9.0"/>
<circle cx="1169.8" cy="1009.4" r="9.0"/>
<circle cx="1167.2" cy="1012.5" r="9.0"/>
<circle cx="1163.7" cy="1014.5" r="9.0"/>
<circle cx="1161.2" cy="1017.3" r="9.0"/>
<circle cx="1164.1" cy="1019.2" r="9.0"/>
<circle cx="1167.6" cy="1021.2" r="9.0"/>
<circle cx="1170.8" cy="1023.7" r="9.0"/>
<circle cx="1172.6" cy="1027.2" r="9.0"/>
<circle cx="1172.6" cy="1031.2" r="9.0"/>
<circle cx="1170.8" cy="1034.8" r="9.0"/>
<circle cx="1167.6" cy="1037.3" r="9.0"/>
<circle cx="1165.5" cy="1040.6" r="9.0"/>
<circle cx="1162.1" cy="1042.8" r="9.0"/>
<circle cx="1158.2" cy="1043.3" r="9.0"/>
<circle cx="1155.8" cy="1044.4" r="9.0"/>
<circle cx="1156.2" cy="1047.8" r="9.0"/>
<circle cx="1160" cy="1046.5" r="9.0"/>
<circle cx="1164.1" cy="1046.4" r="9.0"/>
<circle cx="1168.1" cy="1046.6" r="9.0"/>
<circle cx="1159.8" cy="961.9" r="9.0"/>
<circle cx="1167.8" cy="961.9" r="9.0"/>
<circle cx="1175.8" cy="961.9" r="9.0"/>
<circle cx="1163.8" cy="968.9" r="9.0"/>
<circle cx="1175.8" cy="1003.5" r="9.0"/>
<circle cx="1171.8" cy="1010.4" r="9.0"/>
<circle cx="1167.8" cy="1017.4" r="9.0"/>
<circle cx="1171.8" cy="1024.3" r="9.0"/>
<circle cx="1175.8" cy="1031.2" r="9.0"/>
<circle cx="1171.8" cy="1038.1" r="9.0"/>
<circle cx="1159.8" cy="1045.1" r="9.0"/>
<circle cx="1167.8" cy="1045.1" r="9.0"/>
<circle cx="1421.2" cy="451.6" r="9.0"/>
<circle cx="1418" cy="454.2" r="9.0"/>
<circle cx="1414.9" cy="456.7" r="9.0"/>
<circle cx="1414.1" cy="460.6" r="9.0"/>
<circle cx="1413.6" cy="464.6" r="9.0"/>
<circle cx="1414.1" cy="468.2" r="9.0"/>
<circle cx="1417.2" cy="470.9" r="9.0"/>
<circle cx="1420.2" cy="473.5" r="9.0"/>
<circle cx="1423.4" cy="476" r="9.0"/>
<circle cx="1427.4" cy="476.8" r="9.0"/>
<circle cx="1431.4" cy="477.6" r="9.0"/>
<circle cx="1435.3" cy="478.4" r="9.0"/>
<circle cx="1439.3" cy="479" r="9.0"/>
<circle cx="1441" cy="476.6" r="9.0"/>
<circle cx="1441" cy="472.6" r="9.0"/>
<circle cx="1441" cy="468.5" r="9.0"/>
<circle cx="1441" cy="464.4" r="9.0"/>
<circle cx="1441" cy="460.4" r="9.0"/>
<circle cx="1441" cy="456.3" r="9.0"/>
<circle cx="1440.9" cy="452.3" r="9.0"/>
<circle cx="1437.2" cy="450.6" r="9.0"/>
<circle cx="1433.3" cy="450.4" r="9.0"/>
<circle cx="1429.3" cy="450.8" r="9.0"/>
<circle cx="1425.2" cy="451.2" r="9.0"/>
<circle cx="1417.2" cy="457" r="9.0"/>
<circle cx="1425.2" cy="457" r="9.0"/>
<circle cx="1433.2" cy="457" r="9.0"/>
<circle cx="1421.2" cy="464" r="9.0"/>
<circle cx="1429.2" cy="464" r="9.0"/>
<circle cx="1437.2" cy="464" r="9.0"/>
<circle cx="1425.2" cy="470.9" r="9.0"/>
<circle cx="1433.2" cy="470.9" r="9.0"/>
<circle cx="1437.2" cy="477.8" r="9.0"/>
<circle cx="1255.1" cy="477.8" r="9.0"/>
<circle cx="1252.1" cy="475.1" r="9.0"/>
<circle cx="1249" cy="472.5" r="9.0"/>
<circle cx="1246" cy="469.8" r="9.0"/>
<circle cx="1242.9" cy="467.1" r="9.0"/>
<circle cx="1240.3" cy="464.1" r="9.0"/>
<circle cx="1238.2" cy="460.6" r="9.0"/>
<circle cx="1236" cy="457.2" r="9.0"/>
<circle cx="1233.9" cy="453.7" r="9.0"/>
<circle cx="1231.4" cy="451.5" r="9.0"/>
<circle cx="1227.7" cy="453" r="9.0"/>
<circle cx="1223.9" cy="454.5" r="9.0"/>
<circle cx="1220.1" cy="456" r="9.0"/>
<circle cx="1216.4" cy="457.5" r="9.0"/>
<circle cx="1212.6" cy="459.1" r="9.0"/>
<circle cx="1208.9" cy="460.6" r="9.0"/>
<circle cx="1206" cy="462.9" r="9.0"/>
<circle cx="1205.3" cy="466.9" r="9.0"/>
<circle cx="1204.2" cy="470.7" r="9.0"/>
<circle cx="1201.4" cy="473.7" r="9.0"/>
<circle cx="1198.7" cy="476.6" r="9.0"/>
<circle cx="1195.9" cy="479.6" r="9.0"/>
<circle cx="1193.6" cy="482.8" r="9.0"/>
<circle cx="1192.6" cy="486.7" r="9.0"/>
<circle cx="1191.6" cy="490.7" r="9.0"/>
<circle cx="1191.6" cy="494.7" r="9.0"/>
<circle cx="1191.6" cy="498.8" r="9.0"/>
<circle cx="1192.2" cy="502.7" r="9.0"/>
<circle cx="1196.1" cy="503" r="9.0"/>
<circle cx="1200.1" cy="503" r="9.0"/>
<circle cx="1204.2" cy="503" r="9.0"/>
<circle cx="1208.2" cy="503" r="9.0"/>
<circle cx="1212.3" cy="503" r="9.0"/>
<circle cx="1216.3" cy="503" r="9.0"/>
<circle cx="1220.4" cy="503" r="9.0"/>
<circle cx="1224.4" cy="503" r="9.0"/>
<circle cx="1228.5" cy="503" r="9.0"/>
<circle cx="1232.5" cy="503" r="9.0"/>
<circle cx="1236.6" cy="503" r="9.0"/>
<circle cx="1240.6" cy="503" r="9.0"/>
<circle cx="1244.7" cy="503" r="9.0"/>
<circle cx="1248.7" cy="503" r="9.0"/>
<circle cx="1252.8" cy="503" r="9.0"/>
<circle cx="1255.6" cy="501" r="9.0"/>
<circle cx="1258.6" cy="498.3" r="9.0"/>
<circle cx="1262.5" cy="497.3" r="9.0"/>
<circle cx="1266.6" cy="497.3" r="9.0"/>
<circle cx="1268" cy="494.7" r="9.0"/>
<circle cx="1268" cy="490.7" r="9.0"/>
<circle cx="1268" cy="486.6" r="9.0"/>
<circle cx="1265.6" cy="484" r="9.0"/>
<circle cx="1262.1" cy="481.9" r="9.0"/>
<circle cx="1258.6" cy="479.9" r="9.0"/>
<circle cx="1219.6" cy="458" r="9.0"/>
<circle cx="1227.6" cy="458" r="9.0"/>
<circle cx="1235.6" cy="458" r="9.0"/>
<circle cx="1207.6" cy="465" r="9.0"/>
<circle cx="1215.6" cy="465" r="9.0"/>
<circle cx="1223.6" cy="465" r="9.0"/>
<circle cx="1231.6" cy="465" r="9.0"/>
<circle cx="1239.6" cy="465" r="9.0"/>
<circle cx="1203.6" cy="471.9" r="9.0"/>
<circle cx="1211.6" cy="471.9" r="9.0"/>
<circle cx="1219.6" cy="471.9" r="9.0"/>
<circle cx="1227.6" cy="471.9" r="9.0"/>
<circle cx="1235.6" cy="471.9" r="9.0"/>
<circle cx="1243.6" cy="471.9" r="9.0"/>
<circle cx="1199.6" cy="478.8" r="9.0"/>
<circle cx="1207.6" cy="478.8" r="9.0"/>
<circle cx="1215.6" cy="478.8" r="9.0"/>
<circle cx="1223.6" cy="478.8" r="9.0"/>
<circle cx="1231.6" cy="478.8" r="9.0"/>
<circle cx="1239.6" cy="478.8" r="9.0"/>
<circle cx="1247.6" cy="478.8" r="9.0"/>
<circle cx="1255.6" cy="478.8" r="9.0"/>
<circle cx="1195.6" cy="485.8" r="9.0"/>
<circle cx="1203.6" cy="485.8" r="9.0"/>
<circle cx="1211.6" cy="485.8" r="9.0"/>
<circle cx="1219.6" cy="485.8" r="9.0"/>
<circle cx="1227.6" cy="485.8" r="9.0"/>
<circle cx="1235.6" cy="485.8" r="9.0"/>
<circle cx="1243.6" cy="485.8" r="9.0"/>
<circle cx="1251.6" cy="485.8" r="9.0"/>
<circle cx="1259.6" cy="485.8" r="9.0"/>
<circle cx="1267.6" cy="485.8" r="9.0"/>
<circle cx="1199.6" cy="492.7" r="9.0"/>
<circle cx="1207.6" cy="492.7" r="9.0"/>
<circle cx="1215.6" cy="492.7" r="9.0"/>
<circle cx="1223.6" cy="492.7" r="9.0"/>
<circle cx="1231.6" cy="492.7" r="9.0"/>
<circle cx="1239.6" cy="492.7" r="9.0"/>
<circle cx="1247.6" cy="492.7" r="9.0"/>
<circle cx="1255.6" cy="492.7" r="9.0"/>
<circle cx="1263.6" cy="492.7" r="9.0"/>
<circle cx="1195.6" cy="499.6" r="9.0"/>
<circle cx="1203.6" cy="499.6" r="9.0"/>
<circle cx="1211.6" cy="499.6" r="9.0"/>
<circle cx="1219.6" cy="499.6" r="9.0"/>
<circle cx="1227.6" cy="499.6" r="9.0"/>
<circle cx="1235.6" cy="499.6" r="9.0"/>
<circle cx="1243.6" cy="499.6" r="9.0"/>
<circle cx="1251.6" cy="499.6" r="9.0"/>
<circle cx="1342.4" cy="616.4" r="9.0"/>
<circle cx="1340.5" cy="613.1" r="9.0"/>
<circle cx="1337.6" cy="616.3" r="9.0"/>
<circle cx="1333.6" cy="617.8" r="9.0"/>
<circle cx="1329.4" cy="617.2" r="9.0"/>
<circle cx="1327.2" cy="617" r="9.0"/>
<circle cx="1329.3" cy="620.9" r="9.0"/>
<circle cx="1329.6" cy="625.1" r="9.0"/>
<circle cx="1332.3" cy="624.4" r="9.0"/>
<circle cx="1336" cy="622.2" r="9.0"/>
<circle cx="1339.2" cy="619.3" r="9.0"/>
<circle cx="1330.6" cy="619.8" r="9.0"/>
<circle cx="1338.6" cy="619.8" r="9.0"/>
<circle cx="1319.3" cy="588.6" r="9.0"/>
<circle cx="1317.3" cy="585.2" r="9.0"/>
<circle cx="1315.6" cy="581.5" r="9.0"/>
<circle cx="1313.4" cy="578.4" r="9.0"/>
<circle cx="1309.6" cy="577.8" r="9.0"/>
<circle cx="1307.1" cy="580.6" r="9.0"/>
<circle cx="1308" cy="584.5" r="9.0"/>
<circle cx="1307.5" cy="588.5" r="9.0"/>
<circle cx="1306.7" cy="592.4" r="9.0"/>
<circle cx="1304.5" cy="595.8" r="9.0"/>
<circle cx="1302.4" cy="598.9" r="9.0"/>
<circle cx="1301.2" cy="602.8" r="9.0"/>
<circle cx="1300.8" cy="606.8" r="9.0"/>
<circle cx="1303.6" cy="605.7" r="9.0"/>
<circle cx="1307.4" cy="604.3" r="9.0"/>
<circle cx="1311.3" cy="604.7" r="9.0"/>
<circle cx="1314.8" cy="606.8" r="9.0"/>
<circle cx="1318.2" cy="608.9" r="9.0"/>
<circle cx="1320.3" cy="608.3" r="9.0"/>
<circle cx="1319.5" cy="604.3" r="9.0"/>
<circle cx="1320" cy="600.3" r="9.0"/>
<circle cx="1321" cy="596.4" r="9.0"/>
<circle cx="1323.5" cy="593.3" r="9.0"/>
<circle cx="1322.6" cy="591" r="9.0"/>
<circle cx="1312.7" cy="584.5" r="9.0"/>
<circle cx="1308.7" cy="591.4" r="9.0"/>
<circle cx="1316.7" cy="591.4" r="9.0"/>
<circle cx="1304.7" cy="598.4" r="9.0"/>
<circle cx="1312.7" cy="598.4" r="9.0"/>
<circle cx="1316.7" cy="605.3" r="9.0"/>
<circle cx="1299" cy="635.7" r="9.0"/>
<circle cx="1302.5" cy="638.1" r="9.0"/>
<circle cx="1306.3" cy="639.9" r="9.0"/>
<circle cx="1310.7" cy="640" r="9.0"/>
<circle cx="1314.3" cy="637.9" r="9.0"/>
<circle cx="1317.7" cy="635.2" r="9.0"/>
<circle cx="1314.1" cy="634.5" r="9.0"/>
<circle cx="1310" cy="634.5" r="9.0"/>
<circle cx="1306" cy="636.1" r="9.0"/>
<circle cx="1301.7" cy="635.8" r="9.0"/>
<circle cx="1310" cy="749.7" r="9.0"/>
<circle cx="1312.9" cy="746.9" r="9.0"/>
<circle cx="1316" cy="744.2" r="9.0"/>
<circle cx="1319.1" cy="741.6" r="9.0"/>
<circle cx="1321.3" cy="738.1" r="9.0"/>
<circle cx="1323.4" cy="734.7" r="9.0"/>
<circle cx="1325.6" cy="731.2" r="9.0"/>
<circle cx="1322.8" cy="730" r="9.0"/>
<circle cx="1319.4" cy="727.9" r="9.0"/>
<circle cx="1317.2" cy="724.5" r="9.0"/>
<circle cx="1315.4" cy="720.8" r="9.0"/>
<circle cx="1314.5" cy="716.9" r="9.0"/>
<circle cx="1315.3" cy="713" r="9.0"/>
<circle cx="1317.5" cy="709.5" r="9.0"/>
<circle cx="1320.5" cy="706.8" r="9.0"/>
<circle cx="1324.3" cy="705.6" r="9.0"/>
<circle cx="1328.3" cy="706.3" r="9.0"/>
<circle cx="1331.5" cy="708.8" r="9.0"/>
<circle cx="1333.5" cy="712.3" r="9.0"/>
<circle cx="1335.5" cy="712.1" r="9.0"/>
<circle cx="1338.1" cy="708.9" r="9.0"/>
<circle cx="1339.8" cy="705.8" r="9.0"/>
<circle cx="1337.4" cy="702.5" r="9.0"/>
<circle cx="1334" cy="701.4" r="9.0"/>
<circle cx="1329.9" cy="701.8" r="9.0"/>
<circle cx="1325.9" cy="702.2" r="9.0"/>
<circle cx="1321.8" cy="702.4" r="9.0"/>
<circle cx="1317.7" cy="702.5" r="9.0"/>
<circle cx="1313.7" cy="702.8" r="9.0"/>
<circle cx="1309.8" cy="704" r="9.0"/>
<circle cx="1305.9" cy="705.3" r="9.0"/>
<circle cx="1302.1" cy="706.7" r="9.0"/>
<circle cx="1299" cy="708.7" r="9.0"/>
<circle cx="1299" cy="712.8" r="9.0"/>
<circle cx="1299" cy="716.8" r="9.0"/>
<circle cx="1299" cy="720.9" r="9.0"/>
<circle cx="1299" cy="725" r="9.0"/>
<circle cx="1299" cy="729" r="9.0"/>
<circle cx="1299" cy="733.1" r="9.0"/>
<circle cx="1299" cy="737.2" r="9.0"/>
<circle cx="1299" cy="741.3" r="9.0"/>
<circle cx="1299" cy="745.3" r="9.0"/>
<circle cx="1299" cy="749.4" r="9.0"/>
<circle cx="1302.1" cy="750.7" r="9.0"/>
<circle cx="1305.6" cy="752.9" r="9.0"/>
<circle cx="1308.2" cy="753.4" r="9.0"/>
<circle cx="1303" cy="708.1" r="9.0"/>
<circle cx="1311" cy="708.1" r="9.0"/>
<circle cx="1335" cy="708.1" r="9.0"/>
<circle cx="1307" cy="715" r="9.0"/>
<circle cx="1303" cy="722" r="9.0"/>
<circle cx="1311" cy="722" r="9.0"/>
<circle cx="1307" cy="728.9" r="9.0"/>
<circle cx="1315" cy="728.9" r="9.0"/>
<circle cx="1303" cy="735.8" r="9.0"/>
<circle cx="1311" cy="735.8" r="9.0"/>
<circle cx="1319" cy="735.8" r="9.0"/>
<circle cx="1307" cy="742.7" r="9.0"/>
<circle cx="1315" cy="742.7" r="9.0"/>
<circle cx="1303" cy="749.7" r="9.0"/>
<circle cx="1299" cy="777.1" r="9.0"/>
<circle cx="1303.1" cy="778.9" r="9.0"/>
<circle cx="1306.3" cy="782" r="9.0"/>
<circle cx="1307.1" cy="778" r="9.0"/>
<circle cx="1307.4" cy="773.6" r="9.0"/>
<circle cx="1306" cy="772.1" r="9.0"/>
<circle cx="1302.3" cy="774.7" r="9.0"/>
<circle cx="1303" cy="777.7" r="9.0"/>
<circle cx="1258.1" cy="555.6" r="9.0"/>
<circle cx="1208.5" cy="526.4" r="9.0"/>
<circle cx="1207.6" cy="563.9" r="9.0"/>
</g>
<g fill="none">
<polyline points="230.5,1509.1 242.1,1500 253.7,1490.9 265.2,1481.8 276.8,1472.7 288.4,1463.6 300,1454.5 311.5,1445.4 323.1,1436.3 334.7,1427.2 346.3,1418.1 357.8,1409 369.4,1399.9 381,1390.8 392.6,1381.7 404.2,1372.6 415.7,1363.4 427.3,1354.3 438.9,1345.2 450.5,1336.1 462,1327 473.6,1317.9 485.2,1308.8 496.8,1299.7 508.3,1290.6 519.9,1281.5 531.5,1272.4 543.1,1263.3 554.7,1254.2 566.2,1245.1 577.8,1235.9 589.4,1226.8 601,1217.7 612.5,1208.6 624.1,1199.5 635.7,1190.4 647.3,1181.3 658.8,1172.2 670.4,1163.1 682,1154 693.6,1144.8 705.2,1135.7 716.7,1126.6 728.3,1117.5 739.9,1108.4 751.5,1099.3 763,1090.2 774.6,1081.1 786.2,1071.9 797.8,1062.8 809.3,1053.7 820.9,1044.6 832.5,1035.5 844.1,1026.3 855.7,1017.2 867.2,1008.1 878.8,999 890.4,989.8 902,980.7 913.5,971.6 925.1,962.4 936.7,953.3 948.3,944.2 959.8,935 971.4,925.9 983,916.7 994.6,907.6 1006.2,898.4 1017.7,889.2 1029.3,880 1040.9,870.9 1052.5,861.6 1064,852.4 1075.6,843.2 1087.2,833.9 1098.8,824.6 1110.3,815.3 1121.9,806 1133.5,796.6 1145.1,787.1 1156.7,777.6 1168.2,768.1 1179.8,758.5 1191.4,748.9 1203,739.2 1214.5,729.5 1226.1,719.8 1237.7,710 1249.3,700.3 1260.8,690.5 1272.4,680.6 1284,670.8 1295.6,661 1307.2,651.1 1318.7,641.3 1330.3,631.4 1341.9,621.6 1353.5,611.7 1365,601.8 1376.6,591.9 1388.2,582 1399.8,572.1 1411.3,562.3 1422.9,552.4 1434.5,542.5 1446.1,532.6 1457.7,522.7 1469.2,512.8 1480.8,502.9 1492.4,493 1504,483.1 1515.5,473.2 1527.1,463.3 1538.7,453.4 1550.3,443.5 1561.8,433.6 1573.4,423.7 1585,413.7 1596.6,403.8 1608.2,393.9 1619.7,384 1631.3,374.1 1642.9,364.2 1654.5,354.3 1666,344.4 1677.6,334.5 1689.2,324.6 1700.8,314.6 1712.3,304.7 1723.9,294.8 1735.5,284.9" stroke="#00ff1a" stroke-width="3.0"/>
<polyline points="247,1560.6 253.7,1554.9 265.2,1545 276.8,1535.1 288.4,1525.1 300,1515.2 311.5,1505.3 323.1,1495.4 334.7,1485.5 346.3,1475.6 357.8,1465.6 369.4,1455.7 381,1445.8 392.6,1435.9 404.2,1426 415.7,1416.1 427.3,1406.2 438.9,1396.2 450.5,1386.3 462,1376.4 473.6,1366.5 485.2,1356.6 496.8,1346.7 508.3,1336.8 519.9,1326.8 531.5,1316.9 543.1,1307 554.7,1297.1 566.2,1287.2 577.8,1277.3 589.4,1267.4 601,1257.5 612.5,1247.5 624.1,1237.6 635.7,1227.7 647.3,1217.8 658.8,1207.9 670.4,1198 682,1188.1 693.6,1178.2 705.2,1168.3 716.7,1158.4 728.3,1148.5 739.9,1138.5 751.5,1128.6 763,1118.7 774.6,1108.8 786.2,1098.9 797.8,1089 809.3,1079.1 820.9,1069.2 832.5,1059.3 844.1,1049.4 855.7,1039.5 867.2,1029.6 878.8,1019.7 890.4,1009.8 902,999.9 913.5,990 925.1,980.2 936.7,970.3 948.3,960.4 959.8,950.5 971.4,940.6 983,930.8 994.6,920.9 1006.2,911.1 1017.7,901.2 1029.3,891.4 1040.9,881.5 1052.5,871.7 1064,861.9 1075.6,852.2 1087.2,842.4 1098.8,832.7 1110.3,823 1121.9,813.3 1133.5,803.7 1145.1,794.1 1156.7,784.6 1168.2,775.1 1179.8,765.6 1191.4,756.2 1203,746.9 1214.5,737.6 1226.1,728.3 1237.7,719 1249.3,709.8 1260.8,700.5 1272.4,691.3 1284,682.1 1295.6,673 1307.2,663.8 1318.7,654.6 1330.3,645.5 1341.9,636.3 1353.5,627.2 1365,618 1376.6,608.9 1388.2,599.7 1399.8,590.6 1411.3,581.5 1422.9,572.4 1434.5,563.2 1446.1,554.1 1457.7,545 1469.2,535.9 1480.8,526.7 1492.4,517.6 1504,508.5 1515.5,499.4 1527.1,490.3 1538.7,481.1 1550.3,472 1561.8,462.9 1573.4,453.8 1585,444.7 1596.6,435.6 1608.2,426.5 1619.7,417.3 1631.3,408.2 1642.9,399.1 1654.5,390 1666,380.9 1677.6,371.8 1689.2,362.7 1700.8,353.6 1712.3,344.5 1723.9,335.4 1735.5,326.2" stroke="#00ff1a" stroke-width="3.0"/>
<polyline points="230.5,1349.5 242.1,1340 253.7,1330.6 265.2,1321.2 276.8,1311.7 288.4,1302.3 300,1292.8 311.5,1283.4 323.1,1273.9 334.7,1264.5 346.3,1255 357.8,1245.6 369.4,1236.1 381,1226.7 392.6,1217.2 404.2,1207.8 415.7,1198.3 427.3,1188.9 438.9,1179.4 450.5,1169.9 462,1160.5 473.6,1151 485.2,1141.6 496.8,1132.1 508.3,1122.6 519.9,1113.2 531.5,1103.7 543.1,1094.3 554.7,1084.8 566.2,1075.3 577.8,1065.9 589.4,1056.4 601,1046.9 612.5,1037.5 624.1,1028 635.7,1018.5 647.3,1009 658.8,999.6 670.4,990.1 682,980.6 693.6,971.1 705.2,961.7 716.7,952.2 728.3,942.7 739.9,933.2 751.5,923.8 763,914.3 774.6,904.8 786.2,895.3 797.8,885.8 809.3,876.4 820.9,866.9 832.5,857.4 844.1,847.9 855.7,838.4 867.2,828.9 878.8,819.4 890.4,809.9 902,800.5 913.5,791 925.1,781.5 936.7,772 948.3,762.5 959.8,753 971.4,743.5 983,734 994.6,724.5 1006.2,715 1017.7,705.5 1029.3,696 1040.9,686.5 1052.5,677 1064,667.5 1075.6,658 1087.2,648.5 1098.8,639 1110.3,629.5 1121.9,620 1133.5,610.5 1145.1,600.9 1156.7,591.4 1168.2,581.9 1179.8,572.4 1191.4,562.9 1203,553.4 1214.5,543.9 1226.1,534.4 1237.7,524.8 1249.3,515.3 1260.8,505.8 1272.4,496.3 1284,486.8 1295.6,477.2 1307.2,467.7 1318.7,458.2 1330.3,448.7 1341.9,439.2 1353.5,429.6 1365,420.1 1376.6,410.6 1388.2,401.1 1399.8,391.5 1411.3,382 1422.9,372.5 1434.5,362.9 1446.1,353.4 1457.7,343.9 1469.2,334.3 1480.8,324.8 1492.4,315.3 1504,305.7 1515.5,296.2 1527.1,286.7 1538.7,277.1 1550.3,267.6 1561.8,258 1573.4,248.5 1585,239 1596.6,229.4 1608.2,219.9 1619.7,210.3 1631.3,200.8 1642.9,191.2 1654.5,181.7 1666,172.1 1677.6,162.6 1689.2,153 1700.8,143.5 1712.3,133.9 1723.9,124.4 1735.5,114.8" stroke="#3300ff" stroke-width="3.2"/>
<polyline points="440.7,1560.6 450.5,1552.5 462,1543 473.6,1533.4 485.2,1523.8 496.8,1514.3 508.3,1504.7 519.9,1495.1 531.5,1485.6 543.1,1476 554.7,1466.5 566.2,1456.9 577.8,1447.4 589.4,1437.8 601,1428.3 612.5,1418.7 624.1,1409.2 635.7,1399.6 647.3,1390.1 658.8,1380.5 670.4,1371 682,1361.4 693.6,1351.9 705.2,1342.3 716.7,1332.8 728.3,1323.2 739.9,1313.7 751.5,1304.2 763,1294.6 774.6,1285.1 786.2,1275.5 797.8,1266 809.3,1256.5 820.9,1246.9 832.5,1237.4 844.1,1227.9 855.7,1218.3 867.2,1208.8 878.8,1199.3 890.4,1189.7 902,1180.2 913.5,1170.7 925.1,1161.1 936.7,1151.6 948.3,1142.1 959.8,1132.6 971.4,1123 983,1113.5 994.6,1104 1006.2,1094.5 1017.7,1084.9 1029.3,1075.4 1040.9,1065.9 1052.5,1056.4 1064,1046.9 1075.6,1037.4 1087.2,1027.8 1098.8,1018.3 1110.3,1008.8 1121.9,999.3 1133.5,989.8 1145.1,980.3 1156.7,970.8 1168.2,961.2 1179.8,951.7 1191.4,942.2 1203,932.7 1214.5,923.2 1226.1,913.7 1237.7,904.2 1249.3,894.7 1260.8,885.2 1272.4,875.7 1284,866.2 1295.6,856.7 1307.2,847.2 1318.7,837.7 1330.3,828.2 1341.9,818.7 1353.5,809.2 1365,799.7 1376.6,790.2 1388.2,780.7 1399.8,771.2 1411.3,761.7 1422.9,752.3 1434.5,742.8 1446.1,733.3 1457.7,723.8 1469.2,714.3 1480.8,704.8 1492.4,695.3 1504,685.8 1515.5,676.4 1527.1,666.9 1538.7,657.4 1550.3,647.9 1561.8,638.4 1573.4,629 1585,619.5 1596.6,610 1608.2,600.5 1619.7,591 1631.3,581.6 1642.9,572.1 1654.5,562.6 1666,553.2 1677.6,543.7 1689.2,534.2 1700.8,524.7 1712.3,515.3 1723.9,505.8 1735.5,496.3" stroke="#3300ff" stroke-width="3.2"/>
<polyline points="230.5,1541.9 242.1,1532.4 253.7,1522.9 265.2,1513.4 276.8,1503.9 288.4,1494.4 300,1484.9 311.5,1475.4 323.1,1465.8 334.7,1456.3 346.3,1446.8 357.8,1437.3 369.4,1427.8 381,1418.3 392.6,1408.8 404.2,1399.3 415.7,1389.8 427.3,1380.2 438.9,1370.7 450.5,1361.2 462,1351.7 473.6,1342.2 485.2,1332.7 496.8,1323.2 508.3,1313.7 519.9,1304.2 531.5,1294.7 543.1,1285.1 554.7,1275.6 566.2,1266.1 577.8,1256.6 589.4,1247.1 601,1237.6 612.5,1228.1 624.1,1218.6 635.7,1209.1 647.3,1199.6 658.8,1190 670.4,1180.5 682,1171 693.6,1161.5 705.2,1152 716.7,1142.5 728.3,1133 739.9,1123.5 751.5,1114 763,1104.4 774.6,1094.9 786.2,1085.4 797.8,1075.9 809.3,1066.4 820.9,1056.9 832.5,1047.4 844.1,1037.9 855.7,1028.4 867.2,1018.9 878.8,1009.3 890.4,999.8 902,990.3 913.5,980.8 925.1,971.3 936.7,961.8 948.3,952.3 959.8,942.8 971.4,933.3 983,923.8 994.6,914.2 1006.2,904.7 1017.7,895.2 1029.3,885.7 1040.9,876.2 1052.5,866.7 1064,857.2 1075.6,847.7 1087.2,838.2 1098.8,828.6 1110.3,819.1 1121.9,809.6 1133.5,800.1 1145.1,790.6 1156.7,781.1 1168.2,771.6 1179.8,762.1 1191.4,752.6 1203,743.1 1214.5,733.5 1226.1,724 1237.7,714.5 1249.3,705 1260.8,695.5 1272.4,686 1284,676.5 1295.6,667 1307.2,657.5 1318.7,648 1330.3,638.4 1341.9,628.9 1353.5,619.4 1365,609.9 1376.6,600.4 1388.2,590.9 1399.8,581.4 1411.3,571.9 1422.9,562.4 1434.5,552.8 1446.1,543.3 1457.7,533.8 1469.2,524.3 1480.8,514.8 1492.4,505.3 1504,495.8 1515.5,486.3 1527.1,476.8 1538.7,467.3 1550.3,457.7 1561.8,448.2 1573.4,438.7 1585,429.2 1596.6,419.7 1608.2,410.2 1619.7,400.7 1631.3,391.2 1642.9,381.7 1654.5,372.2 1666,362.6 1677.6,353.1 1689.2,343.6 1700.8,334.1 1712.3,324.6 1723.9,315.1 1735.5,305.6" stroke="#ff1a28" stroke-width="3.2"/>
</g>
<g class="tk">
<text x="229.8" y="1638.5" text-anchor="middle">-80</text>
<text x="345.6" y="1638.5" text-anchor="middle">-70</text>
<text x="461.3" y="1638.5" text-anchor="middle">-60</text>
<text x="577.1" y="1638.5" text-anchor="middle">-50</text>
<text x="692.9" y="1638.5" text-anchor="middle">-40</text>
<text x="808.6" y="1638.5" text-anchor="middle">-30</text>
<text x="924.4" y="1638.5" text-anchor="middle">-20</text>
<text x="1040.2" y="1638.5" text-anchor="middle">-10</text>
<text x="1156" y="1638.5" text-anchor="middle">0</text>
<text x="1271.7" y="1638.5" text-anchor="middle">10</text>
<text x="1387.5" y="1638.5" text-anchor="middle">20</text>
<text x="1503.3" y="1638.5" text-anchor="middle">30</text>
<text x="1619" y="1638.5" text-anchor="middle">40</text>
<text x="1734.8" y="1638.5" text-anchor="middle">50</text>
<text x="189.8" y="74" text-anchor="end">50</text>
<text x="189.8" y="189.3" text-anchor="end">40</text>
<text x="189.8" y="304.6" text-anchor="end">30</text>
<text x="189.8" y="419.8" text-anchor="end">20</text>
<text x="189.8" y="535.1" text-anchor="end">10</text>
<text x="189.8" y="650.4" text-anchor="end">0</text>
<text x="189.8" y="765.7" text-anchor="end">-10</text>
<text x="189.8" y="880.9" text-anchor="end">-20</text>
<text x="189.8" y="996.2" text-anchor="end">-30</text>
<text x="189.8" y="1111.5" text-anchor="end">-40</text>
<text x="189.8" y="1226.8" text-anchor="end">-50</text>
<text x="189.8" y="1342" text-anchor="end">-60</text>
<text x="189.8" y="1457.3" text-anchor="end">-70</text>
<text x="189.8" y="1572.6" text-anchor="end">-80</text>
</g>
<text class="tt" x="499.5" y="1733.2" xml:space="preserve">RCMs AVG(A2) - RCMs AVG(CTRL)</text>
<text class="tt" style="font-size:59.8px" transform="translate(80.2 1151.8) rotate(-90)">RCMs AVG(A2)-GPCP</text>
</svg>
</body></html>
